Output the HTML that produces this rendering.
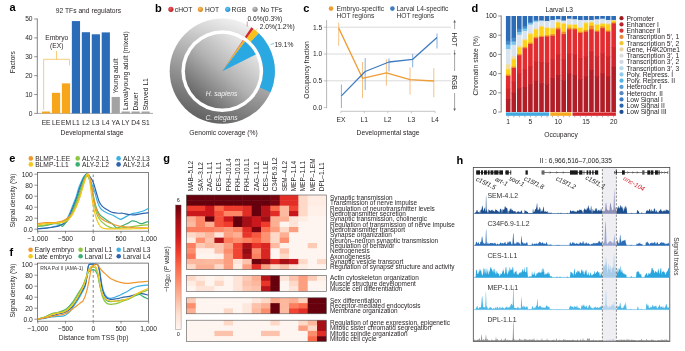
<!DOCTYPE html>
<html><head><meta charset="utf-8"><style>
html,body{margin:0;padding:0;background:#fff;width:685px;height:351px;overflow:hidden}
svg{display:block;font-family:"Liberation Sans", sans-serif;will-change:transform}
</style></head><body>
<svg width="685" height="351" viewBox="0 0 685 351">
<rect width="685" height="351" fill="#fff"/>
<text x="9.60" y="10.90" font-size="11" font-weight="bold" fill="#000">a</text>
<text x="88.50" y="13.30" font-size="6.7" text-anchor="middle" fill="#231f20">92 TFs and regulators</text>
<line x1="37.30" y1="18.60" x2="37.30" y2="113.70" stroke="#4d4d4d" stroke-width="0.7"/>
<line x1="34.20" y1="113.40" x2="37.30" y2="113.40" stroke="#4d4d4d" stroke-width="0.6"/>
<text x="32.60" y="115.70" font-size="6.7" text-anchor="end" fill="#231f20">0</text>
<line x1="34.20" y1="94.52" x2="37.30" y2="94.52" stroke="#4d4d4d" stroke-width="0.6"/>
<text x="32.60" y="96.82" font-size="6.7" text-anchor="end" fill="#231f20">10</text>
<line x1="34.20" y1="75.64" x2="37.30" y2="75.64" stroke="#4d4d4d" stroke-width="0.6"/>
<text x="32.60" y="77.94" font-size="6.7" text-anchor="end" fill="#231f20">20</text>
<line x1="34.20" y1="56.76" x2="37.30" y2="56.76" stroke="#4d4d4d" stroke-width="0.6"/>
<text x="32.60" y="59.06" font-size="6.7" text-anchor="end" fill="#231f20">30</text>
<line x1="34.20" y1="37.88" x2="37.30" y2="37.88" stroke="#4d4d4d" stroke-width="0.6"/>
<text x="32.60" y="40.18" font-size="6.7" text-anchor="end" fill="#231f20">40</text>
<line x1="34.20" y1="19.00" x2="37.30" y2="19.00" stroke="#4d4d4d" stroke-width="0.6"/>
<text x="32.60" y="21.30" font-size="6.7" text-anchor="end" fill="#231f20">50</text>
<line x1="37.30" y1="113.40" x2="153.00" y2="113.40" stroke="#888" stroke-width="0.7"/>
<rect x="42.00" y="111.51" width="8.20" height="1.89" fill="#f7a61c"/>
<text x="46.10" y="124.70" font-size="6.7" text-anchor="middle" fill="#231f20">EE</text>
<rect x="51.95" y="92.82" width="8.20" height="20.58" fill="#f7a61c"/>
<text x="56.05" y="124.70" font-size="6.7" text-anchor="middle" fill="#231f20">LE</text>
<rect x="61.90" y="83.38" width="8.20" height="30.02" fill="#f7a61c"/>
<text x="66.00" y="124.70" font-size="6.7" text-anchor="middle" fill="#231f20">EM</text>
<rect x="71.85" y="21.08" width="8.20" height="92.32" fill="#2b6cb8"/>
<text x="75.95" y="124.70" font-size="6.7" text-anchor="middle" fill="#231f20">L1</text>
<rect x="81.80" y="32.22" width="8.20" height="81.18" fill="#2b6cb8"/>
<text x="85.90" y="124.70" font-size="6.7" text-anchor="middle" fill="#231f20">L2</text>
<rect x="91.75" y="34.29" width="8.20" height="79.11" fill="#2b6cb8"/>
<text x="95.85" y="124.70" font-size="6.7" text-anchor="middle" fill="#231f20">L3</text>
<rect x="101.70" y="32.40" width="8.20" height="81.00" fill="#2b6cb8"/>
<text x="105.80" y="124.70" font-size="6.7" text-anchor="middle" fill="#231f20">L4</text>
<rect x="111.65" y="96.97" width="8.20" height="16.43" fill="#a3a3a3"/>
<text x="115.75" y="124.70" font-size="6.7" text-anchor="middle" fill="#231f20">YA</text>
<rect x="121.60" y="111.51" width="8.20" height="1.89" fill="#a3a3a3"/>
<text x="125.70" y="124.70" font-size="6.7" text-anchor="middle" fill="#231f20">LY</text>
<rect x="131.55" y="111.51" width="8.20" height="1.89" fill="#a3a3a3"/>
<text x="135.65" y="124.70" font-size="6.7" text-anchor="middle" fill="#231f20">D4</text>
<rect x="141.50" y="111.51" width="8.20" height="1.89" fill="#a3a3a3"/>
<text x="145.60" y="124.70" font-size="6.7" text-anchor="middle" fill="#231f20">S1</text>
<text x="92.00" y="135.40" font-size="6.7" text-anchor="middle" fill="#231f20">Developmental stage</text>
<text x="14.80" y="62.20" font-size="6.7" text-anchor="middle" fill="#231f20" transform="rotate(-90 14.80 62.20)">Factors</text>
<text x="56.80" y="39.90" font-size="6.7" text-anchor="middle" fill="#231f20">Embryo</text>
<text x="56.80" y="47.80" font-size="6.7" text-anchor="middle" fill="#231f20">(EX)</text>
<line x1="56.50" y1="51.00" x2="56.50" y2="59.30" stroke="#f5b843" stroke-width="0.7"/>
<line x1="43.60" y1="59.30" x2="69.50" y2="59.30" stroke="#f5b843" stroke-width="0.7"/>
<line x1="43.60" y1="59.30" x2="43.60" y2="109.80" stroke="#f5b843" stroke-width="0.7"/>
<line x1="69.50" y1="59.30" x2="69.50" y2="65.50" stroke="#f5b843" stroke-width="0.7"/>
<text x="117.60" y="93.50" font-size="6.7" fill="#231f20" transform="rotate(-90 117.60 93.50)">Young adult</text>
<text x="127.50" y="110.00" font-size="6.7" fill="#231f20" transform="rotate(-90 127.50 110.00)">Larval/young adult (mixed)</text>
<text x="137.50" y="110.50" font-size="6.7" fill="#231f20" transform="rotate(-90 137.50 110.50)">Dauer</text>
<text x="147.50" y="110.50" font-size="6.7" fill="#231f20" transform="rotate(-90 147.50 110.50)">Starved L1</text>
<text x="155.00" y="11.60" font-size="11" font-weight="bold" fill="#000">b</text>
<defs><radialGradient id="sR" cx="0.4" cy="0.35" r="0.7"><stop offset="0" stop-color="#ee5a5a"/><stop offset="1" stop-color="#b51a22"/></radialGradient><radialGradient id="sO" cx="0.4" cy="0.35" r="0.7"><stop offset="0" stop-color="#f7c060"/><stop offset="1" stop-color="#d9801a"/></radialGradient><radialGradient id="sB" cx="0.4" cy="0.35" r="0.7"><stop offset="0" stop-color="#6cc8f0"/><stop offset="1" stop-color="#1a8ad0"/></radialGradient><radialGradient id="sG" cx="0.4" cy="0.35" r="0.7"><stop offset="0" stop-color="#c8c8c8"/><stop offset="1" stop-color="#7a7a7a"/></radialGradient></defs>
<circle cx="170.90" cy="9.30" r="2.6" fill="url(#sR)"/>
<text x="174.80" y="11.60" font-size="6.7" fill="#231f20">cHOT</text>
<circle cx="200.40" cy="9.30" r="2.6" fill="url(#sO)"/>
<text x="204.90" y="11.60" font-size="6.7" fill="#231f20">HOT</text>
<circle cx="227.70" cy="9.30" r="2.6" fill="url(#sB)"/>
<text x="231.60" y="11.60" font-size="6.7" fill="#231f20">RGB</text>
<circle cx="255.00" cy="9.30" r="2.6" fill="url(#sG)"/>
<text x="260.40" y="11.60" font-size="6.7" fill="#231f20">No TFs</text>
<defs><linearGradient id="gOuter" x1="0.7" y1="0" x2="0.3" y2="1"><stop offset="0" stop-color="#f6f6f6"/><stop offset="0.45" stop-color="#b0b0b0"/><stop offset="1" stop-color="#5c5c5c"/></linearGradient><linearGradient id="gInner" x1="0.85" y1="0.1" x2="0.15" y2="0.9"><stop offset="0" stop-color="#ebebeb"/><stop offset="0.5" stop-color="#b2b2b2"/><stop offset="1" stop-color="#626262"/></linearGradient></defs>
<circle cx="222.3" cy="71.2" r="52.6" fill="url(#gOuter)"/>
<circle cx="222.3" cy="71.2" r="40.9" fill="#fff"/>
<circle cx="222.3" cy="71.2" r="37.4" fill="url(#gInner)"/>
<path d="M251.33,27.34 A52.6,52.6 0 0 1 253.59,28.92 L246.63,38.32 A40.9,40.9 0 0 0 244.87,37.09 Z" fill="#d7282f"/>
<path d="M253.59,28.92 A52.6,52.6 0 0 1 258.84,33.36 L250.71,41.78 A40.9,40.9 0 0 0 246.63,38.32 Z" fill="#f7c11c"/>
<path d="M258.84,33.36 A52.6,52.6 0 0 1 270.54,92.17 L259.81,87.51 A40.9,40.9 0 0 0 250.71,41.78 Z" fill="#2aa8e2"/>
<path d="M222.30,71.20 L242.83,39.94 A37.4,37.4 0 0 1 243.38,40.30 Z" fill="#d7282f"/>
<path d="M222.30,71.20 L243.38,40.30 A37.4,37.4 0 0 1 245.12,41.57 Z" fill="#f7b21c"/>
<path d="M222.30,71.20 L245.12,41.57 A37.4,37.4 0 0 1 255.77,54.51 Z" fill="#2aa8e2"/>
<line x1="247.20" y1="21.50" x2="247.20" y2="26.50" stroke="#d7282f" stroke-width="0.5"/>
<line x1="257.50" y1="28.50" x2="255.50" y2="31.00" stroke="#e8a21c" stroke-width="0.5"/>
<line x1="270.50" y1="44.50" x2="274.00" y2="43.50" stroke="#2aa8e2" stroke-width="0.6"/>
<text x="247.40" y="20.70" font-size="6.7" fill="#231f20">0.6%(0.3%)</text>
<text x="259.70" y="28.70" font-size="6.7" fill="#231f20">2.0%(1.2%)</text>
<text x="274.40" y="47.00" font-size="6.7" fill="#231f20">19.1%</text>
<text x="221.50" y="95.60" font-size="6.7" text-anchor="middle" font-style="italic" fill="#f4f4f4">H. sapiens</text>
<text x="221.50" y="120.00" font-size="6.7" text-anchor="middle" font-style="italic" fill="#eeeeee">C. elegans</text>
<text x="223.50" y="134.90" font-size="6.7" text-anchor="middle" fill="#231f20">Genomic coverage (%)</text>
<text x="303.30" y="11.80" font-size="11" font-weight="bold" fill="#000">c</text>
<circle cx="331.00" cy="8.60" r="2.3" fill="#ee9d33"/>
<text x="336.50" y="10.90" font-size="6.7" fill="#333">Embryo-specific</text>
<text x="336.50" y="17.60" font-size="6.7" fill="#333">HOT regions</text>
<circle cx="392.40" cy="8.60" r="2.3" fill="#3f7cc0"/>
<text x="396.40" y="10.90" font-size="6.7" fill="#333">Larval L4-specific</text>
<text x="396.40" y="17.60" font-size="6.7" fill="#333">HOT regions</text>
<line x1="327.00" y1="80.80" x2="451.00" y2="80.80" stroke="#d6d6d6" stroke-width="0.9"/>
<line x1="327.00" y1="54.00" x2="451.00" y2="54.00" stroke="#d6d6d6" stroke-width="0.9"/>
<line x1="327.00" y1="27.20" x2="451.00" y2="27.20" stroke="#d6d6d6" stroke-width="0.9"/>
<line x1="326.60" y1="20.00" x2="326.60" y2="108.10" stroke="#9a9a9a" stroke-width="0.7"/>
<line x1="323.80" y1="107.60" x2="326.60" y2="107.60" stroke="#9a9a9a" stroke-width="0.6"/>
<text x="322.20" y="109.90" font-size="6.7" text-anchor="end" fill="#231f20">0.0</text>
<line x1="323.80" y1="80.80" x2="326.60" y2="80.80" stroke="#9a9a9a" stroke-width="0.6"/>
<text x="322.20" y="83.10" font-size="6.7" text-anchor="end" fill="#231f20">0.5</text>
<line x1="323.80" y1="54.00" x2="326.60" y2="54.00" stroke="#9a9a9a" stroke-width="0.6"/>
<text x="322.20" y="56.30" font-size="6.7" text-anchor="end" fill="#231f20">1.0</text>
<line x1="323.80" y1="27.20" x2="326.60" y2="27.20" stroke="#9a9a9a" stroke-width="0.6"/>
<text x="322.20" y="29.50" font-size="6.7" text-anchor="end" fill="#231f20">1.5</text>
<text x="309.00" y="70.00" font-size="6.7" text-anchor="middle" fill="#231f20" transform="rotate(-90 309.00 70.00)">Occupancy fraction</text>
<line x1="340.90" y1="111.30" x2="435.10" y2="111.30" stroke="#aaaaaa" stroke-width="0.7"/>
<line x1="340.90" y1="111.30" x2="340.90" y2="113.30" stroke="#aaaaaa" stroke-width="0.6"/>
<text x="340.90" y="121.70" font-size="6.7" text-anchor="middle" fill="#231f20">EX</text>
<line x1="364.30" y1="111.30" x2="364.30" y2="113.30" stroke="#aaaaaa" stroke-width="0.6"/>
<text x="364.30" y="121.70" font-size="6.7" text-anchor="middle" fill="#231f20">L1</text>
<line x1="387.80" y1="111.30" x2="387.80" y2="113.30" stroke="#aaaaaa" stroke-width="0.6"/>
<text x="387.80" y="121.70" font-size="6.7" text-anchor="middle" fill="#231f20">L2</text>
<line x1="411.40" y1="111.30" x2="411.40" y2="113.30" stroke="#aaaaaa" stroke-width="0.6"/>
<text x="411.40" y="121.70" font-size="6.7" text-anchor="middle" fill="#231f20">L3</text>
<line x1="435.10" y1="111.30" x2="435.10" y2="113.30" stroke="#aaaaaa" stroke-width="0.6"/>
<text x="435.10" y="121.70" font-size="6.7" text-anchor="middle" fill="#231f20">L4</text>
<text x="388.00" y="134.90" font-size="6.7" text-anchor="middle" fill="#231f20">Developmental stage</text>
<line x1="338.70" y1="22.70" x2="338.70" y2="45.70" stroke="#f2b366" stroke-width="0.8"/>
<line x1="362.50" y1="62.00" x2="362.50" y2="98.00" stroke="#f2b366" stroke-width="0.8"/>
<line x1="386.40" y1="59.30" x2="386.40" y2="85.60" stroke="#f2b366" stroke-width="0.8"/>
<line x1="410.00" y1="67.40" x2="410.00" y2="94.50" stroke="#f2b366" stroke-width="0.8"/>
<line x1="433.80" y1="68.20" x2="433.80" y2="97.20" stroke="#f2b366" stroke-width="0.8"/>
<line x1="341.40" y1="84.50" x2="341.40" y2="108.00" stroke="#6c9bd2" stroke-width="0.8"/>
<line x1="365.20" y1="58.00" x2="365.20" y2="90.00" stroke="#6c9bd2" stroke-width="0.8"/>
<line x1="389.00" y1="58.50" x2="389.00" y2="71.50" stroke="#6c9bd2" stroke-width="0.8"/>
<line x1="412.70" y1="53.90" x2="412.70" y2="67.40" stroke="#6c9bd2" stroke-width="0.8"/>
<line x1="437.00" y1="33.50" x2="437.00" y2="48.50" stroke="#6c9bd2" stroke-width="0.8"/>
<polyline points="338.7,28.1 362.5,78.3 386.4,72.8 410.0,79.6 433.8,81.0" fill="none" stroke="#ee9d33" stroke-width="1.3" stroke-linejoin="round"/>
<polyline points="341.4,95.9 365.2,71.5 389.0,62.0 412.7,59.3 437.0,37.6" fill="none" stroke="#3f7cc0" stroke-width="1.3" stroke-linejoin="round"/>
<line x1="454.60" y1="21.00" x2="454.60" y2="109.50" stroke="#666" stroke-width="0.6"/>
<path d="M453.3,22.5 L454.6,19.8 L455.90000000000003,22.5 Z" fill="#666"/>
<path d="M453.3,108.5 L454.6,111.2 L455.90000000000003,108.5 Z" fill="#666"/>
<circle cx="454.60" cy="53.70" r="0.9" fill="#666"/>
<rect x="451.60" y="29.00" width="6.00" height="21.00" fill="#fff"/>
<rect x="451.60" y="71.00" width="6.00" height="22.00" fill="#fff"/>
<text x="452.30" y="39.50" font-size="6.7" text-anchor="middle" fill="#231f20" transform="rotate(90 452.30 39.50)">HOT</text>
<text x="452.30" y="82.40" font-size="6.7" text-anchor="middle" fill="#231f20" transform="rotate(90 452.30 82.40)">RGB</text>
<text x="471.60" y="11.60" font-size="11" font-weight="bold" fill="#000">d</text>
<text x="559.20" y="11.60" font-size="6.7" text-anchor="middle" fill="#231f20">Larval L3</text>
<line x1="501.20" y1="15.50" x2="501.20" y2="112.30" stroke="#4d4d4d" stroke-width="0.7"/>
<line x1="498.20" y1="112.00" x2="501.20" y2="112.00" stroke="#4d4d4d" stroke-width="0.6"/>
<text x="496.80" y="114.30" font-size="6.7" text-anchor="end" fill="#231f20">0</text>
<line x1="498.20" y1="92.80" x2="501.20" y2="92.80" stroke="#4d4d4d" stroke-width="0.6"/>
<text x="496.80" y="95.10" font-size="6.7" text-anchor="end" fill="#231f20">20</text>
<line x1="498.20" y1="73.60" x2="501.20" y2="73.60" stroke="#4d4d4d" stroke-width="0.6"/>
<text x="496.80" y="75.90" font-size="6.7" text-anchor="end" fill="#231f20">40</text>
<line x1="498.20" y1="54.40" x2="501.20" y2="54.40" stroke="#4d4d4d" stroke-width="0.6"/>
<text x="496.80" y="56.70" font-size="6.7" text-anchor="end" fill="#231f20">60</text>
<line x1="498.20" y1="35.20" x2="501.20" y2="35.20" stroke="#4d4d4d" stroke-width="0.6"/>
<text x="496.80" y="37.50" font-size="6.7" text-anchor="end" fill="#231f20">80</text>
<line x1="498.20" y1="16.00" x2="501.20" y2="16.00" stroke="#4d4d4d" stroke-width="0.6"/>
<text x="496.80" y="18.30" font-size="6.7" text-anchor="end" fill="#231f20">100</text>
<text x="477.60" y="65.80" font-size="6.7" text-anchor="middle" fill="#231f20" transform="rotate(-90 477.60 65.80)">Chromatin state (%)</text>
<rect x="505.90" y="16.00" width="4.60" height="25.37" fill="#2c6bb5"/>
<rect x="505.90" y="40.77" width="4.60" height="4.44" fill="#4289cc"/>
<rect x="505.90" y="44.61" width="4.60" height="5.02" fill="#78c4ec"/>
<rect x="505.90" y="49.02" width="4.60" height="15.77" fill="#dae4ee"/>
<rect x="505.90" y="64.19" width="4.60" height="5.69" fill="#f3dc9a"/>
<rect x="505.90" y="69.28" width="4.60" height="5.88" fill="#fcd118"/>
<rect x="505.90" y="74.56" width="4.60" height="2.04" fill="#f08a24"/>
<rect x="505.90" y="76.00" width="4.60" height="13.27" fill="#e32c2f"/>
<rect x="505.90" y="88.67" width="4.60" height="10.97" fill="#d0242b"/>
<rect x="505.90" y="99.04" width="4.60" height="12.96" fill="#b21e27"/>
<rect x="511.45" y="16.00" width="4.60" height="22.20" fill="#2c6bb5"/>
<rect x="511.45" y="37.60" width="4.60" height="4.44" fill="#4289cc"/>
<rect x="511.45" y="41.44" width="4.60" height="3.96" fill="#78c4ec"/>
<rect x="511.45" y="44.80" width="4.60" height="12.12" fill="#dae4ee"/>
<rect x="511.45" y="56.32" width="4.60" height="3.48" fill="#f3dc9a"/>
<rect x="511.45" y="59.20" width="4.60" height="7.99" fill="#fcd118"/>
<rect x="511.45" y="66.59" width="4.60" height="2.04" fill="#f08a24"/>
<rect x="511.45" y="68.03" width="4.60" height="14.22" fill="#e32c2f"/>
<rect x="511.45" y="81.65" width="4.60" height="11.75" fill="#d0242b"/>
<rect x="511.45" y="92.80" width="4.60" height="19.20" fill="#b21e27"/>
<rect x="517.00" y="16.00" width="4.60" height="13.27" fill="#2c6bb5"/>
<rect x="517.00" y="28.67" width="4.60" height="3.77" fill="#4289cc"/>
<rect x="517.00" y="31.84" width="4.60" height="3.48" fill="#78c4ec"/>
<rect x="517.00" y="34.72" width="4.60" height="11.64" fill="#dae4ee"/>
<rect x="517.00" y="45.76" width="4.60" height="2.33" fill="#f3dc9a"/>
<rect x="517.00" y="47.49" width="4.60" height="7.03" fill="#fcd118"/>
<rect x="517.00" y="53.92" width="4.60" height="2.04" fill="#f08a24"/>
<rect x="517.00" y="55.36" width="4.60" height="18.82" fill="#e32c2f"/>
<rect x="517.00" y="73.58" width="4.60" height="15.50" fill="#d0242b"/>
<rect x="517.00" y="88.48" width="4.60" height="23.52" fill="#b21e27"/>
<rect x="522.55" y="16.00" width="4.60" height="10.58" fill="#2c6bb5"/>
<rect x="522.55" y="25.98" width="4.60" height="3.10" fill="#4289cc"/>
<rect x="522.55" y="28.48" width="4.60" height="3.10" fill="#78c4ec"/>
<rect x="522.55" y="30.98" width="4.60" height="8.57" fill="#dae4ee"/>
<rect x="522.55" y="38.94" width="4.60" height="2.04" fill="#f3dc9a"/>
<rect x="522.55" y="40.38" width="4.60" height="7.03" fill="#fcd118"/>
<rect x="522.55" y="46.82" width="4.60" height="2.04" fill="#f08a24"/>
<rect x="522.55" y="48.26" width="4.60" height="21.93" fill="#e32c2f"/>
<rect x="522.55" y="69.59" width="4.60" height="18.05" fill="#d0242b"/>
<rect x="522.55" y="87.04" width="4.60" height="24.96" fill="#b21e27"/>
<rect x="528.10" y="16.00" width="4.60" height="6.36" fill="#2c6bb5"/>
<rect x="528.10" y="21.76" width="4.60" height="2.04" fill="#4289cc"/>
<rect x="528.10" y="23.20" width="4.60" height="2.04" fill="#78c4ec"/>
<rect x="528.10" y="24.64" width="4.60" height="8.76" fill="#dae4ee"/>
<rect x="528.10" y="32.80" width="4.60" height="2.04" fill="#f3dc9a"/>
<rect x="528.10" y="34.24" width="4.60" height="8.95" fill="#fcd118"/>
<rect x="528.10" y="42.59" width="4.60" height="2.04" fill="#f08a24"/>
<rect x="528.10" y="44.03" width="4.60" height="22.67" fill="#e32c2f"/>
<rect x="528.10" y="66.10" width="4.60" height="18.66" fill="#d0242b"/>
<rect x="528.10" y="84.16" width="4.60" height="27.84" fill="#b21e27"/>
<rect x="533.65" y="16.00" width="4.60" height="4.44" fill="#2c6bb5"/>
<rect x="533.65" y="19.84" width="4.60" height="1.56" fill="#4289cc"/>
<rect x="533.65" y="20.80" width="4.60" height="1.66" fill="#78c4ec"/>
<rect x="533.65" y="21.86" width="4.60" height="7.03" fill="#dae4ee"/>
<rect x="533.65" y="28.29" width="4.60" height="2.04" fill="#f3dc9a"/>
<rect x="533.65" y="29.73" width="4.60" height="7.70" fill="#fcd118"/>
<rect x="533.65" y="36.83" width="4.60" height="2.04" fill="#f08a24"/>
<rect x="533.65" y="38.27" width="4.60" height="23.99" fill="#e32c2f"/>
<rect x="533.65" y="61.66" width="4.60" height="19.74" fill="#d0242b"/>
<rect x="533.65" y="80.80" width="4.60" height="31.20" fill="#b21e27"/>
<rect x="539.20" y="16.00" width="4.60" height="5.11" fill="#2c6bb5"/>
<rect x="539.20" y="20.51" width="4.60" height="5.88" fill="#dae4ee"/>
<rect x="539.20" y="25.79" width="4.60" height="1.56" fill="#f3dc9a"/>
<rect x="539.20" y="26.75" width="4.60" height="9.72" fill="#fcd118"/>
<rect x="539.20" y="35.87" width="4.60" height="1.75" fill="#f08a24"/>
<rect x="539.20" y="37.02" width="4.60" height="26.00" fill="#e32c2f"/>
<rect x="539.20" y="62.42" width="4.60" height="21.38" fill="#d0242b"/>
<rect x="539.20" y="83.20" width="4.60" height="28.80" fill="#b21e27"/>
<rect x="544.75" y="16.00" width="4.60" height="5.59" fill="#2c6bb5"/>
<rect x="544.75" y="20.99" width="4.60" height="6.65" fill="#dae4ee"/>
<rect x="544.75" y="27.04" width="4.60" height="1.56" fill="#f3dc9a"/>
<rect x="544.75" y="28.00" width="4.60" height="7.90" fill="#fcd118"/>
<rect x="544.75" y="35.30" width="4.60" height="1.85" fill="#f08a24"/>
<rect x="544.75" y="36.54" width="4.60" height="26.79" fill="#e32c2f"/>
<rect x="544.75" y="62.73" width="4.60" height="22.03" fill="#d0242b"/>
<rect x="544.75" y="84.16" width="4.60" height="27.84" fill="#b21e27"/>
<rect x="550.30" y="16.00" width="4.60" height="4.54" fill="#2c6bb5"/>
<rect x="550.30" y="19.94" width="4.60" height="8.28" fill="#dae4ee"/>
<rect x="550.30" y="27.62" width="4.60" height="1.56" fill="#f3dc9a"/>
<rect x="550.30" y="28.58" width="4.60" height="6.17" fill="#fcd118"/>
<rect x="550.30" y="34.14" width="4.60" height="2.33" fill="#f08a24"/>
<rect x="550.30" y="35.87" width="4.60" height="23.99" fill="#e32c2f"/>
<rect x="550.30" y="59.26" width="4.60" height="19.74" fill="#d0242b"/>
<rect x="550.30" y="78.40" width="4.60" height="33.60" fill="#b21e27"/>
<rect x="555.85" y="16.00" width="4.60" height="3.86" fill="#2c6bb5"/>
<rect x="555.85" y="19.26" width="4.60" height="3.00" fill="#dae4ee"/>
<rect x="555.85" y="21.66" width="4.60" height="1.56" fill="#f3dc9a"/>
<rect x="555.85" y="22.62" width="4.60" height="5.59" fill="#fcd118"/>
<rect x="555.85" y="27.62" width="4.60" height="2.42" fill="#f08a24"/>
<rect x="555.85" y="29.44" width="4.60" height="25.68" fill="#e32c2f"/>
<rect x="555.85" y="54.52" width="4.60" height="21.12" fill="#d0242b"/>
<rect x="555.85" y="75.04" width="4.60" height="36.96" fill="#b21e27"/>
<rect x="561.40" y="16.00" width="4.60" height="5.11" fill="#2c6bb5"/>
<rect x="561.40" y="20.51" width="4.60" height="3.00" fill="#dae4ee"/>
<rect x="561.40" y="22.91" width="4.60" height="1.56" fill="#f3dc9a"/>
<rect x="561.40" y="23.87" width="4.60" height="8.47" fill="#fcd118"/>
<rect x="561.40" y="31.74" width="4.60" height="3.00" fill="#f08a24"/>
<rect x="561.40" y="34.14" width="4.60" height="26.00" fill="#e32c2f"/>
<rect x="561.40" y="59.54" width="4.60" height="21.38" fill="#d0242b"/>
<rect x="561.40" y="80.32" width="4.60" height="31.68" fill="#b21e27"/>
<rect x="566.95" y="16.00" width="4.60" height="3.29" fill="#2c6bb5"/>
<rect x="566.95" y="18.69" width="4.60" height="5.88" fill="#dae4ee"/>
<rect x="566.95" y="23.97" width="4.60" height="1.56" fill="#f3dc9a"/>
<rect x="566.95" y="24.93" width="4.60" height="3.29" fill="#fcd118"/>
<rect x="566.95" y="27.62" width="4.60" height="2.42" fill="#f08a24"/>
<rect x="566.95" y="29.44" width="4.60" height="24.89" fill="#e32c2f"/>
<rect x="566.95" y="53.73" width="4.60" height="20.47" fill="#d0242b"/>
<rect x="566.95" y="73.60" width="4.60" height="38.40" fill="#b21e27"/>
<rect x="572.50" y="16.00" width="4.60" height="3.86" fill="#2c6bb5"/>
<rect x="572.50" y="19.26" width="4.60" height="5.30" fill="#dae4ee"/>
<rect x="572.50" y="23.97" width="4.60" height="1.56" fill="#f3dc9a"/>
<rect x="572.50" y="24.93" width="4.60" height="3.86" fill="#fcd118"/>
<rect x="572.50" y="28.19" width="4.60" height="1.85" fill="#f08a24"/>
<rect x="572.50" y="29.44" width="4.60" height="25.68" fill="#e32c2f"/>
<rect x="572.50" y="54.52" width="4.60" height="21.12" fill="#d0242b"/>
<rect x="572.50" y="75.04" width="4.60" height="36.96" fill="#b21e27"/>
<rect x="578.05" y="16.00" width="4.60" height="4.54" fill="#2c6bb5"/>
<rect x="578.05" y="19.94" width="4.60" height="7.70" fill="#dae4ee"/>
<rect x="578.05" y="27.04" width="4.60" height="1.56" fill="#f3dc9a"/>
<rect x="578.05" y="28.00" width="4.60" height="4.34" fill="#fcd118"/>
<rect x="578.05" y="31.74" width="4.60" height="1.75" fill="#f08a24"/>
<rect x="578.05" y="32.90" width="4.60" height="26.16" fill="#e32c2f"/>
<rect x="578.05" y="58.45" width="4.60" height="21.51" fill="#d0242b"/>
<rect x="578.05" y="79.36" width="4.60" height="32.64" fill="#b21e27"/>
<rect x="583.60" y="16.00" width="4.60" height="4.54" fill="#2c6bb5"/>
<rect x="583.60" y="19.94" width="4.60" height="3.00" fill="#dae4ee"/>
<rect x="583.60" y="22.34" width="4.60" height="1.56" fill="#f3dc9a"/>
<rect x="583.60" y="23.30" width="4.60" height="7.32" fill="#fcd118"/>
<rect x="583.60" y="30.02" width="4.60" height="2.33" fill="#f08a24"/>
<rect x="583.60" y="31.74" width="4.60" height="25.20" fill="#e32c2f"/>
<rect x="583.60" y="56.35" width="4.60" height="20.73" fill="#d0242b"/>
<rect x="583.60" y="76.48" width="4.60" height="35.52" fill="#b21e27"/>
<rect x="589.15" y="16.00" width="4.60" height="4.54" fill="#2c6bb5"/>
<rect x="589.15" y="19.94" width="4.60" height="2.33" fill="#dae4ee"/>
<rect x="589.15" y="21.66" width="4.60" height="1.56" fill="#f3dc9a"/>
<rect x="589.15" y="22.62" width="4.60" height="3.77" fill="#fcd118"/>
<rect x="589.15" y="25.79" width="4.60" height="4.25" fill="#f08a24"/>
<rect x="589.15" y="29.44" width="4.60" height="22.93" fill="#e32c2f"/>
<rect x="589.15" y="51.77" width="4.60" height="18.87" fill="#d0242b"/>
<rect x="589.15" y="70.05" width="4.60" height="41.95" fill="#b21e27"/>
<rect x="594.70" y="16.00" width="4.60" height="3.86" fill="#2c6bb5"/>
<rect x="594.70" y="19.26" width="4.60" height="5.30" fill="#dae4ee"/>
<rect x="594.70" y="23.97" width="4.60" height="1.56" fill="#f3dc9a"/>
<rect x="594.70" y="24.93" width="4.60" height="6.17" fill="#fcd118"/>
<rect x="594.70" y="30.50" width="4.60" height="1.85" fill="#f08a24"/>
<rect x="594.70" y="31.74" width="4.60" height="25.20" fill="#e32c2f"/>
<rect x="594.70" y="56.35" width="4.60" height="20.73" fill="#d0242b"/>
<rect x="594.70" y="76.48" width="4.60" height="35.52" fill="#b21e27"/>
<rect x="600.25" y="16.00" width="4.60" height="3.29" fill="#2c6bb5"/>
<rect x="600.25" y="18.69" width="4.60" height="4.82" fill="#dae4ee"/>
<rect x="600.25" y="22.91" width="4.60" height="1.56" fill="#f3dc9a"/>
<rect x="600.25" y="23.87" width="4.60" height="3.10" fill="#fcd118"/>
<rect x="600.25" y="26.37" width="4.60" height="2.42" fill="#f08a24"/>
<rect x="600.25" y="28.19" width="4.60" height="25.57" fill="#e32c2f"/>
<rect x="600.25" y="53.17" width="4.60" height="21.03" fill="#d0242b"/>
<rect x="600.25" y="73.60" width="4.60" height="38.40" fill="#b21e27"/>
<rect x="605.80" y="16.00" width="4.60" height="4.54" fill="#2c6bb5"/>
<rect x="605.80" y="19.94" width="4.60" height="4.15" fill="#dae4ee"/>
<rect x="605.80" y="23.49" width="4.60" height="1.56" fill="#f3dc9a"/>
<rect x="605.80" y="24.45" width="4.60" height="6.65" fill="#fcd118"/>
<rect x="605.80" y="30.50" width="4.60" height="1.85" fill="#f08a24"/>
<rect x="605.80" y="31.74" width="4.60" height="25.20" fill="#e32c2f"/>
<rect x="605.80" y="56.35" width="4.60" height="20.73" fill="#d0242b"/>
<rect x="605.80" y="76.48" width="4.60" height="35.52" fill="#b21e27"/>
<rect x="611.35" y="16.00" width="4.60" height="4.54" fill="#2c6bb5"/>
<rect x="611.35" y="19.94" width="4.60" height="1.56" fill="#f3dc9a"/>
<rect x="611.35" y="20.90" width="4.60" height="2.04" fill="#fcd118"/>
<rect x="611.35" y="22.34" width="4.60" height="1.75" fill="#f08a24"/>
<rect x="611.35" y="23.49" width="4.60" height="24.47" fill="#e32c2f"/>
<rect x="611.35" y="47.35" width="4.60" height="20.13" fill="#d0242b"/>
<rect x="611.35" y="66.88" width="4.60" height="45.12" fill="#b21e27"/>
<rect x="505.90" y="112.40" width="43.30" height="3.40" fill="#41a8e0"/>
<rect x="550.30" y="112.40" width="21.00" height="3.40" fill="#f7a81c"/>
<rect x="572.50" y="112.40" width="43.40" height="3.40" fill="#d8262c"/>
<line x1="508.20" y1="115.80" x2="508.20" y2="117.30" stroke="#666" stroke-width="0.5"/>
<line x1="513.75" y1="115.80" x2="513.75" y2="117.30" stroke="#666" stroke-width="0.5"/>
<line x1="519.30" y1="115.80" x2="519.30" y2="117.30" stroke="#666" stroke-width="0.5"/>
<line x1="524.85" y1="115.80" x2="524.85" y2="117.30" stroke="#666" stroke-width="0.5"/>
<line x1="530.40" y1="115.80" x2="530.40" y2="117.30" stroke="#666" stroke-width="0.5"/>
<line x1="535.95" y1="115.80" x2="535.95" y2="117.30" stroke="#666" stroke-width="0.5"/>
<line x1="541.50" y1="115.80" x2="541.50" y2="117.30" stroke="#666" stroke-width="0.5"/>
<line x1="547.05" y1="115.80" x2="547.05" y2="117.30" stroke="#666" stroke-width="0.5"/>
<line x1="552.60" y1="115.80" x2="552.60" y2="117.30" stroke="#666" stroke-width="0.5"/>
<line x1="558.15" y1="115.80" x2="558.15" y2="117.30" stroke="#666" stroke-width="0.5"/>
<line x1="563.70" y1="115.80" x2="563.70" y2="117.30" stroke="#666" stroke-width="0.5"/>
<line x1="569.25" y1="115.80" x2="569.25" y2="117.30" stroke="#666" stroke-width="0.5"/>
<line x1="574.80" y1="115.80" x2="574.80" y2="117.30" stroke="#666" stroke-width="0.5"/>
<line x1="580.35" y1="115.80" x2="580.35" y2="117.30" stroke="#666" stroke-width="0.5"/>
<line x1="585.90" y1="115.80" x2="585.90" y2="117.30" stroke="#666" stroke-width="0.5"/>
<line x1="591.45" y1="115.80" x2="591.45" y2="117.30" stroke="#666" stroke-width="0.5"/>
<line x1="597.00" y1="115.80" x2="597.00" y2="117.30" stroke="#666" stroke-width="0.5"/>
<line x1="602.55" y1="115.80" x2="602.55" y2="117.30" stroke="#666" stroke-width="0.5"/>
<line x1="608.10" y1="115.80" x2="608.10" y2="117.30" stroke="#666" stroke-width="0.5"/>
<line x1="613.65" y1="115.80" x2="613.65" y2="117.30" stroke="#666" stroke-width="0.5"/>
<text x="508.20" y="123.80" font-size="6.7" text-anchor="middle" fill="#231f20">1</text>
<text x="530.40" y="123.80" font-size="6.7" text-anchor="middle" fill="#231f20">5</text>
<text x="558.15" y="123.80" font-size="6.7" text-anchor="middle" fill="#231f20">10</text>
<text x="585.90" y="123.80" font-size="6.7" text-anchor="middle" fill="#231f20">15</text>
<text x="613.65" y="123.80" font-size="6.7" text-anchor="middle" fill="#231f20">20</text>
<text x="561.00" y="136.50" font-size="6.7" text-anchor="middle" fill="#231f20">Occupancy</text>
<circle cx="621.50" cy="18.20" r="2.1" fill="#9e1b22"/>
<text x="626.50" y="20.50" font-size="6.7" fill="#231f20">Promoter</text>
<circle cx="621.50" cy="24.45" r="2.1" fill="#b9232a"/>
<text x="626.50" y="26.75" font-size="6.7" fill="#231f20">Enhancer I</text>
<circle cx="621.50" cy="30.70" r="2.1" fill="#d3343a"/>
<text x="626.50" y="33.00" font-size="6.7" fill="#231f20">Enhancer II</text>
<circle cx="621.50" cy="36.95" r="2.1" fill="#e8883a"/>
<text x="626.50" y="39.25" font-size="6.7" fill="#231f20">Transcription 5′, 1</text>
<circle cx="621.50" cy="43.20" r="2.1" fill="#f4c430"/>
<text x="626.50" y="45.50" font-size="6.7" fill="#231f20">Transcription 5′, 2</text>
<circle cx="621.50" cy="49.45" r="2.1" fill="#eed59c"/>
<text x="626.50" y="51.75" font-size="6.7" fill="#231f20">Gene, H4K20me1</text>
<circle cx="621.50" cy="55.70" r="2.1" fill="#dcdcdc"/>
<text x="626.50" y="58.00" font-size="6.7" fill="#231f20">Transcription 3′, 1</text>
<circle cx="621.50" cy="61.95" r="2.1" fill="#cfd8e4"/>
<text x="626.50" y="64.25" font-size="6.7" fill="#231f20">Transcription 3′, 2</text>
<circle cx="621.50" cy="68.20" r="2.1" fill="#b7dbeb"/>
<text x="626.50" y="70.50" font-size="6.7" fill="#231f20">Transcription 3′, 3</text>
<circle cx="621.50" cy="74.45" r="2.1" fill="#8ccbe9"/>
<text x="626.50" y="76.75" font-size="6.7" fill="#231f20">Poly. Repress. I</text>
<circle cx="621.50" cy="80.70" r="2.1" fill="#52b5e5"/>
<text x="626.50" y="83.00" font-size="6.7" fill="#231f20">Poly. Repress. II</text>
<circle cx="621.50" cy="86.95" r="2.1" fill="#5a9bd5"/>
<text x="626.50" y="89.25" font-size="6.7" fill="#231f20">Heterochr. I</text>
<circle cx="621.50" cy="93.20" r="2.1" fill="#5b86c2"/>
<text x="626.50" y="95.50" font-size="6.7" fill="#231f20">Heterochr. II</text>
<circle cx="621.50" cy="99.45" r="2.1" fill="#3a78c0"/>
<text x="626.50" y="101.75" font-size="6.7" fill="#231f20">Low Signal I</text>
<circle cx="621.50" cy="105.70" r="2.1" fill="#2866b0"/>
<text x="626.50" y="108.00" font-size="6.7" fill="#231f20">Low Signal II</text>
<circle cx="621.50" cy="111.95" r="2.1" fill="#1f4f92"/>
<text x="626.50" y="114.25" font-size="6.7" fill="#231f20">Low Signal III</text>
<text x="9.30" y="162.00" font-size="11" font-weight="bold" fill="#000">e</text>
<circle cx="30.80" cy="158.40" r="2.3" fill="#f0982e"/>
<text x="35.20" y="160.80" font-size="6.7" fill="#231f20">BLMP-1.EE</text>
<circle cx="30.80" cy="164.40" r="2.3" fill="#f5c61c"/>
<text x="35.20" y="166.80" font-size="6.7" fill="#231f20">BLMP-1.L1</text>
<circle cx="77.70" cy="158.40" r="2.3" fill="#8dc63f"/>
<text x="82.10" y="160.80" font-size="6.7" fill="#231f20">ALY-2.L1</text>
<circle cx="77.70" cy="164.40" r="2.3" fill="#3fae74"/>
<text x="82.10" y="166.80" font-size="6.7" fill="#231f20">ALY-2.L2</text>
<circle cx="118.60" cy="158.40" r="2.3" fill="#3bb0e4"/>
<text x="123.00" y="160.80" font-size="6.7" fill="#231f20">ALY-2.L3</text>
<circle cx="118.60" cy="164.40" r="2.3" fill="#2f62ad"/>
<text x="123.00" y="166.80" font-size="6.7" fill="#231f20">ALY-2.L4</text>
<rect x="37.6" y="172.50" width="111.0" height="58.70" fill="none" stroke="#4d4d4d" stroke-width="0.7"/>
<line x1="34.40" y1="229.20" x2="37.60" y2="229.20" stroke="#4d4d4d" stroke-width="0.6"/>
<text x="32.80" y="231.50" font-size="6.7" text-anchor="end" fill="#231f20">0.0</text>
<line x1="34.40" y1="218.20" x2="37.60" y2="218.20" stroke="#4d4d4d" stroke-width="0.6"/>
<text x="32.80" y="220.50" font-size="6.7" text-anchor="end" fill="#231f20">20</text>
<line x1="34.40" y1="207.20" x2="37.60" y2="207.20" stroke="#4d4d4d" stroke-width="0.6"/>
<text x="32.80" y="209.50" font-size="6.7" text-anchor="end" fill="#231f20">40</text>
<line x1="34.40" y1="196.20" x2="37.60" y2="196.20" stroke="#4d4d4d" stroke-width="0.6"/>
<text x="32.80" y="198.50" font-size="6.7" text-anchor="end" fill="#231f20">60</text>
<line x1="34.40" y1="185.20" x2="37.60" y2="185.20" stroke="#4d4d4d" stroke-width="0.6"/>
<text x="32.80" y="187.50" font-size="6.7" text-anchor="end" fill="#231f20">80</text>
<line x1="34.40" y1="174.20" x2="37.60" y2="174.20" stroke="#4d4d4d" stroke-width="0.6"/>
<text x="32.80" y="176.50" font-size="6.7" text-anchor="end" fill="#231f20">100</text>
<line x1="37.80" y1="231.20" x2="37.80" y2="233.50" stroke="#4d4d4d" stroke-width="0.6"/>
<text x="37.80" y="241.40" font-size="6.7" text-anchor="middle" fill="#231f20">−1,000</text>
<line x1="65.53" y1="231.20" x2="65.53" y2="233.50" stroke="#4d4d4d" stroke-width="0.6"/>
<text x="65.53" y="241.40" font-size="6.7" text-anchor="middle" fill="#231f20">−500</text>
<line x1="93.25" y1="231.20" x2="93.25" y2="233.50" stroke="#4d4d4d" stroke-width="0.6"/>
<text x="93.25" y="241.40" font-size="6.7" text-anchor="middle" fill="#231f20">0</text>
<line x1="120.97" y1="231.20" x2="120.97" y2="233.50" stroke="#4d4d4d" stroke-width="0.6"/>
<text x="120.97" y="241.40" font-size="6.7" text-anchor="middle" fill="#231f20">500</text>
<line x1="148.70" y1="231.20" x2="148.70" y2="233.50" stroke="#4d4d4d" stroke-width="0.6"/>
<text x="148.70" y="241.40" font-size="6.7" text-anchor="middle" fill="#231f20">1,000</text>
<line x1="93.25" y1="174.50" x2="93.25" y2="231.20" stroke="#999" stroke-width="1.2" stroke-dasharray="2.6,2.4"/>
<path d="M37.80,228.65 C39.19,228.56 43.34,228.47 46.12,228.10 C48.89,227.73 52.12,226.91 54.44,226.45 C56.75,225.99 58.21,226.08 59.98,225.35 C61.75,224.62 63.58,223.70 65.03,222.05 C66.48,220.40 67.47,218.02 68.69,215.45 C69.90,212.88 71.07,209.67 72.29,206.65 C73.51,203.62 74.93,200.42 76.01,197.30 C77.08,194.18 77.66,190.97 78.72,187.95 C79.78,184.92 81.35,181.26 82.38,179.15 C83.42,177.04 84.30,176.12 84.93,175.30 C85.56,174.47 85.69,174.11 86.15,174.20 C86.61,174.29 86.98,174.75 87.70,175.85 C88.43,176.95 89.37,178.32 90.48,180.80 C91.59,183.27 93.20,187.22 94.36,190.70 C95.51,194.18 96.39,198.77 97.41,201.70 C98.43,204.63 99.30,206.65 100.46,208.30 C101.61,209.95 102.95,210.68 104.34,211.60 C105.73,212.52 107.27,213.16 108.78,213.80 C110.28,214.44 111.81,214.72 113.38,215.45 C114.95,216.18 116.98,217.56 118.20,218.20 C119.42,218.84 119.68,219.39 120.70,219.30 C121.71,219.21 122.50,218.57 124.30,217.65 C126.10,216.73 129.29,214.62 131.51,213.80 C133.73,212.97 135.67,213.16 137.61,212.70 C139.55,212.24 141.31,211.78 143.16,211.05 C145.00,210.32 147.78,208.76 148.70,208.30" fill="none" stroke="#3bb0e4" stroke-width="1.2" stroke-linejoin="round"/>
<path d="M37.80,228.65 C39.19,228.56 43.34,228.38 46.12,228.10 C48.89,227.82 52.12,227.46 54.44,227.00 C56.75,226.54 58.13,226.08 59.98,225.35 C61.83,224.62 63.95,224.16 65.53,222.60 C67.10,221.04 68.16,218.57 69.41,216.00 C70.65,213.43 71.81,210.22 73.01,207.20 C74.21,204.17 75.55,200.88 76.62,197.85 C77.68,194.82 78.37,191.98 79.39,189.05 C80.40,186.12 81.70,182.54 82.71,180.25 C83.73,177.96 84.75,176.31 85.49,175.30 C86.23,174.29 86.50,174.11 87.15,174.20 C87.80,174.29 88.35,174.47 89.37,175.85 C90.39,177.22 92.05,179.52 93.25,182.45 C94.45,185.38 95.59,190.24 96.58,193.45 C97.57,196.66 98.26,199.59 99.18,201.70 C100.11,203.81 101.08,204.91 102.12,206.10 C103.17,207.29 104.25,208.03 105.45,208.85 C106.65,209.67 108.01,210.41 109.33,211.05 C110.65,211.69 111.90,212.33 113.38,212.70 C114.86,213.07 116.68,213.16 118.20,213.25 C119.73,213.34 120.91,213.07 122.53,213.25 C124.14,213.43 126.09,214.07 127.91,214.35 C129.73,214.62 131.37,214.99 133.45,214.90 C135.53,214.81 137.84,214.17 140.38,213.80 C142.92,213.43 147.31,212.88 148.70,212.70" fill="none" stroke="#2f62ad" stroke-width="1.2" stroke-linejoin="round"/>
<path d="M37.80,226.45 C39.19,226.27 43.34,225.81 46.12,225.35 C48.89,224.89 52.12,223.88 54.44,223.70 C56.75,223.52 58.69,223.79 59.98,224.25 C61.27,224.71 61.46,226.45 62.20,226.45 C62.94,226.45 63.12,225.81 64.42,224.25 C65.71,222.69 68.39,219.94 69.96,217.10 C71.53,214.26 72.59,210.41 73.84,207.20 C75.09,203.99 76.34,200.97 77.45,197.85 C78.56,194.73 79.48,191.53 80.50,188.50 C81.51,185.47 82.58,182.08 83.55,179.70 C84.52,177.32 85.49,174.66 86.32,174.20 C87.15,173.74 87.61,174.66 88.54,176.95 C89.46,179.24 90.89,184.01 91.86,187.95 C92.83,191.89 93.48,196.93 94.36,200.60 C95.24,204.27 96.11,207.47 97.13,209.95 C98.15,212.42 99.28,214.07 100.46,215.45 C101.63,216.82 102.79,217.19 104.17,218.20 C105.56,219.21 107.24,220.40 108.78,221.50 C110.31,222.60 112.08,223.70 113.38,224.80 C114.67,225.90 115.46,227.73 116.54,228.10 C117.62,228.47 118.57,227.55 119.87,227.00 C121.16,226.45 122.92,225.44 124.30,224.80 C125.69,224.16 126.89,223.79 128.18,223.15 C129.48,222.51 130.77,221.22 132.06,220.95 C133.36,220.67 134.47,221.04 135.95,221.50 C137.43,221.96 139.46,223.52 140.94,223.70 C142.42,223.88 143.52,222.97 144.82,222.60 C146.11,222.23 148.05,221.68 148.70,221.50" fill="none" stroke="#3fae74" stroke-width="1.2" stroke-linejoin="round"/>
<path d="M37.80,225.90 C39.19,225.72 43.34,225.26 46.12,224.80 C48.89,224.34 51.94,223.52 54.44,223.15 C56.93,222.78 59.06,223.24 61.09,222.60 C63.12,221.96 64.97,220.67 66.63,219.30 C68.30,217.92 69.68,216.46 71.07,214.35 C72.46,212.24 73.70,209.49 74.95,206.65 C76.20,203.81 77.45,200.42 78.56,197.30 C79.66,194.18 80.64,190.97 81.61,187.95 C82.58,184.92 83.50,181.44 84.38,179.15 C85.26,176.86 86.13,174.66 86.87,174.20 C87.61,173.74 88.03,174.11 88.81,176.40 C89.60,178.69 90.75,183.73 91.59,187.95 C92.42,192.17 93.07,197.76 93.80,201.70 C94.54,205.64 95.19,208.85 96.02,211.60 C96.85,214.35 97.69,216.37 98.80,218.20 C99.90,220.03 101.29,221.32 102.68,222.60 C104.06,223.88 105.45,224.98 107.11,225.90 C108.78,226.82 110.81,227.73 112.66,228.10 C114.51,228.47 116.35,228.19 118.20,228.10 C120.05,228.01 121.90,227.73 123.75,227.55 C125.60,227.37 126.98,227.28 129.29,227.00 C131.60,226.72 134.38,226.27 137.61,225.90 C140.84,225.53 146.85,224.98 148.70,224.80" fill="none" stroke="#8dc63f" stroke-width="1.2" stroke-linejoin="round"/>
<path d="M37.80,223.70 C39.19,223.52 43.34,222.78 46.12,222.60 C48.89,222.42 52.12,222.78 54.44,222.60 C56.75,222.42 58.67,221.78 59.98,221.50 C61.29,221.22 61.20,221.41 62.31,220.95 C63.42,220.49 65.12,219.76 66.63,218.75 C68.15,217.74 69.84,216.92 71.40,214.90 C72.96,212.88 74.64,209.58 76.01,206.65 C77.37,203.72 78.55,200.42 79.61,197.30 C80.67,194.18 81.47,190.97 82.38,187.95 C83.30,184.92 84.21,181.44 85.10,179.15 C85.99,176.86 86.99,174.66 87.70,174.20 C88.42,173.74 88.72,174.38 89.37,176.40 C90.02,178.42 90.85,182.54 91.59,186.30 C92.33,190.06 92.97,195.01 93.80,198.95 C94.64,202.89 95.56,206.92 96.58,209.95 C97.59,212.97 98.64,215.36 99.90,217.10 C101.17,218.84 102.69,219.48 104.17,220.40 C105.65,221.32 107.24,221.96 108.78,222.60 C110.31,223.24 111.81,223.70 113.38,224.25 C114.95,224.80 116.68,225.53 118.20,225.90 C119.73,226.27 120.22,226.17 122.53,226.45 C124.84,226.72 129.09,227.32 132.06,227.55 C135.04,227.78 137.61,227.73 140.38,227.82 C143.16,227.92 147.31,228.05 148.70,228.10" fill="none" stroke="#f0982e" stroke-width="1.2" stroke-linejoin="round"/>
<path d="M37.80,224.80 C39.19,224.62 43.34,223.97 46.12,223.70 C48.89,223.42 52.12,223.33 54.44,223.15 C56.75,222.97 58.13,222.88 59.98,222.60 C61.83,222.32 63.68,222.51 65.53,221.50 C67.37,220.49 69.32,218.93 71.07,216.55 C72.82,214.17 74.58,210.32 76.01,207.20 C77.43,204.08 78.55,200.97 79.61,197.85 C80.67,194.73 81.47,191.53 82.38,188.50 C83.30,185.47 84.35,181.90 85.10,179.70 C85.85,177.50 86.39,176.22 86.87,175.30 C87.35,174.38 87.52,173.28 87.98,174.20 C88.44,175.12 89.00,176.95 89.65,180.80 C90.29,184.65 91.24,192.99 91.86,197.30 C92.49,201.61 92.82,203.62 93.42,206.65 C94.02,209.67 94.57,212.52 95.47,215.45 C96.36,218.38 97.70,222.19 98.80,224.25 C99.89,226.31 100.90,227.09 102.01,227.82 C103.12,228.56 104.14,228.48 105.45,228.65 C106.76,228.82 107.30,228.82 109.88,228.87 C112.47,228.92 117.28,228.94 120.97,228.92 C124.67,228.91 127.44,228.85 132.06,228.76 C136.69,228.67 145.93,228.44 148.70,228.38" fill="none" stroke="#f5c61c" stroke-width="1.2" stroke-linejoin="round"/>
<text x="9.60" y="255.80" font-size="11" font-weight="bold" fill="#000">f</text>
<circle cx="30.60" cy="249.80" r="2.3" fill="#f0982e"/>
<text x="34.80" y="252.20" font-size="6.7" fill="#231f20">Early embryo</text>
<circle cx="30.60" cy="256.30" r="2.3" fill="#f5c61c"/>
<text x="34.80" y="258.70" font-size="6.7" fill="#231f20">Late embryo</text>
<circle cx="80.60" cy="249.80" r="2.3" fill="#8dc63f"/>
<text x="84.80" y="252.20" font-size="6.7" fill="#231f20">Larval L1</text>
<circle cx="80.60" cy="256.30" r="2.3" fill="#3fae74"/>
<text x="84.80" y="258.70" font-size="6.7" fill="#231f20">Larval L2</text>
<circle cx="118.70" cy="249.80" r="2.3" fill="#3bb0e4"/>
<text x="122.90" y="252.20" font-size="6.7" fill="#231f20">Larval L3</text>
<circle cx="118.70" cy="256.30" r="2.3" fill="#2f62ad"/>
<text x="122.90" y="258.70" font-size="6.7" fill="#231f20">Larval L4</text>
<rect x="37.6" y="263.10" width="111.0" height="58.10" fill="none" stroke="#4d4d4d" stroke-width="0.7"/>
<line x1="34.40" y1="319.20" x2="37.60" y2="319.20" stroke="#4d4d4d" stroke-width="0.6"/>
<text x="32.80" y="321.50" font-size="6.7" text-anchor="end" fill="#231f20">0.0</text>
<line x1="34.40" y1="308.20" x2="37.60" y2="308.20" stroke="#4d4d4d" stroke-width="0.6"/>
<text x="32.80" y="310.50" font-size="6.7" text-anchor="end" fill="#231f20">20</text>
<line x1="34.40" y1="297.20" x2="37.60" y2="297.20" stroke="#4d4d4d" stroke-width="0.6"/>
<text x="32.80" y="299.50" font-size="6.7" text-anchor="end" fill="#231f20">40</text>
<line x1="34.40" y1="286.20" x2="37.60" y2="286.20" stroke="#4d4d4d" stroke-width="0.6"/>
<text x="32.80" y="288.50" font-size="6.7" text-anchor="end" fill="#231f20">60</text>
<line x1="34.40" y1="275.20" x2="37.60" y2="275.20" stroke="#4d4d4d" stroke-width="0.6"/>
<text x="32.80" y="277.50" font-size="6.7" text-anchor="end" fill="#231f20">80</text>
<line x1="34.40" y1="264.20" x2="37.60" y2="264.20" stroke="#4d4d4d" stroke-width="0.6"/>
<text x="32.80" y="266.50" font-size="6.7" text-anchor="end" fill="#231f20">100</text>
<line x1="37.80" y1="321.20" x2="37.80" y2="323.50" stroke="#4d4d4d" stroke-width="0.6"/>
<text x="37.80" y="331.40" font-size="6.7" text-anchor="middle" fill="#231f20">−1,000</text>
<line x1="65.53" y1="321.20" x2="65.53" y2="323.50" stroke="#4d4d4d" stroke-width="0.6"/>
<text x="65.53" y="331.40" font-size="6.7" text-anchor="middle" fill="#231f20">−500</text>
<line x1="93.25" y1="321.20" x2="93.25" y2="323.50" stroke="#4d4d4d" stroke-width="0.6"/>
<text x="93.25" y="331.40" font-size="6.7" text-anchor="middle" fill="#231f20">0</text>
<line x1="120.97" y1="321.20" x2="120.97" y2="323.50" stroke="#4d4d4d" stroke-width="0.6"/>
<text x="120.97" y="331.40" font-size="6.7" text-anchor="middle" fill="#231f20">500</text>
<line x1="148.70" y1="321.20" x2="148.70" y2="323.50" stroke="#4d4d4d" stroke-width="0.6"/>
<text x="148.70" y="331.40" font-size="6.7" text-anchor="middle" fill="#231f20">1,000</text>
<line x1="93.25" y1="265.10" x2="93.25" y2="321.20" stroke="#999" stroke-width="1.2" stroke-dasharray="2.6,2.4"/>
<text x="40.20" y="270.00" font-size="5.0" fill="#333">RNA Pol II (AMA-1)</text>
<text x="93.50" y="340.30" font-size="6.7" text-anchor="middle" fill="#231f20">Distance from TSS (bp)</text>
<text x="15.00" y="200.50" font-size="6.7" text-anchor="middle" fill="#231f20" transform="rotate(-90 15.00 200.50)">Signal density (%)</text>
<text x="15.00" y="290.50" font-size="6.7" text-anchor="middle" fill="#231f20" transform="rotate(-90 15.00 290.50)">Signal density (%)</text>
<path d="M37.80,319.20 C39.19,319.02 43.81,318.47 46.12,318.10 C48.43,317.73 49.72,317.27 51.66,317.00 C53.60,316.73 55.73,316.63 57.76,316.45 C59.80,316.27 62.11,316.45 63.86,315.90 C65.62,315.35 66.82,314.52 68.30,313.15 C69.78,311.77 71.25,309.67 72.73,307.65 C74.21,305.63 75.69,303.43 77.17,301.05 C78.65,298.67 80.29,295.82 81.61,293.35 C82.92,290.87 84.17,288.86 85.04,286.20 C85.91,283.54 86.36,280.33 86.82,277.40 C87.28,274.47 87.46,270.71 87.82,268.60 C88.17,266.49 88.39,265.48 88.92,264.75 C89.46,264.02 89.94,264.29 91.03,264.20 C92.12,264.11 94.31,264.11 95.47,264.20 C96.62,264.29 97.27,263.65 97.96,264.75 C98.66,265.85 98.97,267.41 99.63,270.80 C100.28,274.19 101.11,281.34 101.90,285.10 C102.69,288.86 103.47,291.33 104.34,293.35 C105.21,295.37 106.07,296.38 107.11,297.20 C108.16,298.02 109.31,298.30 110.61,298.30 C111.90,298.30 113.44,297.66 114.88,297.20 C116.31,296.74 117.77,296.19 119.20,295.55 C120.63,294.91 122.06,294.08 123.47,293.35 C124.88,292.62 126.25,291.97 127.68,291.15 C129.12,290.32 130.63,289.13 132.06,288.40 C133.50,287.67 134.62,287.21 136.28,286.75 C137.94,286.29 140.07,285.92 142.05,285.65 C144.02,285.38 147.13,285.19 148.15,285.10" fill="none" stroke="#3bb0e4" stroke-width="1.2" stroke-linejoin="round"/>
<path d="M37.80,319.20 C39.19,318.93 43.81,318.10 46.12,317.55 C48.43,317.00 49.72,316.45 51.66,315.90 C53.60,315.35 55.73,314.80 57.76,314.25 C59.80,313.70 62.11,313.24 63.86,312.60 C65.62,311.96 66.82,311.50 68.30,310.40 C69.78,309.30 71.25,307.83 72.73,306.00 C74.21,304.17 75.69,301.78 77.17,299.40 C78.65,297.02 80.29,293.99 81.61,291.70 C82.92,289.41 84.17,288.03 85.04,285.65 C85.91,283.27 86.36,280.24 86.82,277.40 C87.28,274.56 87.46,270.71 87.82,268.60 C88.17,266.49 88.39,265.48 88.92,264.75 C89.46,264.02 89.94,264.29 91.03,264.20 C92.12,264.11 94.31,264.02 95.47,264.20 C96.62,264.38 97.27,264.02 97.96,265.30 C98.66,266.58 98.97,268.23 99.63,271.90 C100.28,275.57 101.11,283.45 101.90,287.30 C102.69,291.15 103.47,293.17 104.34,295.00 C105.21,296.83 106.07,297.57 107.11,298.30 C108.16,299.03 109.22,299.31 110.61,299.40 C111.99,299.49 114.00,299.03 115.43,298.85 C116.86,298.67 117.86,298.57 119.20,298.30 C120.54,298.03 122.07,297.48 123.47,297.20 C124.87,296.92 126.20,296.92 127.63,296.65 C129.06,296.38 130.12,296.10 132.06,295.55 C134.01,295.00 137.43,293.62 139.27,293.35 C141.12,293.07 141.68,293.62 143.16,293.90 C144.63,294.17 147.31,294.82 148.15,295.00" fill="none" stroke="#2f62ad" stroke-width="1.2" stroke-linejoin="round"/>
<path d="M37.80,319.20 C39.19,318.74 43.81,317.37 46.12,316.45 C48.43,315.53 49.72,314.34 51.66,313.70 C53.60,313.06 55.73,313.15 57.76,312.60 C59.80,312.05 62.11,311.32 63.86,310.40 C65.62,309.48 66.82,308.47 68.30,307.10 C69.78,305.72 71.25,304.17 72.73,302.15 C74.21,300.13 75.56,297.57 77.17,295.00 C78.78,292.43 81.00,289.32 82.38,286.75 C83.77,284.18 84.51,281.98 85.49,279.60 C86.47,277.22 87.34,274.01 88.26,272.45 C89.18,270.89 90.20,270.71 91.03,270.25 C91.86,269.79 92.51,269.61 93.25,269.70 C93.99,269.79 94.73,269.88 95.47,270.80 C96.21,271.72 96.93,272.63 97.69,275.20 C98.44,277.77 99.18,282.81 100.01,286.20 C100.85,289.59 101.68,293.26 102.68,295.55 C103.67,297.84 104.68,298.94 106.00,299.95 C107.33,300.96 109.03,301.42 110.61,301.60 C112.18,301.78 114.00,301.23 115.43,301.05 C116.86,300.87 117.86,300.68 119.20,300.50 C120.54,300.32 122.07,300.13 123.47,299.95 C124.87,299.77 126.01,299.95 127.63,299.40 C129.25,298.85 131.23,297.47 133.17,296.65 C135.11,295.82 137.61,294.45 139.27,294.45 C140.94,294.45 141.68,295.92 143.16,296.65 C144.63,297.38 147.31,298.48 148.15,298.85" fill="none" stroke="#3fae74" stroke-width="1.2" stroke-linejoin="round"/>
<path d="M37.80,319.20 C39.19,318.74 43.81,317.37 46.12,316.45 C48.43,315.53 49.72,314.34 51.66,313.70 C53.60,313.06 55.73,313.06 57.76,312.60 C59.80,312.14 62.11,311.68 63.86,310.95 C65.62,310.22 66.82,309.48 68.30,308.20 C69.78,306.92 71.25,305.27 72.73,303.25 C74.21,301.23 75.56,298.85 77.17,296.10 C78.78,293.35 81.00,289.59 82.38,286.75 C83.77,283.91 84.51,281.71 85.49,279.05 C86.47,276.39 87.34,272.72 88.26,270.80 C89.18,268.87 90.20,268.14 91.03,267.50 C91.86,266.86 92.51,266.86 93.25,266.95 C93.99,267.04 94.73,266.86 95.47,268.05 C96.21,269.24 96.93,271.07 97.69,274.10 C98.44,277.12 99.18,282.35 100.01,286.20 C100.85,290.05 101.68,294.45 102.68,297.20 C103.67,299.95 104.68,301.51 106.00,302.70 C107.33,303.89 109.03,304.17 110.61,304.35 C112.18,304.53 114.00,304.07 115.43,303.80 C116.86,303.53 117.86,303.16 119.20,302.70 C120.54,302.24 122.07,301.60 123.47,301.05 C124.87,300.50 126.20,300.04 127.63,299.40 C129.06,298.76 130.62,298.02 132.06,297.20 C133.51,296.38 134.62,295.27 136.28,294.45 C137.94,293.62 140.07,292.98 142.05,292.25 C144.02,291.52 147.13,290.42 148.15,290.05" fill="none" stroke="#8dc63f" stroke-width="1.2" stroke-linejoin="round"/>
<path d="M37.80,319.20 C39.19,318.83 43.81,317.73 46.12,317.00 C48.43,316.27 49.72,315.44 51.66,314.80 C53.60,314.16 55.73,313.61 57.76,313.15 C59.80,312.69 62.11,312.69 63.86,312.05 C65.62,311.41 66.82,310.49 68.30,309.30 C69.78,308.11 71.25,306.73 72.73,304.90 C74.21,303.07 75.56,301.05 77.17,298.30 C78.78,295.55 81.00,291.33 82.38,288.40 C83.77,285.47 84.51,283.54 85.49,280.70 C86.47,277.86 87.34,273.73 88.26,271.35 C89.18,268.97 90.20,267.32 91.03,266.40 C91.86,265.48 92.51,265.85 93.25,265.85 C93.99,265.85 94.73,265.39 95.47,266.40 C96.21,267.41 96.93,268.97 97.69,271.90 C98.44,274.83 99.18,280.24 100.01,284.00 C100.85,287.76 101.68,291.88 102.68,294.45 C103.67,297.02 104.68,298.30 106.00,299.40 C107.33,300.50 109.03,300.77 110.61,301.05 C112.18,301.33 114.00,301.05 115.43,301.05 C116.86,301.05 117.86,301.23 119.20,301.05 C120.54,300.87 122.07,300.32 123.47,299.95 C124.87,299.58 126.20,299.40 127.63,298.85 C129.06,298.30 130.62,297.47 132.06,296.65 C133.51,295.82 134.62,294.82 136.28,293.90 C137.94,292.98 140.07,292.07 142.05,291.15 C144.02,290.23 147.13,288.86 148.15,288.40" fill="none" stroke="#f5c61c" stroke-width="1.2" stroke-linejoin="round"/>
<path d="M37.80,319.20 C39.19,318.93 43.81,318.01 46.12,317.55 C48.43,317.09 49.72,316.82 51.66,316.45 C53.60,316.08 55.73,315.72 57.76,315.35 C59.80,314.98 62.11,314.80 63.86,314.25 C65.62,313.70 66.82,312.97 68.30,312.05 C69.78,311.13 71.25,309.85 72.73,308.75 C74.21,307.65 75.86,306.46 77.17,305.45 C78.48,304.44 79.59,303.52 80.61,302.70 C81.62,301.88 82.27,302.33 83.27,300.50 C84.27,298.67 85.56,295.46 86.60,291.70 C87.63,287.94 88.71,281.80 89.48,277.95 C90.25,274.10 90.57,270.62 91.20,268.60 C91.83,266.58 92.63,266.58 93.25,265.85 C93.87,265.12 94.36,264.47 94.91,264.20 C95.47,263.93 95.93,263.83 96.58,264.20 C97.22,264.57 97.96,265.39 98.80,266.40 C99.63,267.41 100.45,268.97 101.57,270.25 C102.69,271.53 104.12,272.82 105.50,274.10 C106.89,275.38 108.47,276.94 109.88,277.95 C111.30,278.96 112.60,279.51 113.99,280.15 C115.37,280.79 116.76,281.34 118.20,281.80 C119.64,282.26 121.06,282.62 122.64,282.90 C124.22,283.17 126.11,283.45 127.68,283.45 C129.26,283.45 130.63,283.08 132.06,282.90 C133.50,282.72 134.62,282.53 136.28,282.35 C137.94,282.17 140.07,281.98 142.05,281.80 C144.02,281.62 147.13,281.34 148.15,281.25" fill="none" stroke="#f0982e" stroke-width="1.2" stroke-linejoin="round"/>
<text x="163.20" y="162.00" font-size="11" font-weight="bold" fill="#000">g</text>
<rect x="186.40" y="195.00" width="9.83" height="5.83" fill="#67000d"/>
<rect x="195.73" y="195.00" width="9.83" height="5.83" fill="#67000d"/>
<rect x="205.06" y="195.00" width="9.83" height="5.83" fill="#67000d"/>
<rect x="214.39" y="195.00" width="9.83" height="5.83" fill="#67000d"/>
<rect x="223.72" y="195.00" width="9.83" height="5.83" fill="#67000d"/>
<rect x="233.05" y="195.00" width="9.83" height="5.83" fill="#67000d"/>
<rect x="242.38" y="195.00" width="9.83" height="5.83" fill="#67000d"/>
<rect x="251.71" y="195.00" width="9.83" height="5.83" fill="#67000d"/>
<rect x="261.04" y="195.00" width="9.83" height="5.83" fill="#67000d"/>
<rect x="270.37" y="195.00" width="9.83" height="5.83" fill="#7a040f"/>
<rect x="279.70" y="195.00" width="9.83" height="5.83" fill="#e12d26"/>
<rect x="289.03" y="195.00" width="9.83" height="5.83" fill="#e12d26"/>
<rect x="298.36" y="195.00" width="9.83" height="5.83" fill="#fed9c8"/>
<rect x="307.69" y="195.00" width="9.83" height="5.83" fill="#ffede4"/>
<rect x="317.02" y="195.00" width="9.33" height="5.83" fill="#ffede4"/>
<text x="330.00" y="199.91" font-size="6.45" fill="#231f20">Synaptic transmission</text>
<rect x="186.40" y="200.33" width="9.83" height="5.83" fill="#67000d"/>
<rect x="195.73" y="200.33" width="9.83" height="5.83" fill="#67000d"/>
<rect x="205.06" y="200.33" width="9.83" height="5.83" fill="#67000d"/>
<rect x="214.39" y="200.33" width="9.83" height="5.83" fill="#67000d"/>
<rect x="223.72" y="200.33" width="9.83" height="5.83" fill="#67000d"/>
<rect x="233.05" y="200.33" width="9.83" height="5.83" fill="#67000d"/>
<rect x="242.38" y="200.33" width="9.83" height="5.83" fill="#67000d"/>
<rect x="251.71" y="200.33" width="9.83" height="5.83" fill="#67000d"/>
<rect x="261.04" y="200.33" width="9.83" height="5.83" fill="#67000d"/>
<rect x="270.37" y="200.33" width="9.83" height="5.83" fill="#7a040f"/>
<rect x="279.70" y="200.33" width="9.83" height="5.83" fill="#e12d26"/>
<rect x="289.03" y="200.33" width="9.83" height="5.83" fill="#e12d26"/>
<rect x="298.36" y="200.33" width="9.83" height="5.83" fill="#fed9c8"/>
<rect x="307.69" y="200.33" width="9.83" height="5.83" fill="#ffede4"/>
<rect x="317.02" y="200.33" width="9.33" height="5.83" fill="#ffede4"/>
<text x="330.00" y="205.25" font-size="6.45" fill="#231f20">Transmission of nerve impulse</text>
<rect x="186.40" y="205.66" width="9.83" height="5.83" fill="#ef3b2c"/>
<rect x="195.73" y="205.66" width="9.83" height="5.83" fill="#ef3b2c"/>
<rect x="205.06" y="205.66" width="9.83" height="5.83" fill="#cb181d"/>
<rect x="214.39" y="205.66" width="9.83" height="5.83" fill="#fb6a4a"/>
<rect x="223.72" y="205.66" width="9.83" height="5.83" fill="#ef3b2c"/>
<rect x="233.05" y="205.66" width="9.83" height="5.83" fill="#ef3b2c"/>
<rect x="242.38" y="205.66" width="9.83" height="5.83" fill="#e12d26"/>
<rect x="251.71" y="205.66" width="9.83" height="5.83" fill="#67000d"/>
<rect x="261.04" y="205.66" width="9.83" height="5.83" fill="#b81419"/>
<rect x="270.37" y="205.66" width="9.83" height="5.83" fill="#fb6a4a"/>
<rect x="279.70" y="205.66" width="9.83" height="5.83" fill="#fcbba1"/>
<rect x="289.03" y="205.66" width="9.83" height="5.83" fill="#f14432"/>
<rect x="298.36" y="205.66" width="9.83" height="5.83" fill="#fed9c8"/>
<rect x="307.69" y="205.66" width="9.83" height="5.83" fill="#fff1ea"/>
<rect x="317.02" y="205.66" width="9.33" height="5.83" fill="#fff1ea"/>
<text x="330.00" y="210.57" font-size="6.45" fill="#231f20">Regulation of neurotransmitter levels</text>
<rect x="186.40" y="210.99" width="9.83" height="5.83" fill="#cb181d"/>
<rect x="195.73" y="210.99" width="9.83" height="5.83" fill="#cb181d"/>
<rect x="205.06" y="210.99" width="9.83" height="5.83" fill="#cb181d"/>
<rect x="214.39" y="210.99" width="9.83" height="5.83" fill="#f44e38"/>
<rect x="223.72" y="210.99" width="9.83" height="5.83" fill="#fc8666"/>
<rect x="233.05" y="210.99" width="9.83" height="5.83" fill="#fc8666"/>
<rect x="242.38" y="210.99" width="9.83" height="5.83" fill="#e12d26"/>
<rect x="251.71" y="210.99" width="9.83" height="5.83" fill="#67000d"/>
<rect x="261.04" y="210.99" width="9.83" height="5.83" fill="#b81419"/>
<rect x="270.37" y="210.99" width="9.83" height="5.83" fill="#e12d26"/>
<rect x="279.70" y="210.99" width="9.83" height="5.83" fill="#fcbba1"/>
<rect x="289.03" y="210.99" width="9.83" height="5.83" fill="#c7171c"/>
<rect x="298.36" y="210.99" width="9.83" height="5.83" fill="#fed9c8"/>
<rect x="307.69" y="210.99" width="9.83" height="5.83" fill="#fff1ea"/>
<rect x="317.02" y="210.99" width="9.33" height="5.83" fill="#fff1ea"/>
<text x="330.00" y="215.91" font-size="6.45" fill="#231f20">Neurotransmitter secretion</text>
<rect x="186.40" y="216.32" width="9.83" height="5.83" fill="#fcaf93"/>
<rect x="195.73" y="216.32" width="9.83" height="5.83" fill="#fc8666"/>
<rect x="205.06" y="216.32" width="9.83" height="5.83" fill="#67000d"/>
<rect x="214.39" y="216.32" width="9.83" height="5.83" fill="#f44e38"/>
<rect x="223.72" y="216.32" width="9.83" height="5.83" fill="#cb181d"/>
<rect x="233.05" y="216.32" width="9.83" height="5.83" fill="#67000d"/>
<rect x="242.38" y="216.32" width="9.83" height="5.83" fill="#a50f15"/>
<rect x="251.71" y="216.32" width="9.83" height="5.83" fill="#cb181d"/>
<rect x="261.04" y="216.32" width="9.83" height="5.83" fill="#9f0e14"/>
<rect x="270.37" y="216.32" width="9.83" height="5.83" fill="#fcaf93"/>
<rect x="279.70" y="216.32" width="9.83" height="5.83" fill="#fcaf93"/>
<rect x="289.03" y="216.32" width="9.83" height="5.83" fill="#fee4d8"/>
<rect x="298.36" y="216.32" width="9.83" height="5.83" fill="#ffede4"/>
<rect x="307.69" y="216.32" width="9.83" height="5.83" fill="#fff5f0"/>
<rect x="317.02" y="216.32" width="9.33" height="5.83" fill="#fff5f0"/>
<text x="330.00" y="221.23" font-size="6.45" fill="#231f20">Synaptic transmission, cholinergic</text>
<rect x="186.40" y="221.65" width="9.83" height="5.83" fill="#fcbba1"/>
<rect x="195.73" y="221.65" width="9.83" height="5.83" fill="#fc8666"/>
<rect x="205.06" y="221.65" width="9.83" height="5.83" fill="#fcaf93"/>
<rect x="214.39" y="221.65" width="9.83" height="5.83" fill="#f44e38"/>
<rect x="223.72" y="221.65" width="9.83" height="5.83" fill="#ef3b2c"/>
<rect x="233.05" y="221.65" width="9.83" height="5.83" fill="#67000d"/>
<rect x="242.38" y="221.65" width="9.83" height="5.83" fill="#a50f15"/>
<rect x="251.71" y="221.65" width="9.83" height="5.83" fill="#cb181d"/>
<rect x="261.04" y="221.65" width="9.83" height="5.83" fill="#ef3b2c"/>
<rect x="270.37" y="221.65" width="9.83" height="5.83" fill="#fcaf93"/>
<rect x="279.70" y="221.65" width="9.83" height="5.83" fill="#fff5f0"/>
<rect x="289.03" y="221.65" width="9.83" height="5.83" fill="#fee4d8"/>
<rect x="298.36" y="221.65" width="9.83" height="5.83" fill="#fff5f0"/>
<rect x="307.69" y="221.65" width="9.83" height="5.83" fill="#fff5f0"/>
<rect x="317.02" y="221.65" width="9.33" height="5.83" fill="#fff5f0"/>
<text x="330.00" y="226.56" font-size="6.45" fill="#231f20">Regulation of transmission of nerve impulse</text>
<rect x="186.40" y="226.98" width="9.83" height="5.83" fill="#fc7e5e"/>
<rect x="195.73" y="226.98" width="9.83" height="5.83" fill="#fc7e5e"/>
<rect x="205.06" y="226.98" width="9.83" height="5.83" fill="#fc7e5e"/>
<rect x="214.39" y="226.98" width="9.83" height="5.83" fill="#fc8a6a"/>
<rect x="223.72" y="226.98" width="9.83" height="5.83" fill="#fc9a7b"/>
<rect x="233.05" y="226.98" width="9.83" height="5.83" fill="#fc8666"/>
<rect x="242.38" y="226.98" width="9.83" height="5.83" fill="#e12d26"/>
<rect x="251.71" y="226.98" width="9.83" height="5.83" fill="#7a040f"/>
<rect x="261.04" y="226.98" width="9.83" height="5.83" fill="#fb7252"/>
<rect x="270.37" y="226.98" width="9.83" height="5.83" fill="#fc9e80"/>
<rect x="279.70" y="226.98" width="9.83" height="5.83" fill="#fed9c8"/>
<rect x="289.03" y="226.98" width="9.83" height="5.83" fill="#fc9e80"/>
<rect x="298.36" y="226.98" width="9.83" height="5.83" fill="#fff5f0"/>
<rect x="307.69" y="226.98" width="9.83" height="5.83" fill="#fff5f0"/>
<rect x="317.02" y="226.98" width="9.33" height="5.83" fill="#fff5f0"/>
<text x="330.00" y="231.89" font-size="6.45" fill="#231f20">Neurotransmitter transport</text>
<rect x="186.40" y="232.31" width="9.83" height="5.83" fill="#fed9c8"/>
<rect x="195.73" y="232.31" width="9.83" height="5.83" fill="#fdcab5"/>
<rect x="205.06" y="232.31" width="9.83" height="5.83" fill="#fcb79c"/>
<rect x="214.39" y="232.31" width="9.83" height="5.83" fill="#fee4d8"/>
<rect x="223.72" y="232.31" width="9.83" height="5.83" fill="#fc9e80"/>
<rect x="233.05" y="232.31" width="9.83" height="5.83" fill="#fcaf93"/>
<rect x="242.38" y="232.31" width="9.83" height="5.83" fill="#e83429"/>
<rect x="251.71" y="232.31" width="9.83" height="5.83" fill="#f6573e"/>
<rect x="261.04" y="232.31" width="9.83" height="5.83" fill="#fc9272"/>
<rect x="270.37" y="232.31" width="9.83" height="5.83" fill="#fed9c8"/>
<rect x="279.70" y="232.31" width="9.83" height="5.83" fill="#fcaf93"/>
<rect x="289.03" y="232.31" width="9.83" height="5.83" fill="#fff5f0"/>
<rect x="298.36" y="232.31" width="9.83" height="5.83" fill="#fff5f0"/>
<rect x="307.69" y="232.31" width="9.83" height="5.83" fill="#fff5f0"/>
<rect x="317.02" y="232.31" width="9.33" height="5.83" fill="#fff5f0"/>
<text x="330.00" y="237.22" font-size="6.45" fill="#231f20">Synapse organization</text>
<rect x="186.40" y="237.64" width="9.83" height="5.83" fill="#ffede4"/>
<rect x="195.73" y="237.64" width="9.83" height="5.83" fill="#fc9272"/>
<rect x="205.06" y="237.64" width="9.83" height="5.83" fill="#fcc2ab"/>
<rect x="214.39" y="237.64" width="9.83" height="5.83" fill="#b01217"/>
<rect x="223.72" y="237.64" width="9.83" height="5.83" fill="#fc7e5e"/>
<rect x="233.05" y="237.64" width="9.83" height="5.83" fill="#fc9272"/>
<rect x="242.38" y="237.64" width="9.83" height="5.83" fill="#fc8262"/>
<rect x="251.71" y="237.64" width="9.83" height="5.83" fill="#fb6a4a"/>
<rect x="261.04" y="237.64" width="9.83" height="5.83" fill="#fc9272"/>
<rect x="270.37" y="237.64" width="9.83" height="5.83" fill="#fed9c8"/>
<rect x="279.70" y="237.64" width="9.83" height="5.83" fill="#fc8e6e"/>
<rect x="289.03" y="237.64" width="9.83" height="5.83" fill="#fff5f0"/>
<rect x="298.36" y="237.64" width="9.83" height="5.83" fill="#fff5f0"/>
<rect x="307.69" y="237.64" width="9.83" height="5.83" fill="#fff5f0"/>
<rect x="317.02" y="237.64" width="9.33" height="5.83" fill="#fff5f0"/>
<text x="330.00" y="242.55" font-size="6.45" fill="#231f20">Neuron–neuron synaptic transmission</text>
<rect x="186.40" y="242.97" width="9.83" height="5.83" fill="#fc7e5e"/>
<rect x="195.73" y="242.97" width="9.83" height="5.83" fill="#fdcab5"/>
<rect x="205.06" y="242.97" width="9.83" height="5.83" fill="#fcbba1"/>
<rect x="214.39" y="242.97" width="9.83" height="5.83" fill="#fcc2ab"/>
<rect x="223.72" y="242.97" width="9.83" height="5.83" fill="#fc9e80"/>
<rect x="233.05" y="242.97" width="9.83" height="5.83" fill="#f14432"/>
<rect x="242.38" y="242.97" width="9.83" height="5.83" fill="#a50f15"/>
<rect x="251.71" y="242.97" width="9.83" height="5.83" fill="#e83429"/>
<rect x="261.04" y="242.97" width="9.83" height="5.83" fill="#d92623"/>
<rect x="270.37" y="242.97" width="9.83" height="5.83" fill="#fcbba1"/>
<rect x="279.70" y="242.97" width="9.83" height="5.83" fill="#fff1ea"/>
<rect x="289.03" y="242.97" width="9.83" height="5.83" fill="#fff5f0"/>
<rect x="298.36" y="242.97" width="9.83" height="5.83" fill="#fff5f0"/>
<rect x="307.69" y="242.97" width="9.83" height="5.83" fill="#fdcab5"/>
<rect x="317.02" y="242.97" width="9.33" height="5.83" fill="#fff5f0"/>
<text x="330.00" y="247.88" font-size="6.45" fill="#231f20">Regulation of behavior</text>
<rect x="186.40" y="248.30" width="9.83" height="5.83" fill="#fc8e6e"/>
<rect x="195.73" y="248.30" width="9.83" height="5.83" fill="#fff1ea"/>
<rect x="205.06" y="248.30" width="9.83" height="5.83" fill="#fff1ea"/>
<rect x="214.39" y="248.30" width="9.83" height="5.83" fill="#fcc2ab"/>
<rect x="223.72" y="248.30" width="9.83" height="5.83" fill="#fc8e6e"/>
<rect x="233.05" y="248.30" width="9.83" height="5.83" fill="#f14432"/>
<rect x="242.38" y="248.30" width="9.83" height="5.83" fill="#920b13"/>
<rect x="251.71" y="248.30" width="9.83" height="5.83" fill="#fc8e6e"/>
<rect x="261.04" y="248.30" width="9.83" height="5.83" fill="#d92623"/>
<rect x="270.37" y="248.30" width="9.83" height="5.83" fill="#fff5f0"/>
<rect x="279.70" y="248.30" width="9.83" height="5.83" fill="#fcc2ab"/>
<rect x="289.03" y="248.30" width="9.83" height="5.83" fill="#fff5f0"/>
<rect x="298.36" y="248.30" width="9.83" height="5.83" fill="#fff5f0"/>
<rect x="307.69" y="248.30" width="9.83" height="5.83" fill="#fff5f0"/>
<rect x="317.02" y="248.30" width="9.33" height="5.83" fill="#fff5f0"/>
<text x="330.00" y="253.22" font-size="6.45" fill="#231f20">Neurogenesis</text>
<rect x="186.40" y="253.63" width="9.83" height="5.83" fill="#fb7656"/>
<rect x="195.73" y="253.63" width="9.83" height="5.83" fill="#fff5f0"/>
<rect x="205.06" y="253.63" width="9.83" height="5.83" fill="#fff5f0"/>
<rect x="214.39" y="253.63" width="9.83" height="5.83" fill="#fff1ea"/>
<rect x="223.72" y="253.63" width="9.83" height="5.83" fill="#fc9e80"/>
<rect x="233.05" y="253.63" width="9.83" height="5.83" fill="#f14432"/>
<rect x="242.38" y="253.63" width="9.83" height="5.83" fill="#a50f15"/>
<rect x="251.71" y="253.63" width="9.83" height="5.83" fill="#fc8262"/>
<rect x="261.04" y="253.63" width="9.83" height="5.83" fill="#d92623"/>
<rect x="270.37" y="253.63" width="9.83" height="5.83" fill="#fff5f0"/>
<rect x="279.70" y="253.63" width="9.83" height="5.83" fill="#fed9c8"/>
<rect x="289.03" y="253.63" width="9.83" height="5.83" fill="#fff5f0"/>
<rect x="298.36" y="253.63" width="9.83" height="5.83" fill="#fff5f0"/>
<rect x="307.69" y="253.63" width="9.83" height="5.83" fill="#fff5f0"/>
<rect x="317.02" y="253.63" width="9.33" height="5.83" fill="#fff5f0"/>
<text x="330.00" y="258.55" font-size="6.45" fill="#231f20">Axonogenesis</text>
<rect x="186.40" y="258.96" width="9.83" height="5.83" fill="#fcb79c"/>
<rect x="195.73" y="258.96" width="9.83" height="5.83" fill="#fcb79c"/>
<rect x="205.06" y="258.96" width="9.83" height="5.83" fill="#fcbba1"/>
<rect x="214.39" y="258.96" width="9.83" height="5.83" fill="#fcb79c"/>
<rect x="223.72" y="258.96" width="9.83" height="5.83" fill="#fc9e80"/>
<rect x="233.05" y="258.96" width="9.83" height="5.83" fill="#fee4d8"/>
<rect x="242.38" y="258.96" width="9.83" height="5.83" fill="#fcc2ab"/>
<rect x="251.71" y="258.96" width="9.83" height="5.83" fill="#6d010e"/>
<rect x="261.04" y="258.96" width="9.83" height="5.83" fill="#8c0912"/>
<rect x="270.37" y="258.96" width="9.83" height="5.83" fill="#d92623"/>
<rect x="279.70" y="258.96" width="9.83" height="5.83" fill="#a50f15"/>
<rect x="289.03" y="258.96" width="9.83" height="5.83" fill="#c7171c"/>
<rect x="298.36" y="258.96" width="9.83" height="5.83" fill="#fed9c8"/>
<rect x="307.69" y="258.96" width="9.83" height="5.83" fill="#fff5f0"/>
<rect x="317.02" y="258.96" width="9.33" height="5.83" fill="#fed9c8"/>
<text x="330.00" y="263.88" font-size="6.45" fill="#231f20">Synaptic vesicle transport</text>
<rect x="186.40" y="264.29" width="9.83" height="5.33" fill="#fed9c8"/>
<rect x="195.73" y="264.29" width="9.83" height="5.33" fill="#fcaf93"/>
<rect x="205.06" y="264.29" width="9.83" height="5.33" fill="#fcaf93"/>
<rect x="214.39" y="264.29" width="9.83" height="5.33" fill="#fed9c8"/>
<rect x="223.72" y="264.29" width="9.83" height="5.33" fill="#fc9e80"/>
<rect x="233.05" y="264.29" width="9.83" height="5.33" fill="#ffede4"/>
<rect x="242.38" y="264.29" width="9.83" height="5.33" fill="#fc9e80"/>
<rect x="251.71" y="264.29" width="9.83" height="5.33" fill="#e12d26"/>
<rect x="261.04" y="264.29" width="9.83" height="5.33" fill="#fc9e80"/>
<rect x="270.37" y="264.29" width="9.83" height="5.33" fill="#fed9c8"/>
<rect x="279.70" y="264.29" width="9.83" height="5.33" fill="#fcc2ab"/>
<rect x="289.03" y="264.29" width="9.83" height="5.33" fill="#fee4d8"/>
<rect x="298.36" y="264.29" width="9.83" height="5.33" fill="#ffede4"/>
<rect x="307.69" y="264.29" width="9.83" height="5.33" fill="#fff5f0"/>
<rect x="317.02" y="264.29" width="9.33" height="5.33" fill="#fff5f0"/>
<text x="330.00" y="269.21" font-size="6.45" fill="#231f20">Regulation of synapse structure and activity</text>
<rect x="186.40" y="195.00" width="139.95" height="74.62" fill="none" stroke="#555" stroke-width="0.6"/>
<rect x="186.40" y="275.40" width="9.83" height="5.83" fill="#fed9c8"/>
<rect x="195.73" y="275.40" width="9.83" height="5.83" fill="#ffede4"/>
<rect x="205.06" y="275.40" width="9.83" height="5.83" fill="#fff5f0"/>
<rect x="214.39" y="275.40" width="9.83" height="5.83" fill="#ffede4"/>
<rect x="223.72" y="275.40" width="9.83" height="5.83" fill="#fff5f0"/>
<rect x="233.05" y="275.40" width="9.83" height="5.83" fill="#fee4d8"/>
<rect x="242.38" y="275.40" width="9.83" height="5.83" fill="#fdcab5"/>
<rect x="251.71" y="275.40" width="9.83" height="5.83" fill="#fcaf93"/>
<rect x="261.04" y="275.40" width="9.83" height="5.83" fill="#b81419"/>
<rect x="270.37" y="275.40" width="9.83" height="5.83" fill="#67000d"/>
<rect x="279.70" y="275.40" width="9.83" height="5.83" fill="#fee4d8"/>
<rect x="289.03" y="275.40" width="9.83" height="5.83" fill="#fcc2ab"/>
<rect x="298.36" y="275.40" width="9.83" height="5.83" fill="#fc9e80"/>
<rect x="307.69" y="275.40" width="9.83" height="5.83" fill="#fdcab5"/>
<rect x="317.02" y="275.40" width="9.33" height="5.83" fill="#ffede4"/>
<text x="330.00" y="280.31" font-size="6.45" fill="#231f20">Actin cytoskeleton organization</text>
<rect x="186.40" y="280.73" width="9.83" height="5.83" fill="#ffede4"/>
<rect x="195.73" y="280.73" width="9.83" height="5.83" fill="#fed9c8"/>
<rect x="205.06" y="280.73" width="9.83" height="5.83" fill="#fff5f0"/>
<rect x="214.39" y="280.73" width="9.83" height="5.83" fill="#fed9c8"/>
<rect x="223.72" y="280.73" width="9.83" height="5.83" fill="#fff5f0"/>
<rect x="233.05" y="280.73" width="9.83" height="5.83" fill="#fee4d8"/>
<rect x="242.38" y="280.73" width="9.83" height="5.83" fill="#fcc2ab"/>
<rect x="251.71" y="280.73" width="9.83" height="5.83" fill="#fcb79c"/>
<rect x="261.04" y="280.73" width="9.83" height="5.83" fill="#e83429"/>
<rect x="270.37" y="280.73" width="9.83" height="5.83" fill="#67000d"/>
<rect x="279.70" y="280.73" width="9.83" height="5.83" fill="#fff5f0"/>
<rect x="289.03" y="280.73" width="9.83" height="5.83" fill="#fed9c8"/>
<rect x="298.36" y="280.73" width="9.83" height="5.83" fill="#fc9e80"/>
<rect x="307.69" y="280.73" width="9.83" height="5.83" fill="#fff5f0"/>
<rect x="317.02" y="280.73" width="9.33" height="5.83" fill="#fff5f0"/>
<text x="330.00" y="285.64" font-size="6.45" fill="#231f20">Muscle structure development</text>
<rect x="186.40" y="286.06" width="9.83" height="5.33" fill="#fff5f0"/>
<rect x="195.73" y="286.06" width="9.83" height="5.33" fill="#fee4d8"/>
<rect x="205.06" y="286.06" width="9.83" height="5.33" fill="#fee4d8"/>
<rect x="214.39" y="286.06" width="9.83" height="5.33" fill="#fff5f0"/>
<rect x="223.72" y="286.06" width="9.83" height="5.33" fill="#fff5f0"/>
<rect x="233.05" y="286.06" width="9.83" height="5.33" fill="#fee4d8"/>
<rect x="242.38" y="286.06" width="9.83" height="5.33" fill="#fdcab5"/>
<rect x="251.71" y="286.06" width="9.83" height="5.33" fill="#fcc2ab"/>
<rect x="261.04" y="286.06" width="9.83" height="5.33" fill="#b81419"/>
<rect x="270.37" y="286.06" width="9.83" height="5.33" fill="#67000d"/>
<rect x="279.70" y="286.06" width="9.83" height="5.33" fill="#fff5f0"/>
<rect x="289.03" y="286.06" width="9.83" height="5.33" fill="#fee4d8"/>
<rect x="298.36" y="286.06" width="9.83" height="5.33" fill="#fc9e80"/>
<rect x="307.69" y="286.06" width="9.83" height="5.33" fill="#fff5f0"/>
<rect x="317.02" y="286.06" width="9.33" height="5.33" fill="#fff5f0"/>
<text x="330.00" y="290.98" font-size="6.45" fill="#231f20">Muscle cell differentiation</text>
<rect x="186.40" y="275.40" width="139.95" height="15.99" fill="none" stroke="#555" stroke-width="0.6"/>
<rect x="186.40" y="297.80" width="9.83" height="5.83" fill="#fdcab5"/>
<rect x="195.73" y="297.80" width="9.83" height="5.83" fill="#fff5f0"/>
<rect x="205.06" y="297.80" width="9.83" height="5.83" fill="#fff5f0"/>
<rect x="214.39" y="297.80" width="9.83" height="5.83" fill="#fff5f0"/>
<rect x="223.72" y="297.80" width="9.83" height="5.83" fill="#fff5f0"/>
<rect x="233.05" y="297.80" width="9.83" height="5.83" fill="#fff5f0"/>
<rect x="242.38" y="297.80" width="9.83" height="5.83" fill="#fff5f0"/>
<rect x="251.71" y="297.80" width="9.83" height="5.83" fill="#fee8de"/>
<rect x="261.04" y="297.80" width="9.83" height="5.83" fill="#fed9c8"/>
<rect x="270.37" y="297.80" width="9.83" height="5.83" fill="#fcab8e"/>
<rect x="279.70" y="297.80" width="9.83" height="5.83" fill="#fcb79c"/>
<rect x="289.03" y="297.80" width="9.83" height="5.83" fill="#fcaf93"/>
<rect x="298.36" y="297.80" width="9.83" height="5.83" fill="#fdd1be"/>
<rect x="307.69" y="297.80" width="9.83" height="5.83" fill="#67000d"/>
<rect x="317.02" y="297.80" width="9.33" height="5.83" fill="#67000d"/>
<text x="330.00" y="302.72" font-size="6.45" fill="#231f20">Sex differentiation</text>
<rect x="186.40" y="303.13" width="9.83" height="5.83" fill="#fc8e6e"/>
<rect x="195.73" y="303.13" width="9.83" height="5.83" fill="#fff5f0"/>
<rect x="205.06" y="303.13" width="9.83" height="5.83" fill="#fff5f0"/>
<rect x="214.39" y="303.13" width="9.83" height="5.83" fill="#fff5f0"/>
<rect x="223.72" y="303.13" width="9.83" height="5.83" fill="#fff5f0"/>
<rect x="233.05" y="303.13" width="9.83" height="5.83" fill="#fff5f0"/>
<rect x="242.38" y="303.13" width="9.83" height="5.83" fill="#fee8de"/>
<rect x="251.71" y="303.13" width="9.83" height="5.83" fill="#fcc2ab"/>
<rect x="261.04" y="303.13" width="9.83" height="5.83" fill="#fcaf93"/>
<rect x="270.37" y="303.13" width="9.83" height="5.83" fill="#67000d"/>
<rect x="279.70" y="303.13" width="9.83" height="5.83" fill="#fcb79c"/>
<rect x="289.03" y="303.13" width="9.83" height="5.83" fill="#fc7e5e"/>
<rect x="298.36" y="303.13" width="9.83" height="5.83" fill="#fb6a4a"/>
<rect x="307.69" y="303.13" width="9.83" height="5.83" fill="#67000d"/>
<rect x="317.02" y="303.13" width="9.33" height="5.83" fill="#67000d"/>
<text x="330.00" y="308.05" font-size="6.45" fill="#231f20">Receptor-mediated endocytosis</text>
<rect x="186.40" y="308.46" width="9.83" height="5.33" fill="#fcaf93"/>
<rect x="195.73" y="308.46" width="9.83" height="5.33" fill="#fff5f0"/>
<rect x="205.06" y="308.46" width="9.83" height="5.33" fill="#fff5f0"/>
<rect x="214.39" y="308.46" width="9.83" height="5.33" fill="#fff5f0"/>
<rect x="223.72" y="308.46" width="9.83" height="5.33" fill="#fed9c8"/>
<rect x="233.05" y="308.46" width="9.83" height="5.33" fill="#fff5f0"/>
<rect x="242.38" y="308.46" width="9.83" height="5.33" fill="#fee8de"/>
<rect x="251.71" y="308.46" width="9.83" height="5.33" fill="#fcbba1"/>
<rect x="261.04" y="308.46" width="9.83" height="5.33" fill="#fc8e6e"/>
<rect x="270.37" y="308.46" width="9.83" height="5.33" fill="#67000d"/>
<rect x="279.70" y="308.46" width="9.83" height="5.33" fill="#fcbba1"/>
<rect x="289.03" y="308.46" width="9.83" height="5.33" fill="#f14432"/>
<rect x="298.36" y="308.46" width="9.83" height="5.33" fill="#e12d26"/>
<rect x="307.69" y="308.46" width="9.83" height="5.33" fill="#67000d"/>
<rect x="317.02" y="308.46" width="9.33" height="5.33" fill="#67000d"/>
<text x="330.00" y="313.38" font-size="6.45" fill="#231f20">Membrane organization</text>
<rect x="186.40" y="297.80" width="139.95" height="15.99" fill="none" stroke="#555" stroke-width="0.6"/>
<rect x="186.40" y="320.20" width="9.83" height="5.83" fill="#fff5f0"/>
<rect x="195.73" y="320.20" width="9.83" height="5.83" fill="#fff5f0"/>
<rect x="205.06" y="320.20" width="9.83" height="5.83" fill="#fff5f0"/>
<rect x="214.39" y="320.20" width="9.83" height="5.83" fill="#fff5f0"/>
<rect x="223.72" y="320.20" width="9.83" height="5.83" fill="#fed9c8"/>
<rect x="233.05" y="320.20" width="9.83" height="5.83" fill="#fff5f0"/>
<rect x="242.38" y="320.20" width="9.83" height="5.83" fill="#fff5f0"/>
<rect x="251.71" y="320.20" width="9.83" height="5.83" fill="#fff5f0"/>
<rect x="261.04" y="320.20" width="9.83" height="5.83" fill="#fff5f0"/>
<rect x="270.37" y="320.20" width="9.83" height="5.83" fill="#fed9c8"/>
<rect x="279.70" y="320.20" width="9.83" height="5.83" fill="#fff5f0"/>
<rect x="289.03" y="320.20" width="9.83" height="5.83" fill="#fff5f0"/>
<rect x="298.36" y="320.20" width="9.83" height="5.83" fill="#fed9c8"/>
<rect x="307.69" y="320.20" width="9.83" height="5.83" fill="#fcb79c"/>
<rect x="317.02" y="320.20" width="9.33" height="5.83" fill="#a50f15"/>
<text x="330.00" y="325.12" font-size="6.45" fill="#231f20">Regulation of gene expression, epigenetic</text>
<rect x="186.40" y="325.53" width="9.83" height="5.83" fill="#fff5f0"/>
<rect x="195.73" y="325.53" width="9.83" height="5.83" fill="#fff5f0"/>
<rect x="205.06" y="325.53" width="9.83" height="5.83" fill="#fff5f0"/>
<rect x="214.39" y="325.53" width="9.83" height="5.83" fill="#fff5f0"/>
<rect x="223.72" y="325.53" width="9.83" height="5.83" fill="#fff5f0"/>
<rect x="233.05" y="325.53" width="9.83" height="5.83" fill="#fff5f0"/>
<rect x="242.38" y="325.53" width="9.83" height="5.83" fill="#fff5f0"/>
<rect x="251.71" y="325.53" width="9.83" height="5.83" fill="#fff5f0"/>
<rect x="261.04" y="325.53" width="9.83" height="5.83" fill="#fff5f0"/>
<rect x="270.37" y="325.53" width="9.83" height="5.83" fill="#fff5f0"/>
<rect x="279.70" y="325.53" width="9.83" height="5.83" fill="#fff5f0"/>
<rect x="289.03" y="325.53" width="9.83" height="5.83" fill="#fff5f0"/>
<rect x="298.36" y="325.53" width="9.83" height="5.83" fill="#fc9e80"/>
<rect x="307.69" y="325.53" width="9.83" height="5.83" fill="#fed9c8"/>
<rect x="317.02" y="325.53" width="9.33" height="5.83" fill="#a50f15"/>
<text x="330.00" y="330.44" font-size="6.45" fill="#231f20">Mitotic sister chromatid segregation</text>
<rect x="186.40" y="330.86" width="9.83" height="5.83" fill="#fff5f0"/>
<rect x="195.73" y="330.86" width="9.83" height="5.83" fill="#fff5f0"/>
<rect x="205.06" y="330.86" width="9.83" height="5.83" fill="#fff5f0"/>
<rect x="214.39" y="330.86" width="9.83" height="5.83" fill="#fcc2ab"/>
<rect x="223.72" y="330.86" width="9.83" height="5.83" fill="#fcc2ab"/>
<rect x="233.05" y="330.86" width="9.83" height="5.83" fill="#fff5f0"/>
<rect x="242.38" y="330.86" width="9.83" height="5.83" fill="#fff5f0"/>
<rect x="251.71" y="330.86" width="9.83" height="5.83" fill="#fff5f0"/>
<rect x="261.04" y="330.86" width="9.83" height="5.83" fill="#fcc2ab"/>
<rect x="270.37" y="330.86" width="9.83" height="5.83" fill="#fcc2ab"/>
<rect x="279.70" y="330.86" width="9.83" height="5.83" fill="#fff5f0"/>
<rect x="289.03" y="330.86" width="9.83" height="5.83" fill="#fff5f0"/>
<rect x="298.36" y="330.86" width="9.83" height="5.83" fill="#fff5f0"/>
<rect x="307.69" y="330.86" width="9.83" height="5.83" fill="#fc8e6e"/>
<rect x="317.02" y="330.86" width="9.33" height="5.83" fill="#e12d26"/>
<text x="330.00" y="335.78" font-size="6.45" fill="#231f20">Mitotic spindle organization</text>
<rect x="186.40" y="336.19" width="9.83" height="5.33" fill="#fff5f0"/>
<rect x="195.73" y="336.19" width="9.83" height="5.33" fill="#fff5f0"/>
<rect x="205.06" y="336.19" width="9.83" height="5.33" fill="#fff5f0"/>
<rect x="214.39" y="336.19" width="9.83" height="5.33" fill="#fff5f0"/>
<rect x="223.72" y="336.19" width="9.83" height="5.33" fill="#fff5f0"/>
<rect x="233.05" y="336.19" width="9.83" height="5.33" fill="#fff5f0"/>
<rect x="242.38" y="336.19" width="9.83" height="5.33" fill="#fff5f0"/>
<rect x="251.71" y="336.19" width="9.83" height="5.33" fill="#fff5f0"/>
<rect x="261.04" y="336.19" width="9.83" height="5.33" fill="#fff5f0"/>
<rect x="270.37" y="336.19" width="9.83" height="5.33" fill="#fff5f0"/>
<rect x="279.70" y="336.19" width="9.83" height="5.33" fill="#fff5f0"/>
<rect x="289.03" y="336.19" width="9.83" height="5.33" fill="#fff5f0"/>
<rect x="298.36" y="336.19" width="9.83" height="5.33" fill="#fff5f0"/>
<rect x="307.69" y="336.19" width="9.83" height="5.33" fill="#fb6a4a"/>
<rect x="317.02" y="336.19" width="9.33" height="5.33" fill="#6d010e"/>
<text x="330.00" y="341.11" font-size="6.45" fill="#231f20">Mitotic cell cycle</text>
<rect x="186.40" y="320.20" width="139.95" height="21.32" fill="none" stroke="#555" stroke-width="0.6"/>
<text x="193.26" y="191.30" font-size="6.5" fill="#231f20" transform="rotate(-90 193.26 191.30)">MAB–5.L2</text>
<text x="202.59" y="191.30" font-size="6.5" fill="#231f20" transform="rotate(-90 202.59 191.30)">SAX–3.L2</text>
<text x="211.92" y="191.30" font-size="6.5" fill="#231f20" transform="rotate(-90 211.92 191.30)">ZAG–1.L1</text>
<text x="221.25" y="191.30" font-size="6.5" fill="#231f20" transform="rotate(-90 221.25 191.30)">CES–1.L1</text>
<text x="230.58" y="191.30" font-size="6.5" fill="#231f20" transform="rotate(-90 230.58 191.30)">FKH–10.L4</text>
<text x="239.91" y="191.30" font-size="6.5" fill="#231f20" transform="rotate(-90 239.91 191.30)">FKH–10.L3</text>
<text x="249.24" y="191.30" font-size="6.5" fill="#231f20" transform="rotate(-90 249.24 191.30)">FKH–10.L1</text>
<text x="258.57" y="191.30" font-size="6.5" fill="#231f20" transform="rotate(-90 258.57 191.30)">ZAG–1.L2</text>
<text x="267.91" y="191.30" font-size="6.5" fill="#231f20" transform="rotate(-90 267.91 191.30)">CES–1.LE</text>
<text x="277.24" y="191.30" font-size="6.5" fill="#231f20" transform="rotate(-90 277.24 191.30)">C34F6.9.L2</text>
<text x="286.56" y="191.30" font-size="6.5" fill="#231f20" transform="rotate(-90 286.56 191.30)">SEM–4.L2</text>
<text x="295.89" y="191.30" font-size="6.5" fill="#231f20" transform="rotate(-90 295.89 191.30)">MEP–1.L4</text>
<text x="305.23" y="191.30" font-size="6.5" fill="#231f20" transform="rotate(-90 305.23 191.30)">MEP–1.L1</text>
<text x="314.56" y="191.30" font-size="6.5" fill="#231f20" transform="rotate(-90 314.56 191.30)">MEP–1.EM</text>
<text x="323.88" y="191.30" font-size="6.5" fill="#231f20" transform="rotate(-90 323.88 191.30)">DPL–1.L1</text>
<defs><linearGradient id="cbar" x1="0" y1="0" x2="0" y2="1"><stop offset="0.000" stop-color="#67000d"/><stop offset="0.125" stop-color="#a50f15"/><stop offset="0.250" stop-color="#cb181d"/><stop offset="0.375" stop-color="#ef3b2c"/><stop offset="0.500" stop-color="#fb6a4a"/><stop offset="0.625" stop-color="#fc9272"/><stop offset="0.750" stop-color="#fcbba1"/><stop offset="0.875" stop-color="#fee0d2"/><stop offset="1.000" stop-color="#fff5f0"/></linearGradient></defs>
<rect x="175.5" y="205.0" width="5.6" height="124.7" fill="url(#cbar)"/>
<rect x="175.5" y="205.0" width="5.6" height="124.7" fill="none" stroke="#777" stroke-width="0.4"/>
<text x="178.30" y="202.30" font-size="5.5" text-anchor="middle" fill="#231f20">6</text>
<text x="178.30" y="336.00" font-size="5.5" text-anchor="middle" fill="#231f20">0</text>
<text x="169.0" y="269" font-size="6.5" text-anchor="middle" fill="#231f20" transform="rotate(-90 169.0 269)">−log<tspan font-size="4.5" dy="1.3">10</tspan><tspan dy="-1.3"> (</tspan><tspan font-style="italic">P</tspan> value)</text>
<text x="456.60" y="164.00" font-size="11" font-weight="bold" fill="#000">h</text>
<text x="575.80" y="163.00" font-size="6.7" text-anchor="middle" fill="#231f20">II : 6,966,516–7,006,335</text>
<rect x="473.3" y="167.5" width="196.5" height="173.9" fill="none" stroke="#444" stroke-width="0.8"/>
<rect x="602.50" y="168.00" width="13.90" height="173.00" fill="#eeeef3"/>
<line x1="476.20" y1="172.50" x2="503.00" y2="172.50" stroke="#222" stroke-width="0.6"/>
<rect x="476.20" y="170.35" width="3.80" height="4.30" fill="#1a1a1a"/>
<rect x="481.00" y="170.35" width="2.00" height="4.30" fill="#1a1a1a"/>
<rect x="484.00" y="170.35" width="2.90" height="4.30" fill="#1a1a1a"/>
<rect x="487.80" y="170.35" width="1.80" height="4.30" fill="#1a1a1a"/>
<rect x="490.50" y="170.35" width="2.90" height="4.30" fill="#1a1a1a"/>
<rect x="494.20" y="170.35" width="4.30" height="4.30" fill="#1a1a1a"/>
<rect x="499.30" y="170.35" width="3.70" height="4.30" fill="#1a1a1a"/>
<line x1="505.40" y1="172.50" x2="511.20" y2="172.50" stroke="#222" stroke-width="0.6"/>
<rect x="505.40" y="170.35" width="3.40" height="4.30" fill="#1a1a1a"/>
<rect x="510.30" y="170.35" width="0.90" height="4.30" fill="#1a1a1a"/>
<rect x="525.50" y="170.35" width="2.30" height="4.30" fill="#1a1a1a"/>
<line x1="541.60" y1="172.50" x2="571.00" y2="172.50" stroke="#222" stroke-width="0.6"/>
<rect x="541.60" y="170.35" width="2.90" height="4.30" fill="#666666"/>
<path d="M549.6,171.5 L551.0,172.5 L549.6,173.5" fill="none" stroke="#222" stroke-width="0.4"/>
<path d="M556.2,171.5 L557.6,172.5 L556.2,173.5" fill="none" stroke="#222" stroke-width="0.4"/>
<path d="M562.7,171.5 L564.1,172.5 L562.7,173.5" fill="none" stroke="#222" stroke-width="0.4"/>
<line x1="570.00" y1="172.50" x2="597.70" y2="172.50" stroke="#222" stroke-width="0.6"/>
<rect x="570.00" y="170.35" width="7.80" height="4.30" fill="#1a1a1a"/>
<rect x="579.10" y="170.35" width="3.30" height="4.30" fill="#1a1a1a"/>
<rect x="583.70" y="170.35" width="0.60" height="4.30" fill="#1a1a1a"/>
<rect x="586.60" y="170.35" width="1.70" height="4.30" fill="#1a1a1a"/>
<rect x="589.30" y="170.35" width="1.60" height="4.30" fill="#1a1a1a"/>
<rect x="592.20" y="170.35" width="1.40" height="4.30" fill="#1a1a1a"/>
<rect x="594.90" y="170.35" width="3.30" height="4.30" fill="#1a1a1a"/>
<line x1="614.50" y1="172.50" x2="668.00" y2="172.50" stroke="#222" stroke-width="0.6"/>
<line x1="614.50" y1="171.00" x2="614.50" y2="174.00" stroke="#222" stroke-width="0.5"/>
<line x1="667.80" y1="171.00" x2="667.80" y2="174.00" stroke="#222" stroke-width="0.5"/>
<rect x="615.80" y="170.35" width="1.20" height="4.30" fill="#1a1a1a"/>
<rect x="622.00" y="170.35" width="2.80" height="4.30" fill="#1a1a1a"/>
<rect x="647.30" y="170.35" width="2.70" height="4.30" fill="#1a1a1a"/>
<rect x="650.60" y="170.35" width="2.80" height="4.30" fill="#1a1a1a"/>
<rect x="655.00" y="170.35" width="2.90" height="4.30" fill="#1a1a1a"/>
<rect x="658.50" y="170.35" width="1.10" height="4.30" fill="#1a1a1a"/>
<rect x="642.20" y="170.35" width="2.30" height="4.30" fill="#555555"/>
<path d="M627.2,171.5 L628.6,172.5 L627.2,173.5" fill="none" stroke="#222" stroke-width="0.4"/>
<path d="M632.2,171.5 L633.6,172.5 L632.2,173.5" fill="none" stroke="#222" stroke-width="0.4"/>
<path d="M636.7,171.5 L638.1,172.5 L636.7,173.5" fill="none" stroke="#222" stroke-width="0.4"/>
<path d="M661.2,171.5 L662.6,172.5 L661.2,173.5" fill="none" stroke="#222" stroke-width="0.4"/>
<path d="M664.2,171.5 L665.6,172.5 L664.2,173.5" fill="none" stroke="#222" stroke-width="0.4"/>
<text x="475.40" y="180.40" font-size="6.5" font-style="italic" fill="#222" transform="rotate(26 475.40 180.40)">c15f1.5</text>
<text x="494.40" y="180.40" font-size="6.5" font-style="italic" fill="#222" transform="rotate(26 494.40 180.40)">art-1</text>
<text x="508.40" y="179.70" font-size="6.5" font-style="italic" fill="#222" transform="rotate(26 508.40 179.70)">sod-1</text>
<text x="523.60" y="180.00" font-size="6.5" font-style="italic" fill="#222" transform="rotate(26 523.60 180.00)">c15f1.8</text>
<text x="555.40" y="180.00" font-size="6.5" font-style="italic" fill="#222" transform="rotate(26 555.40 180.00)">c15f1.2</text>
<text x="585.00" y="179.00" font-size="6.5" font-style="italic" fill="#222" transform="rotate(28 585.00 179.00)">c15f1.1</text>
<text x="622.80" y="179.60" font-size="6.5" font-style="italic" fill="#d4232b" transform="rotate(30 622.80 179.60)">unc-104</text>
<defs><clipPath id="inBand"><rect x="602.5" y="160" width="13.9" height="190"/></clipPath><clipPath id="outBand"><path d="M0,0 H602.5 V351 H0 Z M616.4,0 H685 V351 H616.4 Z"/></clipPath></defs>
<polygon points="474.00,213.50 474.00,213.50 474.25,213.50 474.50,213.50 474.75,213.50 475.00,213.50 475.25,212.99 475.50,212.03 475.75,212.28 476.00,211.84 476.25,211.97 476.50,210.23 476.75,210.35 477.00,210.35 477.25,210.35 477.50,209.97 477.75,212.03 478.00,211.75 478.25,212.20 478.50,211.99 478.75,212.13 479.00,212.07 479.25,210.89 479.50,212.09 479.75,212.73 480.00,213.47 480.25,212.19 480.50,210.41 480.75,209.55 481.00,210.37 481.25,209.72 481.50,209.59 481.75,208.08 482.00,206.29 482.25,205.73 482.50,206.12 482.75,207.19 483.00,208.76 483.25,210.51 483.50,210.87 483.75,210.46 484.00,209.21 484.25,208.02 484.50,207.16 484.75,208.37 485.00,209.73 485.25,211.41 485.50,211.54 485.75,206.45 486.00,195.08 486.25,197.61 486.50,208.28 486.75,209.86 487.00,210.63 487.25,211.18 487.50,211.72 487.75,212.45 488.00,213.50 488.25,212.33 488.50,209.83 488.75,209.03 489.00,209.76 489.25,210.38 489.50,209.78 489.75,210.81 490.00,210.05 490.25,211.12 490.50,211.34 490.75,210.47 491.00,210.34 491.25,210.34 491.50,210.14 491.75,210.47 492.00,209.48 492.25,209.70 492.50,209.75 492.75,210.79 493.00,211.44 493.25,210.70 493.50,210.50 493.75,210.71 494.00,211.09 494.25,212.00 494.50,211.59 494.75,211.37 495.00,210.88 495.25,210.18 495.50,209.52 495.75,209.09 496.00,209.40 496.25,210.30 496.50,210.25 496.75,209.76 497.00,210.00 497.25,210.40 497.50,211.01 497.75,211.28 498.00,211.23 498.25,211.31 498.50,211.48 498.75,211.86 499.00,212.46 499.25,212.47 499.50,211.73 499.75,210.73 500.00,209.37 500.25,208.65 500.50,209.04 500.75,209.35 501.00,208.06 501.25,209.69 501.50,210.08 501.75,211.77 502.00,213.50 502.25,211.60 502.50,209.73 502.75,209.11 503.00,209.45 503.25,209.34 503.50,209.57 503.75,209.96 504.00,210.05 504.25,209.20 504.50,208.66 504.75,206.10 505.00,206.91 505.25,207.14 505.50,205.52 505.75,207.67 506.00,207.32 506.25,208.00 506.50,208.37 506.75,207.48 507.00,207.92 507.25,208.29 507.50,209.44 507.75,211.82 508.00,213.50 508.25,212.89 508.50,211.24 508.75,210.68 509.00,210.79 509.25,211.39 509.50,210.76 509.75,209.43 510.00,209.08 510.25,209.29 510.50,209.62 510.75,208.50 511.00,208.07 511.25,208.78 511.50,209.78 511.75,210.75 512.00,209.51 512.25,210.40 512.50,209.79 512.75,209.79 513.00,211.05 513.25,210.90 513.50,211.23 513.75,211.40 514.00,211.02 514.25,211.17 514.50,211.22 514.75,211.19 515.00,211.57 515.25,211.21 515.50,211.37 515.75,211.71 516.00,213.50 516.25,213.05 516.50,212.24 516.75,211.97 517.00,211.83 517.25,211.65 517.50,211.64 517.75,211.59 518.00,211.69 518.25,211.57 518.50,211.32 518.75,211.47 519.00,211.54 519.25,211.84 519.50,212.18 519.75,212.17 520.00,212.24 520.25,212.22 520.50,211.85 520.75,211.42 521.00,210.64 521.25,210.50 521.50,210.32 521.75,211.19 522.00,211.02 522.25,212.42 522.50,213.49 522.75,213.50 523.00,213.50 523.25,213.50 523.50,213.50 523.75,213.50 524.00,213.50 524.25,212.77 524.50,211.14 524.75,209.75 525.00,209.81 525.25,210.83 525.50,211.03 525.75,211.28 526.00,210.41 526.25,211.24 526.50,211.38 526.75,211.35 527.00,211.62 527.25,211.69 527.50,211.91 527.75,212.03 528.00,212.30 528.25,212.96 528.50,213.50 528.75,213.36 529.00,213.05 529.25,212.93 529.50,212.73 529.75,213.09 530.00,213.06 530.25,213.14 530.50,213.08 530.75,213.09 531.00,213.20 531.25,213.02 531.50,213.09 531.75,213.07 532.00,213.18 532.25,213.39 532.50,213.50 532.75,210.88 533.00,208.25 533.25,209.47 533.50,211.47 533.75,212.27 534.00,212.32 534.25,212.02 534.50,211.33 534.75,210.54 535.00,209.61 535.25,208.89 535.50,209.52 535.75,209.30 536.00,208.49 536.25,207.63 536.50,206.65 536.75,204.73 537.00,202.97 537.25,203.81 537.50,207.43 537.75,210.05 538.00,210.73 538.25,210.06 538.50,209.73 538.75,208.67 539.00,209.79 539.25,208.90 539.50,207.20 539.75,207.20 540.00,207.20 540.25,208.65 540.50,209.31 540.75,212.00 541.00,211.89 541.25,211.36 541.50,210.95 541.75,210.83 542.00,208.27 542.25,211.25 542.50,211.35 542.75,210.86 543.00,209.20 543.25,207.26 543.50,206.34 543.75,207.43 544.00,209.14 544.25,211.13 544.50,211.67 544.75,211.85 545.00,211.94 545.25,211.49 545.50,211.18 545.75,211.19 546.00,211.29 546.25,211.57 546.50,211.88 546.75,211.89 547.00,211.73 547.25,211.16 547.50,211.11 547.75,212.37 548.00,213.50 548.25,212.89 548.50,212.38 548.75,212.53 549.00,212.99 549.25,212.85 549.50,212.71 549.75,212.79 550.00,212.81 550.25,212.83 550.50,212.86 550.75,212.88 551.00,212.58 551.25,212.71 551.50,212.56 551.75,213.19 552.00,213.44 552.25,213.49 552.50,213.50 552.75,213.50 553.00,213.50 553.25,213.50 553.50,213.50 553.75,213.50 554.00,213.50 554.25,213.50 554.50,213.50 554.75,213.50 555.00,213.50 555.25,213.50 555.50,213.50 555.75,213.50 556.00,213.50 556.25,213.50 556.50,213.50 556.75,213.50 557.00,213.50 557.25,213.48 557.50,213.39 557.75,213.15 558.00,212.82 558.25,212.71 558.50,212.95 558.75,213.27 559.00,213.44 559.25,213.49 559.50,213.50 559.75,213.50 560.00,213.48 560.25,213.40 560.50,213.14 560.75,212.73 561.00,212.50 561.25,212.73 561.50,213.14 561.75,213.40 562.00,213.48 562.25,213.50 562.50,213.50 562.75,213.50 563.00,213.50 563.25,213.50 563.50,213.50 563.75,213.50 564.00,213.50 564.25,213.50 564.50,213.50 564.75,213.50 565.00,213.50 565.25,213.50 565.50,213.50 565.75,213.50 566.00,213.50 566.25,213.50 566.50,213.49 566.75,213.42 567.00,213.21 567.25,212.88 567.50,212.70 567.75,212.88 568.00,213.21 568.25,213.42 568.50,213.49 568.75,213.50 569.00,213.50 569.25,213.50 569.50,213.50 569.75,212.81 570.00,211.41 570.25,210.52 570.50,210.02 570.75,210.23 571.00,211.02 571.25,211.19 571.50,211.51 571.75,211.14 572.00,211.08 572.25,210.87 572.50,211.30 572.75,211.16 573.00,210.30 573.25,210.77 573.50,210.83 573.75,211.25 574.00,211.67 574.25,210.58 574.50,211.63 574.75,211.59 575.00,211.65 575.25,211.82 575.50,211.54 575.75,211.40 576.00,211.77 576.25,212.11 576.50,211.95 576.75,211.28 577.00,211.09 577.25,210.67 577.50,210.61 577.75,210.01 578.00,209.97 578.25,210.71 578.50,211.21 578.75,210.82 579.00,210.28 579.25,208.80 579.50,210.33 579.75,210.44 580.00,209.52 580.25,210.08 580.50,209.74 580.75,210.05 581.00,209.83 581.25,209.68 581.50,209.88 581.75,210.46 582.00,210.95 582.25,211.10 582.50,211.31 582.75,212.39 583.00,213.44 583.25,212.81 583.50,211.72 583.75,209.61 584.00,210.03 584.25,208.76 584.50,208.01 584.75,208.74 585.00,209.68 585.25,209.04 585.50,209.35 585.75,210.02 586.00,209.88 586.25,210.46 586.50,209.79 586.75,208.74 587.00,207.33 587.25,207.25 587.50,208.55 587.75,209.09 588.00,208.53 588.25,205.93 588.50,205.21 588.75,205.87 589.00,208.14 589.25,208.32 589.50,209.32 589.75,210.62 590.00,210.28 590.25,210.90 590.50,209.73 590.75,208.30 591.00,205.74 591.25,205.91 591.50,208.29 591.75,211.41 592.00,213.50 592.25,212.48 592.50,210.39 592.75,209.03 593.00,208.91 593.25,209.90 593.50,210.75 593.75,211.00 594.00,210.83 594.25,210.91 594.50,210.90 594.75,210.84 595.00,208.91 595.25,208.25 595.50,208.25 595.75,209.38 596.00,210.64 596.25,209.33 596.50,208.25 596.75,208.25 597.00,208.59 597.25,210.69 597.50,211.83 597.75,210.63 598.00,211.08 598.25,210.39 598.50,210.10 598.75,210.07 599.00,209.32 599.25,210.03 599.50,210.50 599.75,211.25 600.00,210.94 600.25,210.70 600.50,210.64 600.75,209.34 601.00,208.53 601.25,208.65 601.50,209.75 601.75,210.72 602.00,211.01 602.25,212.09 602.50,213.50 602.75,212.83 603.00,211.57 603.25,211.21 603.50,211.07 603.75,210.97 604.00,210.48 604.25,210.36 604.50,211.02 604.75,211.25 605.00,210.87 605.25,208.34 605.50,205.58 605.75,203.41 606.00,202.74 606.25,203.01 606.50,205.53 606.75,208.34 607.00,209.04 607.25,209.94 607.50,209.67 607.75,209.98 608.00,210.37 608.25,210.78 608.50,210.67 608.75,210.01 609.00,210.15 609.25,210.78 609.50,210.08 609.75,207.12 610.00,204.42 610.25,202.98 610.50,202.56 610.75,204.08 611.00,204.43 611.25,207.20 611.50,207.33 611.75,209.00 612.00,210.68 612.25,210.42 612.50,209.64 612.75,210.25 613.00,209.69 613.25,209.58 613.50,210.00 613.75,203.12 614.00,193.24 614.25,188.28 614.50,196.32 614.75,205.96 615.00,210.00 615.25,208.91 615.50,207.20 615.75,207.28 616.00,208.99 616.25,211.73 616.50,213.50 616.75,211.42 617.00,209.41 617.25,209.22 617.50,206.79 617.75,208.09 618.00,207.77 618.25,207.92 618.50,206.45 618.75,205.80 619.00,206.46 619.25,207.67 619.50,208.25 619.75,208.74 620.00,206.60 620.25,205.25 620.50,204.63 620.75,206.14 621.00,207.97 621.25,207.79 621.50,206.43 621.75,206.31 622.00,206.54 622.25,206.46 622.50,207.90 622.75,208.48 623.00,210.22 623.25,211.64 623.50,210.60 623.75,208.98 624.00,207.61 624.25,206.91 624.50,207.85 624.75,209.28 625.00,209.85 625.25,207.06 625.50,206.87 625.75,205.62 626.00,206.02 626.25,207.55 626.50,207.72 626.75,208.93 627.00,211.92 627.25,213.39 627.50,213.48 627.75,213.50 628.00,213.50 628.25,213.50 628.50,213.50 628.75,213.50 629.00,213.50 629.25,213.50 629.50,213.50 629.75,213.50 630.00,213.50 630.25,213.50 630.50,213.50 630.75,213.48 631.00,213.39 631.25,213.15 631.50,212.82 631.75,212.71 632.00,212.95 632.25,213.27 632.50,213.44 632.75,213.49 633.00,213.50 633.25,213.50 633.50,213.50 633.75,213.50 634.00,213.50 634.25,213.50 634.50,213.50 634.75,213.50 635.00,213.50 635.25,213.50 635.50,213.50 635.75,213.50 636.00,213.50 636.25,213.50 636.50,213.50 636.75,212.65 637.00,211.15 637.25,210.34 637.50,209.83 637.75,210.13 638.00,210.69 638.25,211.11 638.50,210.99 638.75,211.84 639.00,212.04 639.25,213.01 639.50,213.50 639.75,213.50 640.00,213.50 640.25,213.50 640.50,213.50 640.75,213.50 641.00,213.50 641.25,212.91 641.50,212.33 641.75,212.48 642.00,212.61 642.25,212.84 642.50,213.50 642.75,213.50 643.00,213.50 643.25,213.50 643.50,213.50 643.75,213.50 644.00,213.50 644.25,213.50 644.50,213.50 644.75,213.50 645.00,213.50 645.25,213.50 645.50,213.50 645.75,212.68 646.00,211.70 646.25,211.12 646.50,210.86 646.75,210.75 647.00,210.35 647.25,210.73 647.50,209.56 647.75,211.58 648.00,209.69 648.25,211.08 648.50,211.05 648.75,211.11 649.00,210.23 649.25,209.32 649.50,208.87 649.75,208.92 650.00,210.23 650.25,211.23 650.50,212.15 650.75,210.01 651.00,209.49 651.25,209.30 651.50,209.69 651.75,211.39 652.00,211.56 652.25,211.08 652.50,210.49 652.75,210.90 653.00,210.94 653.25,211.64 653.50,211.21 653.75,209.84 654.00,208.61 654.25,208.15 654.50,208.43 654.75,209.50 655.00,208.23 655.25,210.42 655.50,211.39 655.75,211.95 656.00,211.99 656.25,211.39 656.50,210.36 656.75,210.26 657.00,210.99 657.25,211.82 657.50,212.37 657.75,212.43 658.00,212.54 658.25,212.71 658.50,212.13 658.75,211.56 659.00,211.08 659.25,210.86 659.50,211.12 659.75,210.80 660.00,210.23 660.25,209.47 660.50,209.55 660.75,209.54 661.00,209.10 661.25,209.91 661.50,210.82 661.75,211.06 662.00,210.73 662.25,210.71 662.50,211.44 662.75,212.03 663.00,211.51 663.25,211.01 663.50,210.54 663.75,210.45 664.00,211.23 664.25,209.55 664.50,211.09 664.75,211.19 665.00,210.62 665.25,211.80 665.50,210.99 665.75,209.70 666.00,209.34 666.25,209.56 666.50,210.54 666.75,209.39 667.00,210.54 667.25,209.94 667.50,209.73 667.75,210.55 668.00,210.12 668.25,210.33 668.50,210.76 668.75,211.06 669.00,210.56 669.25,211.84 669.25,213.50" fill="#1d4f8e" clip-path="url(#outBand)"/>
<polygon points="474.00,213.50 474.00,213.50 474.25,213.50 474.50,213.50 474.75,213.50 475.00,213.50 475.25,212.99 475.50,212.03 475.75,212.28 476.00,211.84 476.25,211.97 476.50,210.23 476.75,210.35 477.00,210.35 477.25,210.35 477.50,209.97 477.75,212.03 478.00,211.75 478.25,212.20 478.50,211.99 478.75,212.13 479.00,212.07 479.25,210.89 479.50,212.09 479.75,212.73 480.00,213.47 480.25,212.19 480.50,210.41 480.75,209.55 481.00,210.37 481.25,209.72 481.50,209.59 481.75,208.08 482.00,206.29 482.25,205.73 482.50,206.12 482.75,207.19 483.00,208.76 483.25,210.51 483.50,210.87 483.75,210.46 484.00,209.21 484.25,208.02 484.50,207.16 484.75,208.37 485.00,209.73 485.25,211.41 485.50,211.54 485.75,206.45 486.00,195.08 486.25,197.61 486.50,208.28 486.75,209.86 487.00,210.63 487.25,211.18 487.50,211.72 487.75,212.45 488.00,213.50 488.25,212.33 488.50,209.83 488.75,209.03 489.00,209.76 489.25,210.38 489.50,209.78 489.75,210.81 490.00,210.05 490.25,211.12 490.50,211.34 490.75,210.47 491.00,210.34 491.25,210.34 491.50,210.14 491.75,210.47 492.00,209.48 492.25,209.70 492.50,209.75 492.75,210.79 493.00,211.44 493.25,210.70 493.50,210.50 493.75,210.71 494.00,211.09 494.25,212.00 494.50,211.59 494.75,211.37 495.00,210.88 495.25,210.18 495.50,209.52 495.75,209.09 496.00,209.40 496.25,210.30 496.50,210.25 496.75,209.76 497.00,210.00 497.25,210.40 497.50,211.01 497.75,211.28 498.00,211.23 498.25,211.31 498.50,211.48 498.75,211.86 499.00,212.46 499.25,212.47 499.50,211.73 499.75,210.73 500.00,209.37 500.25,208.65 500.50,209.04 500.75,209.35 501.00,208.06 501.25,209.69 501.50,210.08 501.75,211.77 502.00,213.50 502.25,211.60 502.50,209.73 502.75,209.11 503.00,209.45 503.25,209.34 503.50,209.57 503.75,209.96 504.00,210.05 504.25,209.20 504.50,208.66 504.75,206.10 505.00,206.91 505.25,207.14 505.50,205.52 505.75,207.67 506.00,207.32 506.25,208.00 506.50,208.37 506.75,207.48 507.00,207.92 507.25,208.29 507.50,209.44 507.75,211.82 508.00,213.50 508.25,212.89 508.50,211.24 508.75,210.68 509.00,210.79 509.25,211.39 509.50,210.76 509.75,209.43 510.00,209.08 510.25,209.29 510.50,209.62 510.75,208.50 511.00,208.07 511.25,208.78 511.50,209.78 511.75,210.75 512.00,209.51 512.25,210.40 512.50,209.79 512.75,209.79 513.00,211.05 513.25,210.90 513.50,211.23 513.75,211.40 514.00,211.02 514.25,211.17 514.50,211.22 514.75,211.19 515.00,211.57 515.25,211.21 515.50,211.37 515.75,211.71 516.00,213.50 516.25,213.05 516.50,212.24 516.75,211.97 517.00,211.83 517.25,211.65 517.50,211.64 517.75,211.59 518.00,211.69 518.25,211.57 518.50,211.32 518.75,211.47 519.00,211.54 519.25,211.84 519.50,212.18 519.75,212.17 520.00,212.24 520.25,212.22 520.50,211.85 520.75,211.42 521.00,210.64 521.25,210.50 521.50,210.32 521.75,211.19 522.00,211.02 522.25,212.42 522.50,213.49 522.75,213.50 523.00,213.50 523.25,213.50 523.50,213.50 523.75,213.50 524.00,213.50 524.25,212.77 524.50,211.14 524.75,209.75 525.00,209.81 525.25,210.83 525.50,211.03 525.75,211.28 526.00,210.41 526.25,211.24 526.50,211.38 526.75,211.35 527.00,211.62 527.25,211.69 527.50,211.91 527.75,212.03 528.00,212.30 528.25,212.96 528.50,213.50 528.75,213.36 529.00,213.05 529.25,212.93 529.50,212.73 529.75,213.09 530.00,213.06 530.25,213.14 530.50,213.08 530.75,213.09 531.00,213.20 531.25,213.02 531.50,213.09 531.75,213.07 532.00,213.18 532.25,213.39 532.50,213.50 532.75,210.88 533.00,208.25 533.25,209.47 533.50,211.47 533.75,212.27 534.00,212.32 534.25,212.02 534.50,211.33 534.75,210.54 535.00,209.61 535.25,208.89 535.50,209.52 535.75,209.30 536.00,208.49 536.25,207.63 536.50,206.65 536.75,204.73 537.00,202.97 537.25,203.81 537.50,207.43 537.75,210.05 538.00,210.73 538.25,210.06 538.50,209.73 538.75,208.67 539.00,209.79 539.25,208.90 539.50,207.20 539.75,207.20 540.00,207.20 540.25,208.65 540.50,209.31 540.75,212.00 541.00,211.89 541.25,211.36 541.50,210.95 541.75,210.83 542.00,208.27 542.25,211.25 542.50,211.35 542.75,210.86 543.00,209.20 543.25,207.26 543.50,206.34 543.75,207.43 544.00,209.14 544.25,211.13 544.50,211.67 544.75,211.85 545.00,211.94 545.25,211.49 545.50,211.18 545.75,211.19 546.00,211.29 546.25,211.57 546.50,211.88 546.75,211.89 547.00,211.73 547.25,211.16 547.50,211.11 547.75,212.37 548.00,213.50 548.25,212.89 548.50,212.38 548.75,212.53 549.00,212.99 549.25,212.85 549.50,212.71 549.75,212.79 550.00,212.81 550.25,212.83 550.50,212.86 550.75,212.88 551.00,212.58 551.25,212.71 551.50,212.56 551.75,213.19 552.00,213.44 552.25,213.49 552.50,213.50 552.75,213.50 553.00,213.50 553.25,213.50 553.50,213.50 553.75,213.50 554.00,213.50 554.25,213.50 554.50,213.50 554.75,213.50 555.00,213.50 555.25,213.50 555.50,213.50 555.75,213.50 556.00,213.50 556.25,213.50 556.50,213.50 556.75,213.50 557.00,213.50 557.25,213.48 557.50,213.39 557.75,213.15 558.00,212.82 558.25,212.71 558.50,212.95 558.75,213.27 559.00,213.44 559.25,213.49 559.50,213.50 559.75,213.50 560.00,213.48 560.25,213.40 560.50,213.14 560.75,212.73 561.00,212.50 561.25,212.73 561.50,213.14 561.75,213.40 562.00,213.48 562.25,213.50 562.50,213.50 562.75,213.50 563.00,213.50 563.25,213.50 563.50,213.50 563.75,213.50 564.00,213.50 564.25,213.50 564.50,213.50 564.75,213.50 565.00,213.50 565.25,213.50 565.50,213.50 565.75,213.50 566.00,213.50 566.25,213.50 566.50,213.49 566.75,213.42 567.00,213.21 567.25,212.88 567.50,212.70 567.75,212.88 568.00,213.21 568.25,213.42 568.50,213.49 568.75,213.50 569.00,213.50 569.25,213.50 569.50,213.50 569.75,212.81 570.00,211.41 570.25,210.52 570.50,210.02 570.75,210.23 571.00,211.02 571.25,211.19 571.50,211.51 571.75,211.14 572.00,211.08 572.25,210.87 572.50,211.30 572.75,211.16 573.00,210.30 573.25,210.77 573.50,210.83 573.75,211.25 574.00,211.67 574.25,210.58 574.50,211.63 574.75,211.59 575.00,211.65 575.25,211.82 575.50,211.54 575.75,211.40 576.00,211.77 576.25,212.11 576.50,211.95 576.75,211.28 577.00,211.09 577.25,210.67 577.50,210.61 577.75,210.01 578.00,209.97 578.25,210.71 578.50,211.21 578.75,210.82 579.00,210.28 579.25,208.80 579.50,210.33 579.75,210.44 580.00,209.52 580.25,210.08 580.50,209.74 580.75,210.05 581.00,209.83 581.25,209.68 581.50,209.88 581.75,210.46 582.00,210.95 582.25,211.10 582.50,211.31 582.75,212.39 583.00,213.44 583.25,212.81 583.50,211.72 583.75,209.61 584.00,210.03 584.25,208.76 584.50,208.01 584.75,208.74 585.00,209.68 585.25,209.04 585.50,209.35 585.75,210.02 586.00,209.88 586.25,210.46 586.50,209.79 586.75,208.74 587.00,207.33 587.25,207.25 587.50,208.55 587.75,209.09 588.00,208.53 588.25,205.93 588.50,205.21 588.75,205.87 589.00,208.14 589.25,208.32 589.50,209.32 589.75,210.62 590.00,210.28 590.25,210.90 590.50,209.73 590.75,208.30 591.00,205.74 591.25,205.91 591.50,208.29 591.75,211.41 592.00,213.50 592.25,212.48 592.50,210.39 592.75,209.03 593.00,208.91 593.25,209.90 593.50,210.75 593.75,211.00 594.00,210.83 594.25,210.91 594.50,210.90 594.75,210.84 595.00,208.91 595.25,208.25 595.50,208.25 595.75,209.38 596.00,210.64 596.25,209.33 596.50,208.25 596.75,208.25 597.00,208.59 597.25,210.69 597.50,211.83 597.75,210.63 598.00,211.08 598.25,210.39 598.50,210.10 598.75,210.07 599.00,209.32 599.25,210.03 599.50,210.50 599.75,211.25 600.00,210.94 600.25,210.70 600.50,210.64 600.75,209.34 601.00,208.53 601.25,208.65 601.50,209.75 601.75,210.72 602.00,211.01 602.25,212.09 602.50,213.50 602.75,212.83 603.00,211.57 603.25,211.21 603.50,211.07 603.75,210.97 604.00,210.48 604.25,210.36 604.50,211.02 604.75,211.25 605.00,210.87 605.25,208.34 605.50,205.58 605.75,203.41 606.00,202.74 606.25,203.01 606.50,205.53 606.75,208.34 607.00,209.04 607.25,209.94 607.50,209.67 607.75,209.98 608.00,210.37 608.25,210.78 608.50,210.67 608.75,210.01 609.00,210.15 609.25,210.78 609.50,210.08 609.75,207.12 610.00,204.42 610.25,202.98 610.50,202.56 610.75,204.08 611.00,204.43 611.25,207.20 611.50,207.33 611.75,209.00 612.00,210.68 612.25,210.42 612.50,209.64 612.75,210.25 613.00,209.69 613.25,209.58 613.50,210.00 613.75,203.12 614.00,193.24 614.25,188.28 614.50,196.32 614.75,205.96 615.00,210.00 615.25,208.91 615.50,207.20 615.75,207.28 616.00,208.99 616.25,211.73 616.50,213.50 616.75,211.42 617.00,209.41 617.25,209.22 617.50,206.79 617.75,208.09 618.00,207.77 618.25,207.92 618.50,206.45 618.75,205.80 619.00,206.46 619.25,207.67 619.50,208.25 619.75,208.74 620.00,206.60 620.25,205.25 620.50,204.63 620.75,206.14 621.00,207.97 621.25,207.79 621.50,206.43 621.75,206.31 622.00,206.54 622.25,206.46 622.50,207.90 622.75,208.48 623.00,210.22 623.25,211.64 623.50,210.60 623.75,208.98 624.00,207.61 624.25,206.91 624.50,207.85 624.75,209.28 625.00,209.85 625.25,207.06 625.50,206.87 625.75,205.62 626.00,206.02 626.25,207.55 626.50,207.72 626.75,208.93 627.00,211.92 627.25,213.39 627.50,213.48 627.75,213.50 628.00,213.50 628.25,213.50 628.50,213.50 628.75,213.50 629.00,213.50 629.25,213.50 629.50,213.50 629.75,213.50 630.00,213.50 630.25,213.50 630.50,213.50 630.75,213.48 631.00,213.39 631.25,213.15 631.50,212.82 631.75,212.71 632.00,212.95 632.25,213.27 632.50,213.44 632.75,213.49 633.00,213.50 633.25,213.50 633.50,213.50 633.75,213.50 634.00,213.50 634.25,213.50 634.50,213.50 634.75,213.50 635.00,213.50 635.25,213.50 635.50,213.50 635.75,213.50 636.00,213.50 636.25,213.50 636.50,213.50 636.75,212.65 637.00,211.15 637.25,210.34 637.50,209.83 637.75,210.13 638.00,210.69 638.25,211.11 638.50,210.99 638.75,211.84 639.00,212.04 639.25,213.01 639.50,213.50 639.75,213.50 640.00,213.50 640.25,213.50 640.50,213.50 640.75,213.50 641.00,213.50 641.25,212.91 641.50,212.33 641.75,212.48 642.00,212.61 642.25,212.84 642.50,213.50 642.75,213.50 643.00,213.50 643.25,213.50 643.50,213.50 643.75,213.50 644.00,213.50 644.25,213.50 644.50,213.50 644.75,213.50 645.00,213.50 645.25,213.50 645.50,213.50 645.75,212.68 646.00,211.70 646.25,211.12 646.50,210.86 646.75,210.75 647.00,210.35 647.25,210.73 647.50,209.56 647.75,211.58 648.00,209.69 648.25,211.08 648.50,211.05 648.75,211.11 649.00,210.23 649.25,209.32 649.50,208.87 649.75,208.92 650.00,210.23 650.25,211.23 650.50,212.15 650.75,210.01 651.00,209.49 651.25,209.30 651.50,209.69 651.75,211.39 652.00,211.56 652.25,211.08 652.50,210.49 652.75,210.90 653.00,210.94 653.25,211.64 653.50,211.21 653.75,209.84 654.00,208.61 654.25,208.15 654.50,208.43 654.75,209.50 655.00,208.23 655.25,210.42 655.50,211.39 655.75,211.95 656.00,211.99 656.25,211.39 656.50,210.36 656.75,210.26 657.00,210.99 657.25,211.82 657.50,212.37 657.75,212.43 658.00,212.54 658.25,212.71 658.50,212.13 658.75,211.56 659.00,211.08 659.25,210.86 659.50,211.12 659.75,210.80 660.00,210.23 660.25,209.47 660.50,209.55 660.75,209.54 661.00,209.10 661.25,209.91 661.50,210.82 661.75,211.06 662.00,210.73 662.25,210.71 662.50,211.44 662.75,212.03 663.00,211.51 663.25,211.01 663.50,210.54 663.75,210.45 664.00,211.23 664.25,209.55 664.50,211.09 664.75,211.19 665.00,210.62 665.25,211.80 665.50,210.99 665.75,209.70 666.00,209.34 666.25,209.56 666.50,210.54 666.75,209.39 667.00,210.54 667.25,209.94 667.50,209.73 667.75,210.55 668.00,210.12 668.25,210.33 668.50,210.76 668.75,211.06 669.00,210.56 669.25,211.84 669.25,213.50" fill="#8e90b8" clip-path="url(#inBand)"/>
<line x1="474.00" y1="213.50" x2="602.50" y2="213.50" stroke="#1d4f8e" stroke-width="0.6"/>
<line x1="602.50" y1="213.50" x2="616.40" y2="213.50" stroke="#8e90b8" stroke-width="0.6"/>
<line x1="616.40" y1="213.50" x2="669.50" y2="213.50" stroke="#1d4f8e" stroke-width="0.6"/>
<polygon points="474.00,245.40 474.00,245.40 474.25,245.40 474.50,245.40 474.75,245.40 475.00,245.40 475.25,244.56 475.50,244.25 475.75,243.54 476.00,241.84 476.25,242.04 476.50,242.04 476.75,241.15 477.00,243.48 477.25,243.76 477.50,243.52 477.75,242.65 478.00,242.69 478.25,242.36 478.50,242.04 478.75,242.86 479.00,243.27 479.25,244.13 479.50,244.27 479.75,244.01 480.00,243.64 480.25,242.55 480.50,242.04 480.75,242.04 481.00,241.24 481.25,242.05 481.50,239.76 481.75,237.46 482.00,236.68 482.25,236.26 482.50,238.35 482.75,240.24 483.00,242.26 483.25,243.09 483.50,242.34 483.75,243.47 484.00,243.75 484.25,244.03 484.50,244.02 484.75,242.46 485.00,243.60 485.25,243.61 485.50,243.09 485.75,236.11 486.00,229.55 486.25,229.74 486.50,237.82 486.75,243.66 487.00,243.94 487.25,243.89 487.50,243.27 487.75,241.95 488.00,242.59 488.25,243.05 488.50,243.74 488.75,244.23 489.00,243.59 489.25,243.97 489.50,243.81 489.75,243.37 490.00,243.22 490.25,242.99 490.50,243.06 490.75,242.96 491.00,243.17 491.25,243.43 491.50,243.00 491.75,242.72 492.00,243.01 492.25,242.97 492.50,243.09 492.75,243.15 493.00,243.46 493.25,243.78 493.50,243.43 493.75,243.28 494.00,243.36 494.25,243.00 494.50,243.53 494.75,242.99 495.00,242.73 495.25,242.74 495.50,243.38 495.75,243.81 496.00,243.95 496.25,244.16 496.50,244.44 496.75,244.76 497.00,244.31 497.25,243.81 497.50,243.65 497.75,243.18 498.00,243.85 498.25,244.66 498.50,244.41 498.75,244.27 499.00,244.00 499.25,244.17 499.50,244.15 499.75,243.65 500.00,243.03 500.25,242.68 500.50,242.54 500.75,242.57 501.00,243.13 501.25,243.56 501.50,243.51 501.75,243.35 502.00,243.02 502.25,243.02 502.50,242.90 502.75,243.21 503.00,243.69 503.25,243.87 503.50,243.63 503.75,243.03 504.00,243.04 504.25,243.32 504.50,242.70 504.75,242.22 505.00,242.00 505.25,242.20 505.50,242.59 505.75,243.35 506.00,243.94 506.25,243.72 506.50,243.76 506.75,244.14 507.00,244.01 507.25,243.59 507.50,242.62 507.75,241.75 508.00,241.14 508.25,242.06 508.50,242.35 508.75,243.07 509.00,242.75 509.25,242.16 509.50,241.48 509.75,241.33 510.00,241.02 510.25,241.39 510.50,241.62 510.75,242.30 511.00,242.87 511.25,243.47 511.50,243.63 511.75,244.46 512.00,244.59 512.25,244.25 512.50,242.81 512.75,239.28 513.00,235.35 513.25,233.06 513.50,233.60 513.75,238.19 514.00,241.51 514.25,243.16 514.50,243.47 514.75,243.96 515.00,244.00 515.25,243.73 515.50,243.41 515.75,243.49 516.00,243.81 516.25,243.46 516.50,242.66 516.75,242.04 517.00,241.35 517.25,242.04 517.50,242.04 517.75,242.76 518.00,243.21 518.25,243.33 518.50,242.20 518.75,242.04 519.00,242.47 519.25,242.77 519.50,243.58 519.75,243.41 520.00,244.19 520.25,244.83 520.50,244.91 520.75,243.70 521.00,241.08 521.25,237.71 521.50,235.43 521.75,237.10 522.00,240.74 522.25,242.97 522.50,242.22 522.75,242.36 523.00,242.31 523.25,242.81 523.50,244.01 523.75,243.47 524.00,243.60 524.25,243.58 524.50,243.20 524.75,243.33 525.00,243.25 525.25,243.41 525.50,243.87 525.75,243.84 526.00,243.21 526.25,242.55 526.50,242.62 526.75,242.42 527.00,242.60 527.25,242.61 527.50,243.31 527.75,244.68 528.00,245.40 528.25,245.37 528.50,245.32 528.75,245.27 529.00,245.23 529.25,245.24 529.50,245.05 529.75,245.12 530.00,245.04 530.25,245.02 530.50,245.03 530.75,245.01 531.00,245.16 531.25,245.32 531.50,245.24 531.75,244.21 532.00,242.70 532.25,242.94 532.50,243.71 532.75,244.21 533.00,244.33 533.25,244.32 533.50,244.46 533.75,244.59 534.00,244.24 534.25,243.90 534.50,243.46 534.75,243.38 535.00,243.37 535.25,243.74 535.50,244.11 535.75,244.18 536.00,244.01 536.25,243.86 536.50,243.69 536.75,242.61 537.00,244.09 537.25,244.14 537.50,244.18 537.75,244.10 538.00,242.67 538.25,243.75 538.50,243.26 538.75,242.91 539.00,242.51 539.25,241.62 539.50,241.70 539.75,242.44 540.00,241.76 540.25,241.91 540.50,242.47 540.75,242.63 541.00,242.48 541.25,243.19 541.50,243.21 541.75,243.31 542.00,243.16 542.25,242.36 542.50,242.35 542.75,242.36 543.00,243.12 543.25,243.55 543.50,244.10 543.75,243.16 544.00,243.13 544.25,243.93 544.50,243.55 544.75,243.18 545.00,243.37 545.25,243.94 545.50,243.88 545.75,243.95 546.00,243.60 546.25,242.61 546.50,241.95 546.75,242.02 547.00,242.92 547.25,243.93 547.50,244.35 547.75,244.76 548.00,245.33 548.25,245.19 548.50,244.62 548.75,244.78 549.00,244.83 549.25,244.72 549.50,244.64 549.75,244.67 550.00,244.68 550.25,244.79 550.50,244.60 550.75,244.58 551.00,244.48 551.25,244.55 551.50,244.70 551.75,245.15 552.00,245.39 552.25,245.40 552.50,245.40 552.75,245.40 553.00,245.40 553.25,245.40 553.50,245.40 553.75,245.40 554.00,245.40 554.25,245.40 554.50,245.40 554.75,245.40 555.00,245.40 555.25,245.40 555.50,245.40 555.75,245.40 556.00,245.39 556.25,245.34 556.50,245.18 556.75,244.94 557.00,244.80 557.25,244.94 557.50,245.18 557.75,245.34 558.00,245.39 558.25,245.34 558.50,245.18 558.75,244.94 559.00,244.80 559.25,244.94 559.50,245.18 559.75,245.34 560.00,245.39 560.25,245.40 560.50,245.40 560.75,245.40 561.00,245.40 561.25,245.40 561.50,245.40 561.75,245.40 562.00,245.40 562.25,245.40 562.50,245.40 562.75,245.40 563.00,245.40 563.25,245.40 563.50,245.40 563.75,245.40 564.00,245.40 564.25,245.40 564.50,245.40 564.75,245.40 565.00,245.40 565.25,245.40 565.50,245.40 565.75,245.40 566.00,245.40 566.25,245.40 566.50,245.40 566.75,245.40 567.00,245.40 567.25,245.40 567.50,245.40 567.75,245.40 568.00,245.40 568.25,245.40 568.50,245.40 568.75,245.40 569.00,245.40 569.25,245.40 569.50,244.98 569.75,243.26 570.00,242.33 570.25,242.24 570.50,242.41 570.75,243.14 571.00,243.51 571.25,243.81 571.50,243.73 571.75,244.37 572.00,243.61 572.25,242.65 572.50,241.99 572.75,241.88 573.00,243.08 573.25,243.45 573.50,242.41 573.75,242.62 574.00,242.31 574.25,242.80 574.50,243.62 574.75,243.61 575.00,244.05 575.25,243.36 575.50,244.05 575.75,244.04 576.00,244.22 576.25,242.72 576.50,243.21 576.75,243.24 577.00,243.31 577.25,243.70 577.50,243.75 577.75,243.85 578.00,244.04 578.25,243.23 578.50,244.05 578.75,243.92 579.00,244.11 579.25,243.98 579.50,243.28 579.75,242.85 580.00,242.28 580.25,242.13 580.50,242.32 580.75,242.47 581.00,243.29 581.25,243.38 581.50,242.73 581.75,243.51 582.00,243.29 582.25,243.55 582.50,242.67 582.75,241.79 583.00,240.68 583.25,241.62 583.50,241.68 583.75,242.91 584.00,243.93 584.25,244.22 584.50,242.76 584.75,243.80 585.00,243.66 585.25,243.85 585.50,243.36 585.75,242.78 586.00,242.65 586.25,241.57 586.50,243.07 586.75,243.25 587.00,243.34 587.25,243.76 587.50,244.25 587.75,243.83 588.00,243.33 588.25,242.87 588.50,242.96 588.75,243.76 589.00,244.20 589.25,244.19 589.50,244.20 589.75,244.09 590.00,244.17 590.25,244.36 590.50,244.58 590.75,244.73 591.00,244.69 591.25,244.08 591.50,243.82 591.75,243.71 592.00,243.76 592.25,244.35 592.50,243.92 592.75,243.46 593.00,243.32 593.25,243.59 593.50,243.05 593.75,242.68 594.00,242.87 594.25,243.48 594.50,243.64 594.75,243.12 595.00,242.77 595.25,242.91 595.50,243.42 595.75,243.48 596.00,243.38 596.25,243.19 596.50,243.12 596.75,243.08 597.00,242.86 597.25,242.85 597.50,242.84 597.75,243.19 598.00,243.21 598.25,242.54 598.50,241.62 598.75,241.62 599.00,241.30 599.25,241.62 599.50,241.62 599.75,240.58 600.00,242.02 600.25,242.50 600.50,242.98 600.75,242.48 601.00,242.55 601.25,242.58 601.50,242.73 601.75,241.27 602.00,243.08 602.25,244.35 602.50,245.40 602.75,244.33 603.00,243.12 603.25,243.55 603.50,243.16 603.75,242.54 604.00,242.15 604.25,241.74 604.50,240.95 604.75,235.26 605.00,228.61 605.25,222.37 605.50,221.14 605.75,223.22 606.00,228.50 606.25,235.42 606.50,240.62 606.75,243.12 607.00,243.47 607.25,243.30 607.50,244.14 607.75,243.65 608.00,243.47 608.25,242.32 608.50,242.25 608.75,242.13 609.00,242.69 609.25,241.83 609.50,240.91 609.75,241.29 610.00,241.56 610.25,240.97 610.50,240.96 610.75,241.19 611.00,241.91 611.25,242.15 611.50,242.20 611.75,241.38 612.00,241.52 612.25,242.32 612.50,243.05 612.75,243.82 613.00,243.71 613.25,243.05 613.50,242.17 613.75,240.55 614.00,237.35 614.25,234.59 614.50,235.77 614.75,239.17 615.00,242.20 615.25,243.07 615.50,243.63 615.75,243.75 616.00,243.58 616.25,244.36 616.50,245.40 616.75,244.15 617.00,242.17 617.25,241.39 617.50,239.85 617.75,239.54 618.00,241.96 618.25,242.62 618.50,243.47 618.75,243.54 619.00,242.83 619.25,243.49 619.50,241.11 619.75,238.31 620.00,235.41 620.25,234.15 620.50,236.22 620.75,239.25 621.00,241.23 621.25,240.31 621.50,241.96 621.75,242.59 622.00,242.26 622.25,240.24 622.50,241.17 622.75,240.44 623.00,241.02 623.25,240.63 623.50,240.17 623.75,240.86 624.00,240.59 624.25,239.64 624.50,240.62 624.75,240.63 625.00,239.67 625.25,239.56 625.50,240.86 625.75,242.29 626.00,243.41 626.25,244.00 626.50,244.91 626.75,245.30 627.00,245.38 627.25,245.40 627.50,245.40 627.75,245.40 628.00,245.40 628.25,245.40 628.50,245.40 628.75,245.40 629.00,245.40 629.25,245.40 629.50,245.40 629.75,245.40 630.00,245.39 630.25,245.33 630.50,245.15 630.75,244.86 631.00,244.70 631.25,244.86 631.50,245.15 631.75,245.33 632.00,245.39 632.25,245.40 632.50,245.40 632.75,245.40 633.00,245.40 633.25,245.40 633.50,245.40 633.75,245.40 634.00,245.40 634.25,245.40 634.50,245.40 634.75,245.40 635.00,245.40 635.25,245.40 635.50,245.40 635.75,245.40 636.00,245.40 636.25,245.32 636.50,244.44 636.75,243.34 637.00,243.57 637.25,244.04 637.50,244.14 637.75,244.10 638.00,243.42 638.25,243.30 638.50,243.25 638.75,243.54 639.00,243.73 639.25,243.68 639.50,242.88 639.75,242.88 640.00,242.12 640.25,243.67 640.50,243.93 640.75,243.74 641.00,243.98 641.25,244.26 641.50,244.29 641.75,243.96 642.00,243.46 642.25,243.93 642.50,244.93 642.75,245.40 643.00,245.40 643.25,245.40 643.50,245.40 643.75,245.40 644.00,245.40 644.25,245.40 644.50,245.40 644.75,245.40 645.00,245.40 645.25,245.40 645.50,244.80 645.75,243.03 646.00,241.76 646.25,241.65 646.50,242.55 646.75,242.71 647.00,242.92 647.25,242.15 647.50,241.52 647.75,241.72 648.00,242.22 648.25,242.93 648.50,243.36 648.75,242.97 649.00,244.53 649.25,244.62 649.50,244.40 649.75,244.25 650.00,243.86 650.25,242.84 650.50,243.39 650.75,242.90 651.00,243.11 651.25,243.00 651.50,242.09 651.75,243.36 652.00,243.26 652.25,243.56 652.50,243.07 652.75,242.47 653.00,242.47 653.25,242.79 653.50,243.25 653.75,243.18 654.00,243.12 654.25,242.79 654.50,241.94 654.75,241.77 655.00,241.69 655.25,242.41 655.50,242.94 655.75,244.23 656.00,244.03 656.25,243.83 656.50,243.44 656.75,242.70 657.00,242.14 657.25,242.09 657.50,242.14 657.75,242.40 658.00,243.18 658.25,243.91 658.50,244.28 658.75,244.18 659.00,244.07 659.25,244.08 659.50,244.33 659.75,243.44 660.00,243.29 660.25,242.35 660.50,242.77 660.75,243.03 661.00,242.93 661.25,242.80 661.50,241.91 661.75,242.05 662.00,242.40 662.25,242.14 662.50,243.25 662.75,243.20 663.00,241.87 663.25,243.04 663.50,242.76 663.75,242.80 664.00,242.43 664.25,243.38 664.50,243.60 664.75,243.50 665.00,242.70 665.25,243.59 665.50,244.40 665.75,243.93 666.00,243.65 666.25,243.74 666.50,243.82 666.75,244.38 667.00,242.67 667.25,244.12 667.50,243.55 667.75,243.44 668.00,243.08 668.25,242.37 668.50,243.42 668.75,243.33 669.00,243.97 669.25,244.87 669.25,245.40" fill="#2a6cb6" clip-path="url(#outBand)"/>
<polygon points="474.00,245.40 474.00,245.40 474.25,245.40 474.50,245.40 474.75,245.40 475.00,245.40 475.25,244.56 475.50,244.25 475.75,243.54 476.00,241.84 476.25,242.04 476.50,242.04 476.75,241.15 477.00,243.48 477.25,243.76 477.50,243.52 477.75,242.65 478.00,242.69 478.25,242.36 478.50,242.04 478.75,242.86 479.00,243.27 479.25,244.13 479.50,244.27 479.75,244.01 480.00,243.64 480.25,242.55 480.50,242.04 480.75,242.04 481.00,241.24 481.25,242.05 481.50,239.76 481.75,237.46 482.00,236.68 482.25,236.26 482.50,238.35 482.75,240.24 483.00,242.26 483.25,243.09 483.50,242.34 483.75,243.47 484.00,243.75 484.25,244.03 484.50,244.02 484.75,242.46 485.00,243.60 485.25,243.61 485.50,243.09 485.75,236.11 486.00,229.55 486.25,229.74 486.50,237.82 486.75,243.66 487.00,243.94 487.25,243.89 487.50,243.27 487.75,241.95 488.00,242.59 488.25,243.05 488.50,243.74 488.75,244.23 489.00,243.59 489.25,243.97 489.50,243.81 489.75,243.37 490.00,243.22 490.25,242.99 490.50,243.06 490.75,242.96 491.00,243.17 491.25,243.43 491.50,243.00 491.75,242.72 492.00,243.01 492.25,242.97 492.50,243.09 492.75,243.15 493.00,243.46 493.25,243.78 493.50,243.43 493.75,243.28 494.00,243.36 494.25,243.00 494.50,243.53 494.75,242.99 495.00,242.73 495.25,242.74 495.50,243.38 495.75,243.81 496.00,243.95 496.25,244.16 496.50,244.44 496.75,244.76 497.00,244.31 497.25,243.81 497.50,243.65 497.75,243.18 498.00,243.85 498.25,244.66 498.50,244.41 498.75,244.27 499.00,244.00 499.25,244.17 499.50,244.15 499.75,243.65 500.00,243.03 500.25,242.68 500.50,242.54 500.75,242.57 501.00,243.13 501.25,243.56 501.50,243.51 501.75,243.35 502.00,243.02 502.25,243.02 502.50,242.90 502.75,243.21 503.00,243.69 503.25,243.87 503.50,243.63 503.75,243.03 504.00,243.04 504.25,243.32 504.50,242.70 504.75,242.22 505.00,242.00 505.25,242.20 505.50,242.59 505.75,243.35 506.00,243.94 506.25,243.72 506.50,243.76 506.75,244.14 507.00,244.01 507.25,243.59 507.50,242.62 507.75,241.75 508.00,241.14 508.25,242.06 508.50,242.35 508.75,243.07 509.00,242.75 509.25,242.16 509.50,241.48 509.75,241.33 510.00,241.02 510.25,241.39 510.50,241.62 510.75,242.30 511.00,242.87 511.25,243.47 511.50,243.63 511.75,244.46 512.00,244.59 512.25,244.25 512.50,242.81 512.75,239.28 513.00,235.35 513.25,233.06 513.50,233.60 513.75,238.19 514.00,241.51 514.25,243.16 514.50,243.47 514.75,243.96 515.00,244.00 515.25,243.73 515.50,243.41 515.75,243.49 516.00,243.81 516.25,243.46 516.50,242.66 516.75,242.04 517.00,241.35 517.25,242.04 517.50,242.04 517.75,242.76 518.00,243.21 518.25,243.33 518.50,242.20 518.75,242.04 519.00,242.47 519.25,242.77 519.50,243.58 519.75,243.41 520.00,244.19 520.25,244.83 520.50,244.91 520.75,243.70 521.00,241.08 521.25,237.71 521.50,235.43 521.75,237.10 522.00,240.74 522.25,242.97 522.50,242.22 522.75,242.36 523.00,242.31 523.25,242.81 523.50,244.01 523.75,243.47 524.00,243.60 524.25,243.58 524.50,243.20 524.75,243.33 525.00,243.25 525.25,243.41 525.50,243.87 525.75,243.84 526.00,243.21 526.25,242.55 526.50,242.62 526.75,242.42 527.00,242.60 527.25,242.61 527.50,243.31 527.75,244.68 528.00,245.40 528.25,245.37 528.50,245.32 528.75,245.27 529.00,245.23 529.25,245.24 529.50,245.05 529.75,245.12 530.00,245.04 530.25,245.02 530.50,245.03 530.75,245.01 531.00,245.16 531.25,245.32 531.50,245.24 531.75,244.21 532.00,242.70 532.25,242.94 532.50,243.71 532.75,244.21 533.00,244.33 533.25,244.32 533.50,244.46 533.75,244.59 534.00,244.24 534.25,243.90 534.50,243.46 534.75,243.38 535.00,243.37 535.25,243.74 535.50,244.11 535.75,244.18 536.00,244.01 536.25,243.86 536.50,243.69 536.75,242.61 537.00,244.09 537.25,244.14 537.50,244.18 537.75,244.10 538.00,242.67 538.25,243.75 538.50,243.26 538.75,242.91 539.00,242.51 539.25,241.62 539.50,241.70 539.75,242.44 540.00,241.76 540.25,241.91 540.50,242.47 540.75,242.63 541.00,242.48 541.25,243.19 541.50,243.21 541.75,243.31 542.00,243.16 542.25,242.36 542.50,242.35 542.75,242.36 543.00,243.12 543.25,243.55 543.50,244.10 543.75,243.16 544.00,243.13 544.25,243.93 544.50,243.55 544.75,243.18 545.00,243.37 545.25,243.94 545.50,243.88 545.75,243.95 546.00,243.60 546.25,242.61 546.50,241.95 546.75,242.02 547.00,242.92 547.25,243.93 547.50,244.35 547.75,244.76 548.00,245.33 548.25,245.19 548.50,244.62 548.75,244.78 549.00,244.83 549.25,244.72 549.50,244.64 549.75,244.67 550.00,244.68 550.25,244.79 550.50,244.60 550.75,244.58 551.00,244.48 551.25,244.55 551.50,244.70 551.75,245.15 552.00,245.39 552.25,245.40 552.50,245.40 552.75,245.40 553.00,245.40 553.25,245.40 553.50,245.40 553.75,245.40 554.00,245.40 554.25,245.40 554.50,245.40 554.75,245.40 555.00,245.40 555.25,245.40 555.50,245.40 555.75,245.40 556.00,245.39 556.25,245.34 556.50,245.18 556.75,244.94 557.00,244.80 557.25,244.94 557.50,245.18 557.75,245.34 558.00,245.39 558.25,245.34 558.50,245.18 558.75,244.94 559.00,244.80 559.25,244.94 559.50,245.18 559.75,245.34 560.00,245.39 560.25,245.40 560.50,245.40 560.75,245.40 561.00,245.40 561.25,245.40 561.50,245.40 561.75,245.40 562.00,245.40 562.25,245.40 562.50,245.40 562.75,245.40 563.00,245.40 563.25,245.40 563.50,245.40 563.75,245.40 564.00,245.40 564.25,245.40 564.50,245.40 564.75,245.40 565.00,245.40 565.25,245.40 565.50,245.40 565.75,245.40 566.00,245.40 566.25,245.40 566.50,245.40 566.75,245.40 567.00,245.40 567.25,245.40 567.50,245.40 567.75,245.40 568.00,245.40 568.25,245.40 568.50,245.40 568.75,245.40 569.00,245.40 569.25,245.40 569.50,244.98 569.75,243.26 570.00,242.33 570.25,242.24 570.50,242.41 570.75,243.14 571.00,243.51 571.25,243.81 571.50,243.73 571.75,244.37 572.00,243.61 572.25,242.65 572.50,241.99 572.75,241.88 573.00,243.08 573.25,243.45 573.50,242.41 573.75,242.62 574.00,242.31 574.25,242.80 574.50,243.62 574.75,243.61 575.00,244.05 575.25,243.36 575.50,244.05 575.75,244.04 576.00,244.22 576.25,242.72 576.50,243.21 576.75,243.24 577.00,243.31 577.25,243.70 577.50,243.75 577.75,243.85 578.00,244.04 578.25,243.23 578.50,244.05 578.75,243.92 579.00,244.11 579.25,243.98 579.50,243.28 579.75,242.85 580.00,242.28 580.25,242.13 580.50,242.32 580.75,242.47 581.00,243.29 581.25,243.38 581.50,242.73 581.75,243.51 582.00,243.29 582.25,243.55 582.50,242.67 582.75,241.79 583.00,240.68 583.25,241.62 583.50,241.68 583.75,242.91 584.00,243.93 584.25,244.22 584.50,242.76 584.75,243.80 585.00,243.66 585.25,243.85 585.50,243.36 585.75,242.78 586.00,242.65 586.25,241.57 586.50,243.07 586.75,243.25 587.00,243.34 587.25,243.76 587.50,244.25 587.75,243.83 588.00,243.33 588.25,242.87 588.50,242.96 588.75,243.76 589.00,244.20 589.25,244.19 589.50,244.20 589.75,244.09 590.00,244.17 590.25,244.36 590.50,244.58 590.75,244.73 591.00,244.69 591.25,244.08 591.50,243.82 591.75,243.71 592.00,243.76 592.25,244.35 592.50,243.92 592.75,243.46 593.00,243.32 593.25,243.59 593.50,243.05 593.75,242.68 594.00,242.87 594.25,243.48 594.50,243.64 594.75,243.12 595.00,242.77 595.25,242.91 595.50,243.42 595.75,243.48 596.00,243.38 596.25,243.19 596.50,243.12 596.75,243.08 597.00,242.86 597.25,242.85 597.50,242.84 597.75,243.19 598.00,243.21 598.25,242.54 598.50,241.62 598.75,241.62 599.00,241.30 599.25,241.62 599.50,241.62 599.75,240.58 600.00,242.02 600.25,242.50 600.50,242.98 600.75,242.48 601.00,242.55 601.25,242.58 601.50,242.73 601.75,241.27 602.00,243.08 602.25,244.35 602.50,245.40 602.75,244.33 603.00,243.12 603.25,243.55 603.50,243.16 603.75,242.54 604.00,242.15 604.25,241.74 604.50,240.95 604.75,235.26 605.00,228.61 605.25,222.37 605.50,221.14 605.75,223.22 606.00,228.50 606.25,235.42 606.50,240.62 606.75,243.12 607.00,243.47 607.25,243.30 607.50,244.14 607.75,243.65 608.00,243.47 608.25,242.32 608.50,242.25 608.75,242.13 609.00,242.69 609.25,241.83 609.50,240.91 609.75,241.29 610.00,241.56 610.25,240.97 610.50,240.96 610.75,241.19 611.00,241.91 611.25,242.15 611.50,242.20 611.75,241.38 612.00,241.52 612.25,242.32 612.50,243.05 612.75,243.82 613.00,243.71 613.25,243.05 613.50,242.17 613.75,240.55 614.00,237.35 614.25,234.59 614.50,235.77 614.75,239.17 615.00,242.20 615.25,243.07 615.50,243.63 615.75,243.75 616.00,243.58 616.25,244.36 616.50,245.40 616.75,244.15 617.00,242.17 617.25,241.39 617.50,239.85 617.75,239.54 618.00,241.96 618.25,242.62 618.50,243.47 618.75,243.54 619.00,242.83 619.25,243.49 619.50,241.11 619.75,238.31 620.00,235.41 620.25,234.15 620.50,236.22 620.75,239.25 621.00,241.23 621.25,240.31 621.50,241.96 621.75,242.59 622.00,242.26 622.25,240.24 622.50,241.17 622.75,240.44 623.00,241.02 623.25,240.63 623.50,240.17 623.75,240.86 624.00,240.59 624.25,239.64 624.50,240.62 624.75,240.63 625.00,239.67 625.25,239.56 625.50,240.86 625.75,242.29 626.00,243.41 626.25,244.00 626.50,244.91 626.75,245.30 627.00,245.38 627.25,245.40 627.50,245.40 627.75,245.40 628.00,245.40 628.25,245.40 628.50,245.40 628.75,245.40 629.00,245.40 629.25,245.40 629.50,245.40 629.75,245.40 630.00,245.39 630.25,245.33 630.50,245.15 630.75,244.86 631.00,244.70 631.25,244.86 631.50,245.15 631.75,245.33 632.00,245.39 632.25,245.40 632.50,245.40 632.75,245.40 633.00,245.40 633.25,245.40 633.50,245.40 633.75,245.40 634.00,245.40 634.25,245.40 634.50,245.40 634.75,245.40 635.00,245.40 635.25,245.40 635.50,245.40 635.75,245.40 636.00,245.40 636.25,245.32 636.50,244.44 636.75,243.34 637.00,243.57 637.25,244.04 637.50,244.14 637.75,244.10 638.00,243.42 638.25,243.30 638.50,243.25 638.75,243.54 639.00,243.73 639.25,243.68 639.50,242.88 639.75,242.88 640.00,242.12 640.25,243.67 640.50,243.93 640.75,243.74 641.00,243.98 641.25,244.26 641.50,244.29 641.75,243.96 642.00,243.46 642.25,243.93 642.50,244.93 642.75,245.40 643.00,245.40 643.25,245.40 643.50,245.40 643.75,245.40 644.00,245.40 644.25,245.40 644.50,245.40 644.75,245.40 645.00,245.40 645.25,245.40 645.50,244.80 645.75,243.03 646.00,241.76 646.25,241.65 646.50,242.55 646.75,242.71 647.00,242.92 647.25,242.15 647.50,241.52 647.75,241.72 648.00,242.22 648.25,242.93 648.50,243.36 648.75,242.97 649.00,244.53 649.25,244.62 649.50,244.40 649.75,244.25 650.00,243.86 650.25,242.84 650.50,243.39 650.75,242.90 651.00,243.11 651.25,243.00 651.50,242.09 651.75,243.36 652.00,243.26 652.25,243.56 652.50,243.07 652.75,242.47 653.00,242.47 653.25,242.79 653.50,243.25 653.75,243.18 654.00,243.12 654.25,242.79 654.50,241.94 654.75,241.77 655.00,241.69 655.25,242.41 655.50,242.94 655.75,244.23 656.00,244.03 656.25,243.83 656.50,243.44 656.75,242.70 657.00,242.14 657.25,242.09 657.50,242.14 657.75,242.40 658.00,243.18 658.25,243.91 658.50,244.28 658.75,244.18 659.00,244.07 659.25,244.08 659.50,244.33 659.75,243.44 660.00,243.29 660.25,242.35 660.50,242.77 660.75,243.03 661.00,242.93 661.25,242.80 661.50,241.91 661.75,242.05 662.00,242.40 662.25,242.14 662.50,243.25 662.75,243.20 663.00,241.87 663.25,243.04 663.50,242.76 663.75,242.80 664.00,242.43 664.25,243.38 664.50,243.60 664.75,243.50 665.00,242.70 665.25,243.59 665.50,244.40 665.75,243.93 666.00,243.65 666.25,243.74 666.50,243.82 666.75,244.38 667.00,242.67 667.25,244.12 667.50,243.55 667.75,243.44 668.00,243.08 668.25,242.37 668.50,243.42 668.75,243.33 669.00,243.97 669.25,244.87 669.25,245.40" fill="#9aa4d0" clip-path="url(#inBand)"/>
<line x1="474.00" y1="245.40" x2="602.50" y2="245.40" stroke="#2a6cb6" stroke-width="0.6"/>
<line x1="602.50" y1="245.40" x2="616.40" y2="245.40" stroke="#9aa4d0" stroke-width="0.6"/>
<line x1="616.40" y1="245.40" x2="669.50" y2="245.40" stroke="#2a6cb6" stroke-width="0.6"/>
<polygon points="474.00,277.40 474.00,277.40 474.25,277.40 474.50,277.40 474.75,277.40 475.00,277.40 475.25,277.40 475.50,277.40 475.75,275.41 476.00,269.94 476.25,270.01 476.50,269.41 476.75,270.16 477.00,271.78 477.25,273.26 477.50,273.80 477.75,273.69 478.00,273.56 478.25,273.92 478.50,272.53 478.75,271.41 479.00,271.22 479.25,271.76 479.50,270.71 479.75,268.94 480.00,268.77 480.25,269.33 480.50,271.45 480.75,270.15 481.00,270.33 481.25,271.09 481.50,272.26 481.75,274.00 482.00,274.66 482.25,275.81 482.50,275.30 482.75,274.24 483.00,273.37 483.25,271.96 483.50,268.74 483.75,268.03 484.00,268.60 484.25,269.35 484.50,268.79 484.75,272.84 485.00,273.94 485.25,273.00 485.50,271.56 485.75,269.35 486.00,267.74 486.25,269.04 486.50,271.49 486.75,273.76 487.00,274.46 487.25,270.72 487.50,272.32 487.75,269.63 488.00,268.26 488.25,271.73 488.50,273.88 488.75,274.45 489.00,273.97 489.25,270.75 489.50,272.32 489.75,270.14 490.00,269.64 490.25,268.37 490.50,267.12 490.75,267.78 491.00,266.90 491.25,267.62 491.50,268.98 491.75,269.07 492.00,270.45 492.25,270.95 492.50,271.97 492.75,270.37 493.00,268.52 493.25,269.08 493.50,270.37 493.75,272.54 494.00,272.77 494.25,271.85 494.50,269.99 494.75,268.80 495.00,268.65 495.25,271.82 495.50,274.60 495.75,272.75 496.00,274.67 496.25,273.39 496.50,271.41 496.75,271.32 497.00,271.01 497.25,272.28 497.50,273.87 497.75,272.25 498.00,274.11 498.25,273.67 498.50,273.22 498.75,273.78 499.00,274.05 499.25,275.10 499.50,275.79 499.75,276.14 500.00,276.01 500.25,274.87 500.50,274.31 500.75,272.65 501.00,273.72 501.25,273.89 501.50,273.81 501.75,274.13 502.00,273.11 502.25,272.31 502.50,271.14 502.75,271.11 503.00,269.72 503.25,270.96 503.50,268.36 503.75,271.37 504.00,272.60 504.25,273.87 504.50,274.86 504.75,272.74 505.00,273.40 505.25,270.75 505.50,268.55 505.75,266.90 506.00,266.90 506.25,266.90 506.50,269.27 506.75,271.94 507.00,273.17 507.25,273.80 507.50,275.00 507.75,272.70 508.00,273.95 508.25,272.09 508.50,270.27 508.75,270.79 509.00,271.91 509.25,271.32 509.50,268.64 509.75,266.90 510.00,267.59 510.25,268.77 510.50,270.49 510.75,269.67 511.00,270.20 511.25,270.11 511.50,268.70 511.75,269.53 512.00,270.53 512.25,269.51 512.50,267.30 512.75,266.90 513.00,266.90 513.25,268.37 513.50,270.90 513.75,273.50 514.00,274.08 514.25,273.85 514.50,272.40 514.75,272.22 515.00,271.97 515.25,271.67 515.50,271.52 515.75,271.75 516.00,270.46 516.25,270.41 516.50,271.92 516.75,273.23 517.00,275.20 517.25,274.70 517.50,274.07 517.75,273.83 518.00,273.99 518.25,274.37 518.50,274.77 518.75,274.91 519.00,271.68 519.25,273.40 519.50,272.59 519.75,272.72 520.00,273.47 520.25,272.98 520.50,272.57 520.75,271.60 521.00,272.48 521.25,272.53 521.50,272.12 521.75,272.42 522.00,270.34 522.25,270.56 522.50,268.75 522.75,269.28 523.00,270.74 523.25,271.28 523.50,272.17 523.75,270.87 524.00,268.14 524.25,267.21 524.50,269.26 524.75,270.31 525.00,272.29 525.25,272.23 525.50,271.38 525.75,272.11 526.00,272.01 526.25,271.65 526.50,266.90 526.75,266.90 527.00,266.90 527.25,266.90 527.50,272.85 527.75,274.47 528.00,277.40 528.25,277.16 528.50,276.78 528.75,276.73 529.00,276.76 529.25,276.64 529.50,276.45 529.75,276.17 530.00,276.30 530.25,276.64 530.50,276.39 530.75,276.28 531.00,276.51 531.25,277.12 531.50,276.61 531.75,274.17 532.00,270.98 532.25,272.36 532.50,273.90 532.75,274.71 533.00,274.91 533.25,274.94 533.50,274.48 533.75,273.45 534.00,272.26 534.25,270.58 534.50,273.74 534.75,274.04 535.00,274.80 535.25,275.09 535.50,276.01 535.75,276.33 536.00,275.65 536.25,275.02 536.50,273.90 536.75,273.32 537.00,273.10 537.25,273.40 537.50,273.66 537.75,273.00 538.00,272.18 538.25,271.93 538.50,272.43 538.75,273.42 539.00,271.36 539.25,272.68 539.50,273.05 539.75,271.06 540.00,273.67 540.25,272.81 540.50,272.42 540.75,272.60 541.00,271.83 541.25,272.68 541.50,272.71 541.75,270.34 542.00,268.58 542.25,268.58 542.50,268.96 542.75,272.08 543.00,272.18 543.25,271.22 543.50,268.58 543.75,268.58 544.00,269.78 544.25,271.89 544.50,274.63 544.75,274.54 545.00,274.70 545.25,274.57 545.50,274.39 545.75,273.36 546.00,272.85 546.25,273.38 546.50,274.04 546.75,274.26 547.00,274.13 547.25,272.09 547.50,274.25 547.75,273.06 548.00,271.92 548.25,272.06 548.50,272.86 548.75,274.33 549.00,274.24 549.25,273.41 549.50,272.63 549.75,274.25 550.00,277.40 550.25,276.62 550.50,275.75 550.75,275.82 551.00,276.16 551.25,276.25 551.50,276.20 551.75,276.47 552.00,276.97 552.25,277.28 552.50,277.38 552.75,277.40 553.00,277.40 553.25,277.40 553.50,277.40 553.75,277.40 554.00,277.40 554.25,277.40 554.50,277.40 554.75,277.40 555.00,277.40 555.25,277.40 555.50,277.40 555.75,277.40 556.00,277.39 556.25,277.32 556.50,277.11 556.75,276.78 557.00,276.60 557.25,276.78 557.50,277.11 557.75,277.32 558.00,277.39 558.25,277.40 558.50,277.40 558.75,277.40 559.00,277.39 559.25,277.32 559.50,277.11 559.75,276.78 560.00,276.60 560.25,276.78 560.50,277.11 560.75,277.32 561.00,277.39 561.25,277.40 561.50,277.40 561.75,277.40 562.00,277.40 562.25,277.40 562.50,277.40 562.75,277.40 563.00,277.40 563.25,277.40 563.50,277.40 563.75,277.40 564.00,277.40 564.25,277.40 564.50,277.40 564.75,277.40 565.00,277.40 565.25,277.40 565.50,277.40 565.75,277.40 566.00,277.40 566.25,277.40 566.50,277.38 566.75,277.30 567.00,277.04 567.25,276.63 567.50,276.40 567.75,276.63 568.00,277.04 568.25,277.30 568.50,277.38 568.75,277.40 569.00,277.40 569.25,277.40 569.50,277.40 569.75,277.40 570.00,276.91 570.25,274.58 570.50,272.02 570.75,271.59 571.00,271.65 571.25,272.18 571.50,272.69 571.75,271.68 572.00,273.38 572.25,272.62 572.50,272.86 572.75,273.92 573.00,274.65 573.25,275.71 573.50,274.23 573.75,273.16 574.00,270.37 574.25,269.42 574.50,268.26 574.75,269.68 575.00,272.68 575.25,273.88 575.50,274.18 575.75,274.99 576.00,273.10 576.25,272.07 576.50,271.99 576.75,272.29 577.00,273.22 577.25,272.13 577.50,271.12 577.75,270.49 578.00,270.60 578.25,270.90 578.50,271.33 578.75,272.06 579.00,271.31 579.25,270.43 579.50,272.17 579.75,272.48 580.00,272.90 580.25,272.88 580.50,273.57 580.75,273.54 581.00,271.85 581.25,270.71 581.50,269.42 581.75,269.42 582.00,269.42 582.25,269.88 582.50,272.38 582.75,271.04 583.00,271.24 583.25,272.01 583.50,269.67 583.75,274.07 584.00,274.28 584.25,274.55 584.50,274.28 584.75,272.37 585.00,271.31 585.25,269.72 585.50,271.73 585.75,272.23 586.00,269.67 586.25,269.42 586.50,271.34 586.75,273.22 587.00,275.29 587.25,275.27 587.50,274.56 587.75,273.98 588.00,273.98 588.25,272.24 588.50,272.01 588.75,274.50 589.00,275.22 589.25,275.66 589.50,275.50 589.75,275.22 590.00,274.44 590.25,273.40 590.50,272.39 590.75,272.51 591.00,273.38 591.25,274.50 591.50,275.36 591.75,275.82 592.00,275.62 592.25,275.31 592.50,274.96 592.75,274.57 593.00,274.32 593.25,273.89 593.50,273.98 593.75,274.33 594.00,274.13 594.25,272.97 594.50,270.64 594.75,271.43 595.00,271.81 595.25,272.99 595.50,273.90 595.75,273.90 596.00,273.18 596.25,272.75 596.50,272.28 596.75,272.05 597.00,272.08 597.25,271.18 597.50,270.87 597.75,271.29 598.00,271.62 598.25,272.66 598.50,272.79 598.75,272.25 599.00,271.79 599.25,272.24 599.50,273.55 599.75,275.27 600.00,276.35 600.25,275.85 600.50,274.70 600.75,273.83 601.00,271.14 601.25,273.40 601.50,274.08 601.75,273.33 602.00,274.87 602.25,275.95 602.50,277.40 602.75,275.22 603.00,270.34 603.25,266.78 603.50,265.45 603.75,264.86 604.00,266.45 604.25,266.64 604.50,263.56 604.75,267.42 605.00,264.05 605.25,265.43 605.50,265.37 605.75,258.77 606.00,256.30 606.25,260.16 606.50,262.70 606.75,263.14 607.00,267.47 607.25,270.41 607.50,274.36 607.75,269.46 608.00,265.11 608.25,263.46 608.50,264.13 608.75,268.89 609.00,269.50 609.25,268.74 609.50,269.79 609.75,266.27 610.00,265.76 610.25,265.42 610.50,267.27 610.75,270.03 611.00,273.02 611.25,272.60 611.50,270.74 611.75,268.42 612.00,267.28 612.25,268.81 612.50,267.96 612.75,267.16 613.00,266.92 613.25,267.95 613.50,266.11 613.75,256.99 614.00,252.37 614.25,257.07 614.50,266.25 614.75,272.04 615.00,271.71 615.25,271.09 615.50,268.03 615.75,265.54 616.00,266.93 616.25,271.80 616.50,277.40 616.75,273.29 617.00,269.17 617.25,268.24 617.50,271.56 617.75,273.05 618.00,273.06 618.25,271.87 618.50,271.19 618.75,268.64 619.00,267.77 619.25,269.17 619.50,270.09 619.75,269.70 620.00,266.81 620.25,265.82 620.50,267.56 620.75,270.90 621.00,272.14 621.25,272.11 621.50,270.93 621.75,269.59 622.00,269.57 622.25,270.87 622.50,272.41 622.75,273.08 623.00,273.00 623.25,272.94 623.50,273.44 623.75,273.64 624.00,274.50 624.25,274.72 624.50,273.90 624.75,273.28 625.00,273.20 625.25,274.20 625.50,275.33 625.75,274.53 626.00,274.37 626.25,274.48 626.50,276.14 626.75,277.40 627.00,277.40 627.25,277.40 627.50,277.40 627.75,277.40 628.00,277.40 628.25,277.40 628.50,277.40 628.75,277.40 629.00,277.40 629.25,277.40 629.50,277.40 629.75,277.40 630.00,277.40 630.25,277.38 630.50,277.29 630.75,276.96 631.00,276.36 631.25,275.92 631.50,276.13 631.75,276.74 632.00,277.20 632.25,277.36 632.50,277.40 632.75,277.40 633.00,277.40 633.25,277.40 633.50,277.40 633.75,277.40 634.00,277.40 634.25,277.40 634.50,277.40 634.75,277.40 635.00,277.40 635.25,277.40 635.50,277.40 635.75,277.40 636.00,277.12 636.25,275.37 636.50,272.51 636.75,271.65 637.00,272.27 637.25,270.78 637.50,271.15 637.75,272.28 638.00,271.59 638.25,272.39 638.50,271.10 638.75,271.12 639.00,272.16 639.25,272.54 639.50,273.50 639.75,274.19 640.00,274.46 640.25,274.37 640.50,274.27 640.75,274.41 641.00,273.22 641.25,274.79 641.50,276.38 641.75,277.40 642.00,277.40 642.25,277.40 642.50,277.40 642.75,277.40 643.00,277.40 643.25,277.40 643.50,277.40 643.75,277.40 644.00,277.40 644.25,277.40 644.50,277.02 644.75,275.92 645.00,275.06 645.25,273.95 645.50,275.55 645.75,274.68 646.00,274.01 646.25,273.42 646.50,272.77 646.75,272.99 647.00,273.81 647.25,274.50 647.50,275.36 647.75,275.72 648.00,275.51 648.25,274.57 648.50,273.30 648.75,273.08 649.00,272.86 649.25,273.70 649.50,273.99 649.75,273.60 650.00,274.17 650.25,273.36 650.50,273.20 650.75,271.08 651.00,273.02 651.25,271.08 651.50,268.77 651.75,267.95 652.00,267.95 652.25,267.95 652.50,267.95 652.75,269.25 653.00,270.27 653.25,269.89 653.50,269.95 653.75,270.28 654.00,271.02 654.25,272.28 654.50,273.13 654.75,273.00 655.00,272.01 655.25,270.97 655.50,270.43 655.75,271.40 656.00,272.24 656.25,272.36 656.50,271.96 656.75,272.57 657.00,270.81 657.25,273.19 657.50,273.11 657.75,271.39 658.00,269.93 658.25,269.68 658.50,268.28 658.75,269.33 659.00,272.20 659.25,272.92 659.50,273.76 659.75,272.87 660.00,271.60 660.25,270.03 660.50,268.28 660.75,268.00 661.00,268.87 661.25,267.99 661.50,274.11 661.75,274.40 662.00,271.01 662.25,272.10 662.50,271.58 662.75,272.24 663.00,272.05 663.25,271.76 663.50,270.81 663.75,270.91 664.00,272.50 664.25,273.20 664.50,272.19 664.75,271.53 665.00,272.02 665.25,273.67 665.50,274.69 665.75,274.69 666.00,273.90 666.25,271.40 666.50,273.03 666.75,271.47 667.00,271.67 667.25,271.20 667.50,269.97 667.75,271.41 668.00,269.19 668.25,267.95 668.50,267.95 668.75,267.95 669.00,270.86 669.25,275.18 669.25,277.40" fill="#2ba6dd" clip-path="url(#outBand)"/>
<polygon points="474.00,277.40 474.00,277.40 474.25,277.40 474.50,277.40 474.75,277.40 475.00,277.40 475.25,277.40 475.50,277.40 475.75,275.41 476.00,269.94 476.25,270.01 476.50,269.41 476.75,270.16 477.00,271.78 477.25,273.26 477.50,273.80 477.75,273.69 478.00,273.56 478.25,273.92 478.50,272.53 478.75,271.41 479.00,271.22 479.25,271.76 479.50,270.71 479.75,268.94 480.00,268.77 480.25,269.33 480.50,271.45 480.75,270.15 481.00,270.33 481.25,271.09 481.50,272.26 481.75,274.00 482.00,274.66 482.25,275.81 482.50,275.30 482.75,274.24 483.00,273.37 483.25,271.96 483.50,268.74 483.75,268.03 484.00,268.60 484.25,269.35 484.50,268.79 484.75,272.84 485.00,273.94 485.25,273.00 485.50,271.56 485.75,269.35 486.00,267.74 486.25,269.04 486.50,271.49 486.75,273.76 487.00,274.46 487.25,270.72 487.50,272.32 487.75,269.63 488.00,268.26 488.25,271.73 488.50,273.88 488.75,274.45 489.00,273.97 489.25,270.75 489.50,272.32 489.75,270.14 490.00,269.64 490.25,268.37 490.50,267.12 490.75,267.78 491.00,266.90 491.25,267.62 491.50,268.98 491.75,269.07 492.00,270.45 492.25,270.95 492.50,271.97 492.75,270.37 493.00,268.52 493.25,269.08 493.50,270.37 493.75,272.54 494.00,272.77 494.25,271.85 494.50,269.99 494.75,268.80 495.00,268.65 495.25,271.82 495.50,274.60 495.75,272.75 496.00,274.67 496.25,273.39 496.50,271.41 496.75,271.32 497.00,271.01 497.25,272.28 497.50,273.87 497.75,272.25 498.00,274.11 498.25,273.67 498.50,273.22 498.75,273.78 499.00,274.05 499.25,275.10 499.50,275.79 499.75,276.14 500.00,276.01 500.25,274.87 500.50,274.31 500.75,272.65 501.00,273.72 501.25,273.89 501.50,273.81 501.75,274.13 502.00,273.11 502.25,272.31 502.50,271.14 502.75,271.11 503.00,269.72 503.25,270.96 503.50,268.36 503.75,271.37 504.00,272.60 504.25,273.87 504.50,274.86 504.75,272.74 505.00,273.40 505.25,270.75 505.50,268.55 505.75,266.90 506.00,266.90 506.25,266.90 506.50,269.27 506.75,271.94 507.00,273.17 507.25,273.80 507.50,275.00 507.75,272.70 508.00,273.95 508.25,272.09 508.50,270.27 508.75,270.79 509.00,271.91 509.25,271.32 509.50,268.64 509.75,266.90 510.00,267.59 510.25,268.77 510.50,270.49 510.75,269.67 511.00,270.20 511.25,270.11 511.50,268.70 511.75,269.53 512.00,270.53 512.25,269.51 512.50,267.30 512.75,266.90 513.00,266.90 513.25,268.37 513.50,270.90 513.75,273.50 514.00,274.08 514.25,273.85 514.50,272.40 514.75,272.22 515.00,271.97 515.25,271.67 515.50,271.52 515.75,271.75 516.00,270.46 516.25,270.41 516.50,271.92 516.75,273.23 517.00,275.20 517.25,274.70 517.50,274.07 517.75,273.83 518.00,273.99 518.25,274.37 518.50,274.77 518.75,274.91 519.00,271.68 519.25,273.40 519.50,272.59 519.75,272.72 520.00,273.47 520.25,272.98 520.50,272.57 520.75,271.60 521.00,272.48 521.25,272.53 521.50,272.12 521.75,272.42 522.00,270.34 522.25,270.56 522.50,268.75 522.75,269.28 523.00,270.74 523.25,271.28 523.50,272.17 523.75,270.87 524.00,268.14 524.25,267.21 524.50,269.26 524.75,270.31 525.00,272.29 525.25,272.23 525.50,271.38 525.75,272.11 526.00,272.01 526.25,271.65 526.50,266.90 526.75,266.90 527.00,266.90 527.25,266.90 527.50,272.85 527.75,274.47 528.00,277.40 528.25,277.16 528.50,276.78 528.75,276.73 529.00,276.76 529.25,276.64 529.50,276.45 529.75,276.17 530.00,276.30 530.25,276.64 530.50,276.39 530.75,276.28 531.00,276.51 531.25,277.12 531.50,276.61 531.75,274.17 532.00,270.98 532.25,272.36 532.50,273.90 532.75,274.71 533.00,274.91 533.25,274.94 533.50,274.48 533.75,273.45 534.00,272.26 534.25,270.58 534.50,273.74 534.75,274.04 535.00,274.80 535.25,275.09 535.50,276.01 535.75,276.33 536.00,275.65 536.25,275.02 536.50,273.90 536.75,273.32 537.00,273.10 537.25,273.40 537.50,273.66 537.75,273.00 538.00,272.18 538.25,271.93 538.50,272.43 538.75,273.42 539.00,271.36 539.25,272.68 539.50,273.05 539.75,271.06 540.00,273.67 540.25,272.81 540.50,272.42 540.75,272.60 541.00,271.83 541.25,272.68 541.50,272.71 541.75,270.34 542.00,268.58 542.25,268.58 542.50,268.96 542.75,272.08 543.00,272.18 543.25,271.22 543.50,268.58 543.75,268.58 544.00,269.78 544.25,271.89 544.50,274.63 544.75,274.54 545.00,274.70 545.25,274.57 545.50,274.39 545.75,273.36 546.00,272.85 546.25,273.38 546.50,274.04 546.75,274.26 547.00,274.13 547.25,272.09 547.50,274.25 547.75,273.06 548.00,271.92 548.25,272.06 548.50,272.86 548.75,274.33 549.00,274.24 549.25,273.41 549.50,272.63 549.75,274.25 550.00,277.40 550.25,276.62 550.50,275.75 550.75,275.82 551.00,276.16 551.25,276.25 551.50,276.20 551.75,276.47 552.00,276.97 552.25,277.28 552.50,277.38 552.75,277.40 553.00,277.40 553.25,277.40 553.50,277.40 553.75,277.40 554.00,277.40 554.25,277.40 554.50,277.40 554.75,277.40 555.00,277.40 555.25,277.40 555.50,277.40 555.75,277.40 556.00,277.39 556.25,277.32 556.50,277.11 556.75,276.78 557.00,276.60 557.25,276.78 557.50,277.11 557.75,277.32 558.00,277.39 558.25,277.40 558.50,277.40 558.75,277.40 559.00,277.39 559.25,277.32 559.50,277.11 559.75,276.78 560.00,276.60 560.25,276.78 560.50,277.11 560.75,277.32 561.00,277.39 561.25,277.40 561.50,277.40 561.75,277.40 562.00,277.40 562.25,277.40 562.50,277.40 562.75,277.40 563.00,277.40 563.25,277.40 563.50,277.40 563.75,277.40 564.00,277.40 564.25,277.40 564.50,277.40 564.75,277.40 565.00,277.40 565.25,277.40 565.50,277.40 565.75,277.40 566.00,277.40 566.25,277.40 566.50,277.38 566.75,277.30 567.00,277.04 567.25,276.63 567.50,276.40 567.75,276.63 568.00,277.04 568.25,277.30 568.50,277.38 568.75,277.40 569.00,277.40 569.25,277.40 569.50,277.40 569.75,277.40 570.00,276.91 570.25,274.58 570.50,272.02 570.75,271.59 571.00,271.65 571.25,272.18 571.50,272.69 571.75,271.68 572.00,273.38 572.25,272.62 572.50,272.86 572.75,273.92 573.00,274.65 573.25,275.71 573.50,274.23 573.75,273.16 574.00,270.37 574.25,269.42 574.50,268.26 574.75,269.68 575.00,272.68 575.25,273.88 575.50,274.18 575.75,274.99 576.00,273.10 576.25,272.07 576.50,271.99 576.75,272.29 577.00,273.22 577.25,272.13 577.50,271.12 577.75,270.49 578.00,270.60 578.25,270.90 578.50,271.33 578.75,272.06 579.00,271.31 579.25,270.43 579.50,272.17 579.75,272.48 580.00,272.90 580.25,272.88 580.50,273.57 580.75,273.54 581.00,271.85 581.25,270.71 581.50,269.42 581.75,269.42 582.00,269.42 582.25,269.88 582.50,272.38 582.75,271.04 583.00,271.24 583.25,272.01 583.50,269.67 583.75,274.07 584.00,274.28 584.25,274.55 584.50,274.28 584.75,272.37 585.00,271.31 585.25,269.72 585.50,271.73 585.75,272.23 586.00,269.67 586.25,269.42 586.50,271.34 586.75,273.22 587.00,275.29 587.25,275.27 587.50,274.56 587.75,273.98 588.00,273.98 588.25,272.24 588.50,272.01 588.75,274.50 589.00,275.22 589.25,275.66 589.50,275.50 589.75,275.22 590.00,274.44 590.25,273.40 590.50,272.39 590.75,272.51 591.00,273.38 591.25,274.50 591.50,275.36 591.75,275.82 592.00,275.62 592.25,275.31 592.50,274.96 592.75,274.57 593.00,274.32 593.25,273.89 593.50,273.98 593.75,274.33 594.00,274.13 594.25,272.97 594.50,270.64 594.75,271.43 595.00,271.81 595.25,272.99 595.50,273.90 595.75,273.90 596.00,273.18 596.25,272.75 596.50,272.28 596.75,272.05 597.00,272.08 597.25,271.18 597.50,270.87 597.75,271.29 598.00,271.62 598.25,272.66 598.50,272.79 598.75,272.25 599.00,271.79 599.25,272.24 599.50,273.55 599.75,275.27 600.00,276.35 600.25,275.85 600.50,274.70 600.75,273.83 601.00,271.14 601.25,273.40 601.50,274.08 601.75,273.33 602.00,274.87 602.25,275.95 602.50,277.40 602.75,275.22 603.00,270.34 603.25,266.78 603.50,265.45 603.75,264.86 604.00,266.45 604.25,266.64 604.50,263.56 604.75,267.42 605.00,264.05 605.25,265.43 605.50,265.37 605.75,258.77 606.00,256.30 606.25,260.16 606.50,262.70 606.75,263.14 607.00,267.47 607.25,270.41 607.50,274.36 607.75,269.46 608.00,265.11 608.25,263.46 608.50,264.13 608.75,268.89 609.00,269.50 609.25,268.74 609.50,269.79 609.75,266.27 610.00,265.76 610.25,265.42 610.50,267.27 610.75,270.03 611.00,273.02 611.25,272.60 611.50,270.74 611.75,268.42 612.00,267.28 612.25,268.81 612.50,267.96 612.75,267.16 613.00,266.92 613.25,267.95 613.50,266.11 613.75,256.99 614.00,252.37 614.25,257.07 614.50,266.25 614.75,272.04 615.00,271.71 615.25,271.09 615.50,268.03 615.75,265.54 616.00,266.93 616.25,271.80 616.50,277.40 616.75,273.29 617.00,269.17 617.25,268.24 617.50,271.56 617.75,273.05 618.00,273.06 618.25,271.87 618.50,271.19 618.75,268.64 619.00,267.77 619.25,269.17 619.50,270.09 619.75,269.70 620.00,266.81 620.25,265.82 620.50,267.56 620.75,270.90 621.00,272.14 621.25,272.11 621.50,270.93 621.75,269.59 622.00,269.57 622.25,270.87 622.50,272.41 622.75,273.08 623.00,273.00 623.25,272.94 623.50,273.44 623.75,273.64 624.00,274.50 624.25,274.72 624.50,273.90 624.75,273.28 625.00,273.20 625.25,274.20 625.50,275.33 625.75,274.53 626.00,274.37 626.25,274.48 626.50,276.14 626.75,277.40 627.00,277.40 627.25,277.40 627.50,277.40 627.75,277.40 628.00,277.40 628.25,277.40 628.50,277.40 628.75,277.40 629.00,277.40 629.25,277.40 629.50,277.40 629.75,277.40 630.00,277.40 630.25,277.38 630.50,277.29 630.75,276.96 631.00,276.36 631.25,275.92 631.50,276.13 631.75,276.74 632.00,277.20 632.25,277.36 632.50,277.40 632.75,277.40 633.00,277.40 633.25,277.40 633.50,277.40 633.75,277.40 634.00,277.40 634.25,277.40 634.50,277.40 634.75,277.40 635.00,277.40 635.25,277.40 635.50,277.40 635.75,277.40 636.00,277.12 636.25,275.37 636.50,272.51 636.75,271.65 637.00,272.27 637.25,270.78 637.50,271.15 637.75,272.28 638.00,271.59 638.25,272.39 638.50,271.10 638.75,271.12 639.00,272.16 639.25,272.54 639.50,273.50 639.75,274.19 640.00,274.46 640.25,274.37 640.50,274.27 640.75,274.41 641.00,273.22 641.25,274.79 641.50,276.38 641.75,277.40 642.00,277.40 642.25,277.40 642.50,277.40 642.75,277.40 643.00,277.40 643.25,277.40 643.50,277.40 643.75,277.40 644.00,277.40 644.25,277.40 644.50,277.02 644.75,275.92 645.00,275.06 645.25,273.95 645.50,275.55 645.75,274.68 646.00,274.01 646.25,273.42 646.50,272.77 646.75,272.99 647.00,273.81 647.25,274.50 647.50,275.36 647.75,275.72 648.00,275.51 648.25,274.57 648.50,273.30 648.75,273.08 649.00,272.86 649.25,273.70 649.50,273.99 649.75,273.60 650.00,274.17 650.25,273.36 650.50,273.20 650.75,271.08 651.00,273.02 651.25,271.08 651.50,268.77 651.75,267.95 652.00,267.95 652.25,267.95 652.50,267.95 652.75,269.25 653.00,270.27 653.25,269.89 653.50,269.95 653.75,270.28 654.00,271.02 654.25,272.28 654.50,273.13 654.75,273.00 655.00,272.01 655.25,270.97 655.50,270.43 655.75,271.40 656.00,272.24 656.25,272.36 656.50,271.96 656.75,272.57 657.00,270.81 657.25,273.19 657.50,273.11 657.75,271.39 658.00,269.93 658.25,269.68 658.50,268.28 658.75,269.33 659.00,272.20 659.25,272.92 659.50,273.76 659.75,272.87 660.00,271.60 660.25,270.03 660.50,268.28 660.75,268.00 661.00,268.87 661.25,267.99 661.50,274.11 661.75,274.40 662.00,271.01 662.25,272.10 662.50,271.58 662.75,272.24 663.00,272.05 663.25,271.76 663.50,270.81 663.75,270.91 664.00,272.50 664.25,273.20 664.50,272.19 664.75,271.53 665.00,272.02 665.25,273.67 665.50,274.69 665.75,274.69 666.00,273.90 666.25,271.40 666.50,273.03 666.75,271.47 667.00,271.67 667.25,271.20 667.50,269.97 667.75,271.41 668.00,269.19 668.25,267.95 668.50,267.95 668.75,267.95 669.00,270.86 669.25,275.18 669.25,277.40" fill="#a8cce8" clip-path="url(#inBand)"/>
<line x1="474.00" y1="277.40" x2="602.50" y2="277.40" stroke="#2ba6dd" stroke-width="0.6"/>
<line x1="602.50" y1="277.40" x2="616.40" y2="277.40" stroke="#a8cce8" stroke-width="0.6"/>
<line x1="616.40" y1="277.40" x2="669.50" y2="277.40" stroke="#2ba6dd" stroke-width="0.6"/>
<polygon points="474.00,309.60 474.00,309.60 474.25,309.60 474.50,309.60 474.75,309.60 475.00,309.60 475.25,309.60 475.50,309.60 475.75,309.09 476.00,308.27 476.25,307.79 476.50,307.23 476.75,306.82 477.00,306.04 477.25,305.95 477.50,306.12 477.75,307.46 478.00,308.81 478.25,308.62 478.50,308.50 478.75,308.52 479.00,307.79 479.25,307.61 479.50,307.26 479.75,307.24 480.00,307.56 480.25,307.14 480.50,307.61 480.75,306.99 481.00,307.15 481.25,304.49 481.50,301.67 481.75,298.46 482.00,295.63 482.25,296.39 482.50,298.52 482.75,302.04 483.00,305.07 483.25,307.18 483.50,307.01 483.75,306.83 484.00,306.88 484.25,307.08 484.50,307.26 484.75,307.64 485.00,307.44 485.25,307.55 485.50,302.12 485.75,293.30 486.00,291.13 486.25,299.91 486.50,306.98 486.75,306.29 487.00,306.31 487.25,307.18 487.50,307.97 487.75,308.41 488.00,308.40 488.25,308.66 488.50,308.69 488.75,308.56 489.00,308.57 489.25,308.26 489.50,308.01 489.75,307.29 490.00,306.75 490.25,306.86 490.50,307.32 490.75,307.64 491.00,307.39 491.25,307.77 491.50,307.75 491.75,308.11 492.00,308.62 492.25,308.68 492.50,308.58 492.75,308.72 493.00,309.02 493.25,308.90 493.50,307.17 493.75,308.29 494.00,307.51 494.25,308.68 494.50,308.70 494.75,308.56 495.00,308.42 495.25,307.94 495.50,307.63 495.75,307.02 496.00,307.00 496.25,307.55 496.50,308.13 496.75,308.61 497.00,308.20 497.25,306.86 497.50,306.39 497.75,306.93 498.00,307.44 498.25,308.04 498.50,308.87 498.75,308.70 499.00,308.54 499.25,307.85 499.50,307.61 499.75,307.10 500.00,307.23 500.25,306.35 500.50,308.08 500.75,308.74 501.00,308.40 501.25,308.12 501.50,307.84 501.75,308.09 502.00,308.17 502.25,307.71 502.50,307.02 502.75,306.75 503.00,307.32 503.25,307.95 503.50,308.15 503.75,307.95 504.00,307.90 504.25,308.31 504.50,308.85 504.75,309.10 505.00,307.63 505.25,308.36 505.50,307.75 505.75,307.32 506.00,306.84 506.25,307.22 506.50,306.21 506.75,307.42 507.00,306.43 507.25,306.80 507.50,308.35 507.75,308.14 508.00,306.62 508.25,307.45 508.50,307.50 508.75,307.78 509.00,307.66 509.25,307.69 509.50,306.05 509.75,306.91 510.00,306.95 510.25,306.34 510.50,305.47 510.75,304.75 511.00,304.38 511.25,303.77 511.50,303.65 511.75,304.06 512.00,304.54 512.25,304.92 512.50,305.75 512.75,304.65 513.00,293.83 513.25,284.53 513.50,288.83 513.75,301.09 514.00,304.95 514.25,307.25 514.50,307.97 514.75,308.05 515.00,308.10 515.25,308.03 515.50,308.05 515.75,307.94 516.00,307.87 516.25,308.32 516.50,308.62 516.75,308.35 517.00,307.65 517.25,307.43 517.50,306.09 517.75,307.73 518.00,308.19 518.25,308.06 518.50,308.30 518.75,306.56 519.00,307.56 519.25,308.01 519.50,308.35 519.75,308.53 520.00,308.57 520.25,308.40 520.50,308.31 520.75,308.34 521.00,304.64 521.25,299.40 521.50,295.97 521.75,299.85 522.00,305.08 522.25,307.15 522.50,306.91 522.75,306.09 523.00,308.10 523.25,307.25 523.50,305.82 523.75,305.82 524.00,305.82 524.25,306.31 524.50,306.46 524.75,306.95 525.00,307.46 525.25,307.79 525.50,306.79 525.75,307.68 526.00,306.86 526.25,306.53 526.50,306.62 526.75,306.50 527.00,307.11 527.25,306.52 527.50,306.45 527.75,308.03 528.00,309.06 528.25,309.33 528.50,309.46 528.75,309.51 529.00,309.29 529.25,308.98 529.50,308.97 529.75,308.97 530.00,309.13 530.25,309.10 530.50,309.26 530.75,309.17 531.00,309.31 531.25,309.51 531.50,309.36 531.75,308.18 532.00,306.77 532.25,306.11 532.50,306.30 532.75,306.48 533.00,307.31 533.25,308.67 533.50,308.31 533.75,308.05 534.00,307.75 534.25,306.53 534.50,308.40 534.75,308.12 535.00,308.54 535.25,307.08 535.50,307.77 535.75,307.00 536.00,305.64 536.25,305.40 536.50,305.94 536.75,305.54 537.00,301.76 537.25,298.73 537.50,299.67 537.75,303.57 538.00,306.00 538.25,306.43 538.50,307.26 538.75,306.95 539.00,306.99 539.25,306.56 539.50,306.10 539.75,305.87 540.00,305.77 540.25,305.77 540.50,306.07 540.75,306.33 541.00,306.94 541.25,307.28 541.50,307.87 541.75,307.27 542.00,306.87 542.25,306.90 542.50,307.63 542.75,307.76 543.00,308.07 543.25,307.81 543.50,307.36 543.75,307.44 544.00,307.39 544.25,307.54 544.50,307.68 544.75,307.69 545.00,307.94 545.25,307.91 545.50,307.46 545.75,306.62 546.00,306.11 546.25,305.65 546.50,305.48 546.75,305.40 547.00,305.40 547.25,306.21 547.50,306.64 547.75,306.51 548.00,306.44 548.25,307.17 548.50,307.09 548.75,306.73 549.00,306.30 549.25,306.55 549.50,308.05 549.75,308.91 550.00,309.59 550.25,309.52 550.50,309.31 550.75,308.98 551.00,308.80 551.25,308.98 551.50,309.31 551.75,309.52 552.00,309.59 552.25,309.60 552.50,309.60 552.75,309.60 553.00,309.60 553.25,309.60 553.50,309.60 553.75,309.60 554.00,309.60 554.25,309.60 554.50,309.60 554.75,309.60 555.00,309.60 555.25,309.60 555.50,309.60 555.75,309.60 556.00,309.59 556.25,309.54 556.50,309.38 556.75,309.14 557.00,309.00 557.25,309.14 557.50,309.38 557.75,309.54 558.00,309.59 558.25,309.54 558.50,309.38 558.75,309.14 559.00,309.00 559.25,309.14 559.50,309.38 559.75,309.54 560.00,309.59 560.25,309.60 560.50,309.60 560.75,309.60 561.00,309.60 561.25,309.60 561.50,309.60 561.75,309.60 562.00,309.60 562.25,309.60 562.50,309.60 562.75,309.60 563.00,309.60 563.25,309.60 563.50,309.60 563.75,309.60 564.00,309.60 564.25,309.60 564.50,309.60 564.75,309.60 565.00,309.60 565.25,309.60 565.50,309.60 565.75,309.60 566.00,309.60 566.25,309.60 566.50,309.60 566.75,309.60 567.00,309.60 567.25,309.60 567.50,309.60 567.75,309.60 568.00,309.60 568.25,309.60 568.50,309.60 568.75,309.52 569.00,309.27 569.25,308.06 569.50,307.58 569.75,306.99 570.00,305.39 570.25,306.43 570.50,306.11 570.75,305.79 571.00,305.76 571.25,306.45 571.50,306.36 571.75,306.96 572.00,306.86 572.25,306.80 572.50,307.06 572.75,306.38 573.00,306.22 573.25,306.50 573.50,307.57 573.75,308.30 574.00,308.35 574.25,306.83 574.50,305.86 574.75,306.14 575.00,306.34 575.25,307.04 575.50,306.70 575.75,306.55 576.00,307.06 576.25,307.39 576.50,306.75 576.75,305.40 577.00,305.40 577.25,305.83 577.50,306.94 577.75,308.05 578.00,307.73 578.25,307.67 578.50,307.53 578.75,307.63 579.00,307.89 579.25,307.74 579.50,308.09 579.75,308.14 580.00,308.44 580.25,308.92 580.50,308.93 580.75,308.72 581.00,308.30 581.25,306.97 581.50,305.53 581.75,305.40 582.00,305.47 582.25,306.07 582.50,306.72 582.75,304.25 583.00,306.03 583.25,305.40 583.50,305.40 583.75,304.57 584.00,304.30 584.25,305.04 584.50,306.47 584.75,306.73 585.00,306.36 585.25,306.64 585.50,306.99 585.75,306.75 586.00,305.75 586.25,305.40 586.50,305.65 586.75,306.80 587.00,306.20 587.25,308.03 587.50,308.01 587.75,307.92 588.00,308.02 588.25,307.50 588.50,306.57 588.75,305.91 589.00,305.23 589.25,305.00 589.50,304.86 589.75,305.16 590.00,305.47 590.25,306.04 590.50,306.73 590.75,307.38 591.00,308.08 591.25,307.83 591.50,307.57 591.75,307.52 592.00,307.95 592.25,307.52 592.50,308.26 592.75,308.57 593.00,308.66 593.25,308.71 593.50,308.37 593.75,307.57 594.00,307.15 594.25,307.15 594.50,307.63 594.75,307.29 595.00,307.35 595.25,307.28 595.50,307.45 595.75,306.50 596.00,306.14 596.25,308.02 596.50,308.05 596.75,307.85 597.00,307.15 597.25,307.05 597.50,307.40 597.75,306.61 598.00,308.13 598.25,307.71 598.50,307.69 598.75,307.91 599.00,307.85 599.25,307.83 599.50,307.48 599.75,306.93 600.00,306.82 600.25,307.13 600.50,307.00 600.75,306.42 601.00,305.40 601.25,305.41 601.50,306.01 601.75,306.78 602.00,307.71 602.25,308.62 602.50,309.60 602.75,309.00 603.00,308.09 603.25,307.49 603.50,306.25 603.75,305.96 604.00,304.84 604.25,306.32 604.50,306.60 604.75,305.31 605.00,306.03 605.25,304.80 605.50,298.87 605.75,291.50 606.00,289.89 606.25,291.76 606.50,298.71 606.75,304.68 607.00,305.29 607.25,305.64 607.50,306.49 607.75,307.56 608.00,308.14 608.25,307.71 608.50,307.61 608.75,306.26 609.00,305.89 609.25,306.04 609.50,305.63 609.75,307.05 610.00,306.65 610.25,306.69 610.50,306.46 610.75,306.91 611.00,307.03 611.25,306.25 611.50,304.88 611.75,304.57 612.00,304.22 612.25,304.33 612.50,304.59 612.75,305.84 613.00,306.76 613.25,304.68 613.50,305.46 613.75,302.79 614.00,300.63 614.25,302.40 614.50,305.71 614.75,308.01 615.00,308.38 615.25,307.67 615.50,307.03 615.75,306.67 616.00,306.80 616.25,307.97 616.50,309.60 616.75,309.60 617.00,309.08 617.25,308.08 617.50,306.20 617.75,305.42 618.00,305.88 618.25,305.98 618.50,306.81 618.75,306.99 619.00,306.72 619.25,306.27 619.50,305.75 619.75,304.55 620.00,302.84 620.25,302.55 620.50,303.48 620.75,305.71 621.00,307.61 621.25,307.76 621.50,307.65 621.75,307.82 622.00,307.42 622.25,307.79 622.50,308.32 622.75,308.55 623.00,307.81 623.25,308.21 623.50,306.61 623.75,306.56 624.00,305.76 624.25,304.78 624.50,304.35 624.75,305.31 625.00,307.26 625.25,305.37 625.50,302.79 625.75,302.02 626.00,303.83 626.25,306.58 626.50,308.55 626.75,309.35 627.00,309.56 627.25,309.60 627.50,309.60 627.75,309.60 628.00,309.60 628.25,309.60 628.50,309.60 628.75,309.60 629.00,309.60 629.25,309.60 629.50,309.60 629.75,309.59 630.00,309.54 630.25,309.37 630.50,309.05 630.75,308.81 631.00,308.92 631.25,309.25 631.50,309.49 631.75,309.58 632.00,309.60 632.25,309.60 632.50,309.60 632.75,309.60 633.00,309.60 633.25,309.60 633.50,309.60 633.75,309.60 634.00,309.60 634.25,309.60 634.50,309.60 634.75,309.60 635.00,309.60 635.25,309.60 635.50,309.60 635.75,309.60 636.00,309.60 636.25,309.60 636.50,309.60 636.75,309.60 637.00,309.60 637.25,308.70 637.50,306.98 637.75,306.45 638.00,306.76 638.25,307.51 638.50,308.18 638.75,308.69 639.00,309.60 639.25,309.60 639.50,309.60 639.75,309.60 640.00,309.60 640.25,309.57 640.50,309.44 640.75,309.07 641.00,308.58 641.25,308.41 641.50,308.77 641.75,309.25 642.00,309.51 642.25,309.59 642.50,309.60 642.75,309.60 643.00,309.60 643.25,309.60 643.50,309.60 643.75,309.60 644.00,309.60 644.25,309.60 644.50,309.60 644.75,309.60 645.00,309.60 645.25,309.60 645.50,309.60 645.75,309.47 646.00,308.14 646.25,304.98 646.50,302.60 646.75,304.85 647.00,303.54 647.25,305.52 647.50,306.00 647.75,304.80 648.00,304.35 648.25,304.72 648.50,306.04 648.75,307.17 649.00,308.30 649.25,308.04 649.50,308.08 649.75,307.73 650.00,306.45 650.25,307.96 650.50,307.99 650.75,306.36 651.00,306.18 651.25,307.45 651.50,307.22 651.75,307.27 652.00,306.74 652.25,306.10 652.50,305.20 652.75,304.75 653.00,305.10 653.25,306.04 653.50,307.08 653.75,306.66 654.00,306.19 654.25,306.04 654.50,306.58 654.75,306.87 655.00,305.45 655.25,306.68 655.50,305.94 655.75,306.00 656.00,305.21 656.25,306.07 656.50,306.76 656.75,307.28 657.00,308.25 657.25,308.10 657.50,308.40 657.75,308.20 658.00,307.76 658.25,305.66 658.50,307.42 658.75,307.13 659.00,306.10 659.25,305.18 659.50,304.50 659.75,304.83 660.00,305.73 660.25,306.83 660.50,307.57 660.75,307.28 661.00,307.12 661.25,307.11 661.50,306.73 661.75,306.22 662.00,305.97 662.25,306.43 662.50,307.65 662.75,308.37 663.00,306.72 663.25,308.14 663.50,307.80 663.75,306.08 664.00,306.89 664.25,307.16 664.50,308.05 664.75,308.39 665.00,307.34 665.25,306.81 665.50,306.35 665.75,305.31 666.00,304.37 666.25,303.72 666.50,303.80 666.75,305.69 667.00,305.33 667.25,307.60 667.50,307.37 667.75,307.66 668.00,307.80 668.25,307.28 668.50,307.41 668.75,307.38 669.00,308.05 669.25,308.68 669.25,309.60" fill="#4ab6e6" clip-path="url(#outBand)"/>
<polygon points="474.00,309.60 474.00,309.60 474.25,309.60 474.50,309.60 474.75,309.60 475.00,309.60 475.25,309.60 475.50,309.60 475.75,309.09 476.00,308.27 476.25,307.79 476.50,307.23 476.75,306.82 477.00,306.04 477.25,305.95 477.50,306.12 477.75,307.46 478.00,308.81 478.25,308.62 478.50,308.50 478.75,308.52 479.00,307.79 479.25,307.61 479.50,307.26 479.75,307.24 480.00,307.56 480.25,307.14 480.50,307.61 480.75,306.99 481.00,307.15 481.25,304.49 481.50,301.67 481.75,298.46 482.00,295.63 482.25,296.39 482.50,298.52 482.75,302.04 483.00,305.07 483.25,307.18 483.50,307.01 483.75,306.83 484.00,306.88 484.25,307.08 484.50,307.26 484.75,307.64 485.00,307.44 485.25,307.55 485.50,302.12 485.75,293.30 486.00,291.13 486.25,299.91 486.50,306.98 486.75,306.29 487.00,306.31 487.25,307.18 487.50,307.97 487.75,308.41 488.00,308.40 488.25,308.66 488.50,308.69 488.75,308.56 489.00,308.57 489.25,308.26 489.50,308.01 489.75,307.29 490.00,306.75 490.25,306.86 490.50,307.32 490.75,307.64 491.00,307.39 491.25,307.77 491.50,307.75 491.75,308.11 492.00,308.62 492.25,308.68 492.50,308.58 492.75,308.72 493.00,309.02 493.25,308.90 493.50,307.17 493.75,308.29 494.00,307.51 494.25,308.68 494.50,308.70 494.75,308.56 495.00,308.42 495.25,307.94 495.50,307.63 495.75,307.02 496.00,307.00 496.25,307.55 496.50,308.13 496.75,308.61 497.00,308.20 497.25,306.86 497.50,306.39 497.75,306.93 498.00,307.44 498.25,308.04 498.50,308.87 498.75,308.70 499.00,308.54 499.25,307.85 499.50,307.61 499.75,307.10 500.00,307.23 500.25,306.35 500.50,308.08 500.75,308.74 501.00,308.40 501.25,308.12 501.50,307.84 501.75,308.09 502.00,308.17 502.25,307.71 502.50,307.02 502.75,306.75 503.00,307.32 503.25,307.95 503.50,308.15 503.75,307.95 504.00,307.90 504.25,308.31 504.50,308.85 504.75,309.10 505.00,307.63 505.25,308.36 505.50,307.75 505.75,307.32 506.00,306.84 506.25,307.22 506.50,306.21 506.75,307.42 507.00,306.43 507.25,306.80 507.50,308.35 507.75,308.14 508.00,306.62 508.25,307.45 508.50,307.50 508.75,307.78 509.00,307.66 509.25,307.69 509.50,306.05 509.75,306.91 510.00,306.95 510.25,306.34 510.50,305.47 510.75,304.75 511.00,304.38 511.25,303.77 511.50,303.65 511.75,304.06 512.00,304.54 512.25,304.92 512.50,305.75 512.75,304.65 513.00,293.83 513.25,284.53 513.50,288.83 513.75,301.09 514.00,304.95 514.25,307.25 514.50,307.97 514.75,308.05 515.00,308.10 515.25,308.03 515.50,308.05 515.75,307.94 516.00,307.87 516.25,308.32 516.50,308.62 516.75,308.35 517.00,307.65 517.25,307.43 517.50,306.09 517.75,307.73 518.00,308.19 518.25,308.06 518.50,308.30 518.75,306.56 519.00,307.56 519.25,308.01 519.50,308.35 519.75,308.53 520.00,308.57 520.25,308.40 520.50,308.31 520.75,308.34 521.00,304.64 521.25,299.40 521.50,295.97 521.75,299.85 522.00,305.08 522.25,307.15 522.50,306.91 522.75,306.09 523.00,308.10 523.25,307.25 523.50,305.82 523.75,305.82 524.00,305.82 524.25,306.31 524.50,306.46 524.75,306.95 525.00,307.46 525.25,307.79 525.50,306.79 525.75,307.68 526.00,306.86 526.25,306.53 526.50,306.62 526.75,306.50 527.00,307.11 527.25,306.52 527.50,306.45 527.75,308.03 528.00,309.06 528.25,309.33 528.50,309.46 528.75,309.51 529.00,309.29 529.25,308.98 529.50,308.97 529.75,308.97 530.00,309.13 530.25,309.10 530.50,309.26 530.75,309.17 531.00,309.31 531.25,309.51 531.50,309.36 531.75,308.18 532.00,306.77 532.25,306.11 532.50,306.30 532.75,306.48 533.00,307.31 533.25,308.67 533.50,308.31 533.75,308.05 534.00,307.75 534.25,306.53 534.50,308.40 534.75,308.12 535.00,308.54 535.25,307.08 535.50,307.77 535.75,307.00 536.00,305.64 536.25,305.40 536.50,305.94 536.75,305.54 537.00,301.76 537.25,298.73 537.50,299.67 537.75,303.57 538.00,306.00 538.25,306.43 538.50,307.26 538.75,306.95 539.00,306.99 539.25,306.56 539.50,306.10 539.75,305.87 540.00,305.77 540.25,305.77 540.50,306.07 540.75,306.33 541.00,306.94 541.25,307.28 541.50,307.87 541.75,307.27 542.00,306.87 542.25,306.90 542.50,307.63 542.75,307.76 543.00,308.07 543.25,307.81 543.50,307.36 543.75,307.44 544.00,307.39 544.25,307.54 544.50,307.68 544.75,307.69 545.00,307.94 545.25,307.91 545.50,307.46 545.75,306.62 546.00,306.11 546.25,305.65 546.50,305.48 546.75,305.40 547.00,305.40 547.25,306.21 547.50,306.64 547.75,306.51 548.00,306.44 548.25,307.17 548.50,307.09 548.75,306.73 549.00,306.30 549.25,306.55 549.50,308.05 549.75,308.91 550.00,309.59 550.25,309.52 550.50,309.31 550.75,308.98 551.00,308.80 551.25,308.98 551.50,309.31 551.75,309.52 552.00,309.59 552.25,309.60 552.50,309.60 552.75,309.60 553.00,309.60 553.25,309.60 553.50,309.60 553.75,309.60 554.00,309.60 554.25,309.60 554.50,309.60 554.75,309.60 555.00,309.60 555.25,309.60 555.50,309.60 555.75,309.60 556.00,309.59 556.25,309.54 556.50,309.38 556.75,309.14 557.00,309.00 557.25,309.14 557.50,309.38 557.75,309.54 558.00,309.59 558.25,309.54 558.50,309.38 558.75,309.14 559.00,309.00 559.25,309.14 559.50,309.38 559.75,309.54 560.00,309.59 560.25,309.60 560.50,309.60 560.75,309.60 561.00,309.60 561.25,309.60 561.50,309.60 561.75,309.60 562.00,309.60 562.25,309.60 562.50,309.60 562.75,309.60 563.00,309.60 563.25,309.60 563.50,309.60 563.75,309.60 564.00,309.60 564.25,309.60 564.50,309.60 564.75,309.60 565.00,309.60 565.25,309.60 565.50,309.60 565.75,309.60 566.00,309.60 566.25,309.60 566.50,309.60 566.75,309.60 567.00,309.60 567.25,309.60 567.50,309.60 567.75,309.60 568.00,309.60 568.25,309.60 568.50,309.60 568.75,309.52 569.00,309.27 569.25,308.06 569.50,307.58 569.75,306.99 570.00,305.39 570.25,306.43 570.50,306.11 570.75,305.79 571.00,305.76 571.25,306.45 571.50,306.36 571.75,306.96 572.00,306.86 572.25,306.80 572.50,307.06 572.75,306.38 573.00,306.22 573.25,306.50 573.50,307.57 573.75,308.30 574.00,308.35 574.25,306.83 574.50,305.86 574.75,306.14 575.00,306.34 575.25,307.04 575.50,306.70 575.75,306.55 576.00,307.06 576.25,307.39 576.50,306.75 576.75,305.40 577.00,305.40 577.25,305.83 577.50,306.94 577.75,308.05 578.00,307.73 578.25,307.67 578.50,307.53 578.75,307.63 579.00,307.89 579.25,307.74 579.50,308.09 579.75,308.14 580.00,308.44 580.25,308.92 580.50,308.93 580.75,308.72 581.00,308.30 581.25,306.97 581.50,305.53 581.75,305.40 582.00,305.47 582.25,306.07 582.50,306.72 582.75,304.25 583.00,306.03 583.25,305.40 583.50,305.40 583.75,304.57 584.00,304.30 584.25,305.04 584.50,306.47 584.75,306.73 585.00,306.36 585.25,306.64 585.50,306.99 585.75,306.75 586.00,305.75 586.25,305.40 586.50,305.65 586.75,306.80 587.00,306.20 587.25,308.03 587.50,308.01 587.75,307.92 588.00,308.02 588.25,307.50 588.50,306.57 588.75,305.91 589.00,305.23 589.25,305.00 589.50,304.86 589.75,305.16 590.00,305.47 590.25,306.04 590.50,306.73 590.75,307.38 591.00,308.08 591.25,307.83 591.50,307.57 591.75,307.52 592.00,307.95 592.25,307.52 592.50,308.26 592.75,308.57 593.00,308.66 593.25,308.71 593.50,308.37 593.75,307.57 594.00,307.15 594.25,307.15 594.50,307.63 594.75,307.29 595.00,307.35 595.25,307.28 595.50,307.45 595.75,306.50 596.00,306.14 596.25,308.02 596.50,308.05 596.75,307.85 597.00,307.15 597.25,307.05 597.50,307.40 597.75,306.61 598.00,308.13 598.25,307.71 598.50,307.69 598.75,307.91 599.00,307.85 599.25,307.83 599.50,307.48 599.75,306.93 600.00,306.82 600.25,307.13 600.50,307.00 600.75,306.42 601.00,305.40 601.25,305.41 601.50,306.01 601.75,306.78 602.00,307.71 602.25,308.62 602.50,309.60 602.75,309.00 603.00,308.09 603.25,307.49 603.50,306.25 603.75,305.96 604.00,304.84 604.25,306.32 604.50,306.60 604.75,305.31 605.00,306.03 605.25,304.80 605.50,298.87 605.75,291.50 606.00,289.89 606.25,291.76 606.50,298.71 606.75,304.68 607.00,305.29 607.25,305.64 607.50,306.49 607.75,307.56 608.00,308.14 608.25,307.71 608.50,307.61 608.75,306.26 609.00,305.89 609.25,306.04 609.50,305.63 609.75,307.05 610.00,306.65 610.25,306.69 610.50,306.46 610.75,306.91 611.00,307.03 611.25,306.25 611.50,304.88 611.75,304.57 612.00,304.22 612.25,304.33 612.50,304.59 612.75,305.84 613.00,306.76 613.25,304.68 613.50,305.46 613.75,302.79 614.00,300.63 614.25,302.40 614.50,305.71 614.75,308.01 615.00,308.38 615.25,307.67 615.50,307.03 615.75,306.67 616.00,306.80 616.25,307.97 616.50,309.60 616.75,309.60 617.00,309.08 617.25,308.08 617.50,306.20 617.75,305.42 618.00,305.88 618.25,305.98 618.50,306.81 618.75,306.99 619.00,306.72 619.25,306.27 619.50,305.75 619.75,304.55 620.00,302.84 620.25,302.55 620.50,303.48 620.75,305.71 621.00,307.61 621.25,307.76 621.50,307.65 621.75,307.82 622.00,307.42 622.25,307.79 622.50,308.32 622.75,308.55 623.00,307.81 623.25,308.21 623.50,306.61 623.75,306.56 624.00,305.76 624.25,304.78 624.50,304.35 624.75,305.31 625.00,307.26 625.25,305.37 625.50,302.79 625.75,302.02 626.00,303.83 626.25,306.58 626.50,308.55 626.75,309.35 627.00,309.56 627.25,309.60 627.50,309.60 627.75,309.60 628.00,309.60 628.25,309.60 628.50,309.60 628.75,309.60 629.00,309.60 629.25,309.60 629.50,309.60 629.75,309.59 630.00,309.54 630.25,309.37 630.50,309.05 630.75,308.81 631.00,308.92 631.25,309.25 631.50,309.49 631.75,309.58 632.00,309.60 632.25,309.60 632.50,309.60 632.75,309.60 633.00,309.60 633.25,309.60 633.50,309.60 633.75,309.60 634.00,309.60 634.25,309.60 634.50,309.60 634.75,309.60 635.00,309.60 635.25,309.60 635.50,309.60 635.75,309.60 636.00,309.60 636.25,309.60 636.50,309.60 636.75,309.60 637.00,309.60 637.25,308.70 637.50,306.98 637.75,306.45 638.00,306.76 638.25,307.51 638.50,308.18 638.75,308.69 639.00,309.60 639.25,309.60 639.50,309.60 639.75,309.60 640.00,309.60 640.25,309.57 640.50,309.44 640.75,309.07 641.00,308.58 641.25,308.41 641.50,308.77 641.75,309.25 642.00,309.51 642.25,309.59 642.50,309.60 642.75,309.60 643.00,309.60 643.25,309.60 643.50,309.60 643.75,309.60 644.00,309.60 644.25,309.60 644.50,309.60 644.75,309.60 645.00,309.60 645.25,309.60 645.50,309.60 645.75,309.47 646.00,308.14 646.25,304.98 646.50,302.60 646.75,304.85 647.00,303.54 647.25,305.52 647.50,306.00 647.75,304.80 648.00,304.35 648.25,304.72 648.50,306.04 648.75,307.17 649.00,308.30 649.25,308.04 649.50,308.08 649.75,307.73 650.00,306.45 650.25,307.96 650.50,307.99 650.75,306.36 651.00,306.18 651.25,307.45 651.50,307.22 651.75,307.27 652.00,306.74 652.25,306.10 652.50,305.20 652.75,304.75 653.00,305.10 653.25,306.04 653.50,307.08 653.75,306.66 654.00,306.19 654.25,306.04 654.50,306.58 654.75,306.87 655.00,305.45 655.25,306.68 655.50,305.94 655.75,306.00 656.00,305.21 656.25,306.07 656.50,306.76 656.75,307.28 657.00,308.25 657.25,308.10 657.50,308.40 657.75,308.20 658.00,307.76 658.25,305.66 658.50,307.42 658.75,307.13 659.00,306.10 659.25,305.18 659.50,304.50 659.75,304.83 660.00,305.73 660.25,306.83 660.50,307.57 660.75,307.28 661.00,307.12 661.25,307.11 661.50,306.73 661.75,306.22 662.00,305.97 662.25,306.43 662.50,307.65 662.75,308.37 663.00,306.72 663.25,308.14 663.50,307.80 663.75,306.08 664.00,306.89 664.25,307.16 664.50,308.05 664.75,308.39 665.00,307.34 665.25,306.81 665.50,306.35 665.75,305.31 666.00,304.37 666.25,303.72 666.50,303.80 666.75,305.69 667.00,305.33 667.25,307.60 667.50,307.37 667.75,307.66 668.00,307.80 668.25,307.28 668.50,307.41 668.75,307.38 669.00,308.05 669.25,308.68 669.25,309.60" fill="#b0d4ee" clip-path="url(#inBand)"/>
<line x1="474.00" y1="309.60" x2="602.50" y2="309.60" stroke="#4ab6e6" stroke-width="0.6"/>
<line x1="602.50" y1="309.60" x2="616.40" y2="309.60" stroke="#b0d4ee" stroke-width="0.6"/>
<line x1="616.40" y1="309.60" x2="669.50" y2="309.60" stroke="#4ab6e6" stroke-width="0.6"/>
<polygon points="474.0,340.90 474.0,340.64 474.2,339.93 474.5,339.23 474.8,339.78 475.0,340.34 475.2,340.33 475.5,340.32 475.8,340.37 476.0,340.42 476.2,340.41 476.5,340.40 476.8,339.88 477.0,339.36 477.2,339.66 477.5,339.96 477.8,339.72 478.0,339.47 478.2,339.40 478.5,339.32 478.8,339.74 479.0,340.15 479.2,338.89 479.5,337.63 479.8,338.85 480.0,340.06 480.2,340.15 480.5,340.23 480.8,340.30 481.0,339.40 481.2,337.02 481.5,334.80 481.8,334.81 482.0,337.48 482.2,339.79 482.5,340.11 482.8,340.16 483.0,340.20 483.2,339.42 483.5,338.65 483.8,339.62 484.0,340.59 484.2,340.46 484.5,340.33 484.8,339.70 485.0,339.08 485.2,339.81 485.5,338.49 485.8,335.55 486.0,333.93 486.2,336.25 486.5,338.54 486.8,340.22 487.0,340.35 487.2,339.49 487.5,338.63 487.8,339.36 488.0,340.09 488.2,340.15 488.5,340.20 488.8,340.24 489.0,340.27 489.2,340.31 489.5,340.35 489.8,340.41 490.0,340.47 490.2,340.55 490.5,340.63 490.8,340.63 491.0,340.64 491.2,340.20 491.5,339.76 491.8,339.57 492.0,339.37 492.2,339.86 492.5,340.35 492.8,340.39 493.0,340.43 493.2,340.45 493.5,340.46 493.8,340.42 494.0,340.39 494.2,340.28 494.5,340.18 494.8,340.15 495.0,340.12 495.2,340.13 495.5,340.14 495.8,338.10 496.0,336.05 496.2,338.21 496.5,340.01 496.8,339.44 497.0,339.14 497.2,339.42 497.5,338.81 497.8,339.53 498.0,340.26 498.2,340.33 498.5,340.39 498.8,340.39 499.0,340.40 499.2,340.44 499.5,340.47 499.8,340.28 500.0,340.09 500.2,340.19 500.5,340.29 500.8,340.33 501.0,340.38 501.2,339.33 501.5,338.29 501.8,339.42 502.0,340.55 502.2,340.58 502.5,340.61 502.8,340.59 503.0,340.57 503.2,340.53 503.5,340.50 503.8,339.83 504.0,339.16 504.2,339.70 504.5,340.11 504.8,339.43 505.0,339.11 505.2,338.86 505.5,337.43 505.8,338.98 506.0,340.52 506.2,340.50 506.5,340.47 506.8,339.88 507.0,339.29 507.2,339.87 507.5,340.44 507.8,339.80 508.0,339.17 508.2,339.85 508.5,340.53 508.8,340.53 509.0,340.53 509.2,340.24 509.5,339.94 509.8,339.90 510.0,339.86 510.2,340.23 510.5,340.60 510.8,340.55 511.0,340.49 511.2,340.43 511.5,340.36 511.8,340.34 512.0,340.31 512.2,340.01 512.5,339.70 512.8,337.17 513.0,327.29 513.2,319.41 513.5,323.16 513.8,334.42 514.0,339.31 514.2,339.37 514.5,339.44 514.8,339.94 515.0,340.44 515.2,340.44 515.5,340.44 515.8,339.75 516.0,339.06 516.2,339.75 516.5,340.44 516.8,340.49 517.0,340.54 517.2,340.45 517.5,340.36 517.8,339.90 518.0,339.44 518.2,339.84 518.5,340.24 518.8,340.21 519.0,340.19 519.2,339.33 519.5,338.48 519.8,338.63 520.0,338.77 520.2,339.62 520.5,340.47 520.8,339.66 521.0,338.85 521.2,339.72 521.5,340.58 521.8,339.92 522.0,339.26 522.2,339.95 522.5,340.65 522.8,339.96 523.0,339.27 523.2,339.73 523.5,340.20 523.8,340.20 524.0,340.21 524.2,339.78 524.5,339.36 524.8,338.83 525.0,338.31 525.2,339.21 525.5,340.10 525.8,339.28 526.0,338.46 526.2,339.28 526.5,340.10 526.8,340.07 527.0,340.04 527.2,339.97 527.5,339.90 527.8,339.73 528.0,339.57 528.2,339.77 528.5,339.97 528.8,339.99 529.0,340.01 529.2,339.59 529.5,339.17 529.8,339.61 530.0,339.46 530.2,339.66 530.5,340.09 530.8,339.71 531.0,339.22 531.2,339.60 531.5,339.97 531.8,339.91 532.0,339.84 532.2,339.76 532.5,339.68 532.8,339.19 533.0,338.71 533.2,339.46 533.5,340.22 533.8,338.96 534.0,337.70 534.2,339.03 534.5,340.36 534.8,340.12 535.0,339.87 535.2,340.14 535.5,340.41 535.8,340.42 536.0,340.44 536.2,340.47 536.5,340.51 536.8,339.68 537.0,338.85 537.2,339.70 537.5,340.55 537.8,340.04 538.0,339.52 538.2,339.90 538.5,340.28 538.8,340.31 539.0,340.33 539.2,340.35 539.5,340.37 539.8,340.36 540.0,340.36 540.2,340.27 540.5,340.19 540.8,340.07 541.0,339.95 541.2,339.93 541.5,339.91 541.8,338.73 542.0,337.55 542.2,338.90 542.5,340.26 542.8,340.29 543.0,340.33 543.2,340.27 543.5,340.22 543.8,340.16 544.0,340.10 544.2,340.15 544.5,340.19 544.8,340.26 545.0,340.32 545.2,340.10 545.5,339.89 545.8,340.21 546.0,340.54 546.2,340.43 546.5,340.31 546.8,339.03 547.0,337.74 547.2,338.89 547.5,340.04 547.8,340.05 548.0,340.05 548.2,340.03 548.5,340.00 548.8,340.16 549.0,340.32 549.2,340.37 549.5,340.42 549.8,340.40 550.0,340.39 550.2,340.39 550.5,340.40 550.8,340.38 551.0,340.37 551.2,340.36 551.5,340.35 551.8,340.28 552.0,340.22 552.2,340.13 552.5,340.05 552.8,339.99 553.0,339.93 553.2,339.99 553.5,340.04 553.8,339.53 554.0,339.03 554.2,339.75 554.5,340.47 554.8,340.51 555.0,340.55 555.2,340.47 555.5,340.38 555.8,340.37 556.0,340.35 556.2,339.11 556.5,337.88 556.8,339.15 557.0,340.41 557.2,340.48 557.5,340.55 557.8,340.60 558.0,340.65 558.2,340.36 558.5,340.07 558.8,340.37 559.0,340.68 559.2,340.13 559.5,339.59 559.8,339.84 560.0,340.10 560.2,340.26 560.5,340.42 560.8,340.07 561.0,339.72 561.2,340.06 561.5,340.41 561.8,340.39 562.0,340.36 562.2,340.30 562.5,340.24 562.8,340.20 563.0,340.15 563.2,339.47 563.5,338.80 563.8,339.47 564.0,340.15 564.2,340.11 564.5,340.07 564.8,339.41 565.0,338.74 565.2,339.46 565.5,340.17 565.8,340.23 566.0,340.30 566.2,340.24 566.5,340.18 566.8,340.10 567.0,340.02 567.2,340.01 567.5,340.01 567.8,340.03 568.0,340.06 568.2,340.14 568.5,340.21 568.8,340.21 569.0,340.21 569.2,340.06 569.5,339.91 569.8,340.01 570.0,340.11 570.2,340.14 570.5,340.16 570.8,340.17 571.0,340.17 571.2,340.12 571.5,340.06 571.8,340.21 572.0,340.35 572.2,339.88 572.5,339.40 572.8,339.89 573.0,340.37 573.2,339.94 573.5,339.51 573.8,339.94 574.0,340.37 574.2,340.44 574.5,340.51 574.8,340.31 575.0,340.11 575.2,340.32 575.5,340.54 575.8,340.51 576.0,340.49 576.2,340.41 576.5,340.34 576.8,340.39 577.0,340.44 577.2,339.83 577.5,339.22 577.8,339.85 578.0,340.49 578.2,340.49 578.5,340.49 578.8,340.50 579.0,340.51 579.2,340.55 579.5,340.59 579.8,340.59 580.0,340.60 580.2,339.76 580.5,338.93 580.8,339.68 581.0,340.43 581.2,340.38 581.5,340.32 581.8,340.29 582.0,340.27 582.2,340.22 582.5,340.17 582.8,338.83 583.0,337.48 583.2,338.82 583.5,340.16 583.8,340.17 584.0,340.18 584.2,340.26 584.5,340.35 584.8,340.28 585.0,340.22 585.2,340.37 585.5,340.51 585.8,340.53 586.0,340.56 586.2,340.49 586.5,340.41 586.8,340.33 587.0,340.26 587.2,339.28 587.5,338.30 587.8,338.34 588.0,338.38 588.2,339.11 588.5,339.84 588.8,339.09 589.0,338.34 589.2,338.37 589.5,338.40 589.8,339.43 590.0,340.46 590.2,340.44 590.5,340.42 590.8,340.41 591.0,340.41 591.2,340.33 591.5,340.26 591.8,340.23 592.0,340.20 592.2,340.25 592.5,340.30 592.8,340.36 593.0,340.43 593.2,339.86 593.5,339.30 593.8,339.91 594.0,340.52 594.2,340.48 594.5,340.44 594.8,340.43 595.0,340.42 595.2,340.40 595.5,340.37 595.8,340.32 596.0,340.28 596.2,340.31 596.5,340.34 596.8,340.37 597.0,340.40 597.2,340.47 597.5,340.54 597.8,340.58 598.0,340.62 598.2,340.53 598.5,340.45 598.8,340.39 599.0,340.33 599.2,340.34 599.5,340.18 599.8,339.94 600.0,339.76 600.2,339.88 600.5,340.27 600.8,340.55 601.0,340.56 601.2,340.46 601.5,340.37 601.8,340.26 602.0,340.16 602.2,339.96 602.5,339.75 602.8,339.90 603.0,340.04 603.2,340.11 603.5,340.18 603.8,340.29 604.0,340.40 604.2,340.41 604.5,340.41 604.8,340.42 605.0,340.42 605.2,340.42 605.5,340.41 605.8,340.41 606.0,340.41 606.2,339.99 606.5,339.56 606.8,339.92 607.0,340.28 607.2,340.27 607.5,340.26 607.8,340.03 608.0,339.80 608.2,339.94 608.5,340.07 608.8,340.01 609.0,339.95 609.2,339.94 609.5,339.93 609.8,339.41 610.0,338.89 610.2,339.54 610.5,340.18 610.8,340.17 611.0,340.15 611.2,340.16 611.5,340.17 611.8,340.03 612.0,339.90 612.2,339.60 612.5,339.30 612.8,339.60 613.0,339.89 613.2,339.33 613.5,338.78 613.8,339.48 614.0,340.18 614.2,340.25 614.5,340.33 614.8,340.31 615.0,340.29 615.2,340.20 615.5,340.11 615.8,340.13 616.0,340.16 616.2,340.06 616.5,339.97 616.8,339.94 617.0,339.91 617.2,339.96 617.5,340.01 617.8,340.05 618.0,340.08 618.2,340.16 618.5,340.24 618.8,339.76 619.0,339.29 619.2,339.82 619.5,340.36 619.8,340.32 620.0,340.29 620.2,340.18 620.5,340.07 620.8,339.66 621.0,339.24 621.2,339.55 621.5,339.86 621.8,339.86 622.0,339.86 622.2,339.95 622.5,340.04 622.8,340.01 623.0,339.99 623.2,340.06 623.5,340.14 623.8,339.45 624.0,338.76 624.2,339.43 624.5,340.10 624.8,340.02 625.0,339.93 625.2,339.92 625.5,339.91 625.8,340.01 626.0,340.12 626.2,340.13 626.5,340.14 626.8,339.20 627.0,338.27 627.2,339.26 627.5,340.26 627.8,339.86 628.0,339.45 628.2,339.80 628.5,340.16 628.8,339.39 629.0,338.62 629.2,339.43 629.5,340.23 629.8,340.27 630.0,340.31 630.2,340.25 630.5,340.20 630.8,340.20 631.0,340.19 631.2,340.02 631.5,339.85 631.8,339.47 632.0,339.09 632.2,339.67 632.5,340.25 632.8,340.15 633.0,340.05 633.2,339.99 633.5,339.94 633.8,340.01 634.0,340.07 634.2,339.93 634.5,339.79 634.8,340.08 635.0,340.37 635.2,340.39 635.5,340.41 635.8,340.24 636.0,340.07 636.2,340.24 636.5,340.40 636.8,340.42 637.0,340.44 637.2,340.46 637.5,340.48 637.8,340.44 638.0,340.41 638.2,340.41 638.5,340.41 638.8,340.37 639.0,340.33 639.2,340.31 639.5,340.27 639.8,339.98 640.0,339.80 640.2,339.96 640.5,340.18 640.8,340.24 641.0,340.06 641.2,339.27 641.5,338.48 641.8,339.46 642.0,340.45 642.2,340.33 642.5,340.21 642.8,340.24 643.0,340.28 643.2,340.25 643.5,340.23 643.8,340.21 644.0,340.20 644.2,340.24 644.5,340.28 644.8,340.33 645.0,340.39 645.2,340.44 645.5,340.48 645.8,340.45 646.0,340.42 646.2,339.61 646.5,338.79 646.8,339.54 647.0,340.28 647.2,340.29 647.5,340.30 647.8,340.33 648.0,340.37 648.2,340.37 648.5,340.37 648.8,340.38 649.0,340.39 649.2,340.29 649.5,340.20 649.8,340.32 650.0,340.43 650.2,340.48 650.5,340.53 650.8,340.52 651.0,340.51 651.2,339.90 651.5,339.29 651.8,339.69 652.0,340.09 652.2,340.01 652.5,339.93 652.8,339.67 653.0,339.41 653.2,339.89 653.5,340.37 653.8,340.46 654.0,340.55 654.2,340.58 654.5,340.60 654.8,340.58 655.0,340.56 655.2,340.56 655.5,340.57 655.8,340.61 656.0,340.66 656.2,340.67 656.5,340.68 656.8,340.63 657.0,340.58 657.2,340.53 657.5,340.48 657.8,340.28 658.0,340.08 658.2,340.16 658.5,340.24 658.8,340.27 659.0,340.29 659.2,340.29 659.5,340.29 659.8,340.19 660.0,340.09 660.2,340.23 660.5,340.37 660.8,340.40 661.0,340.42 661.2,340.35 661.5,340.28 661.8,339.61 662.0,338.94 662.2,339.58 662.5,340.23 662.8,340.03 663.0,339.83 663.2,340.11 663.5,340.38 663.8,340.14 664.0,339.89 664.2,340.14 664.5,340.38 664.8,339.48 665.0,338.57 665.2,339.54 665.5,340.50 665.8,340.50 666.0,340.50 666.2,339.69 666.5,338.89 666.8,339.65 667.0,340.41 667.2,340.31 667.5,340.20 667.8,340.35 668.0,340.50 668.2,340.49 668.5,340.48 668.8,340.52 669.0,340.56 669.2,340.56 669.2,340.90" fill="#8d8d8d" clip-path="url(#outBand)"/>
<polygon points="474.0,340.90 474.0,340.64 474.2,339.93 474.5,339.23 474.8,339.78 475.0,340.34 475.2,340.33 475.5,340.32 475.8,340.37 476.0,340.42 476.2,340.41 476.5,340.40 476.8,339.88 477.0,339.36 477.2,339.66 477.5,339.96 477.8,339.72 478.0,339.47 478.2,339.40 478.5,339.32 478.8,339.74 479.0,340.15 479.2,338.89 479.5,337.63 479.8,338.85 480.0,340.06 480.2,340.15 480.5,340.23 480.8,340.30 481.0,339.40 481.2,337.02 481.5,334.80 481.8,334.81 482.0,337.48 482.2,339.79 482.5,340.11 482.8,340.16 483.0,340.20 483.2,339.42 483.5,338.65 483.8,339.62 484.0,340.59 484.2,340.46 484.5,340.33 484.8,339.70 485.0,339.08 485.2,339.81 485.5,338.49 485.8,335.55 486.0,333.93 486.2,336.25 486.5,338.54 486.8,340.22 487.0,340.35 487.2,339.49 487.5,338.63 487.8,339.36 488.0,340.09 488.2,340.15 488.5,340.20 488.8,340.24 489.0,340.27 489.2,340.31 489.5,340.35 489.8,340.41 490.0,340.47 490.2,340.55 490.5,340.63 490.8,340.63 491.0,340.64 491.2,340.20 491.5,339.76 491.8,339.57 492.0,339.37 492.2,339.86 492.5,340.35 492.8,340.39 493.0,340.43 493.2,340.45 493.5,340.46 493.8,340.42 494.0,340.39 494.2,340.28 494.5,340.18 494.8,340.15 495.0,340.12 495.2,340.13 495.5,340.14 495.8,338.10 496.0,336.05 496.2,338.21 496.5,340.01 496.8,339.44 497.0,339.14 497.2,339.42 497.5,338.81 497.8,339.53 498.0,340.26 498.2,340.33 498.5,340.39 498.8,340.39 499.0,340.40 499.2,340.44 499.5,340.47 499.8,340.28 500.0,340.09 500.2,340.19 500.5,340.29 500.8,340.33 501.0,340.38 501.2,339.33 501.5,338.29 501.8,339.42 502.0,340.55 502.2,340.58 502.5,340.61 502.8,340.59 503.0,340.57 503.2,340.53 503.5,340.50 503.8,339.83 504.0,339.16 504.2,339.70 504.5,340.11 504.8,339.43 505.0,339.11 505.2,338.86 505.5,337.43 505.8,338.98 506.0,340.52 506.2,340.50 506.5,340.47 506.8,339.88 507.0,339.29 507.2,339.87 507.5,340.44 507.8,339.80 508.0,339.17 508.2,339.85 508.5,340.53 508.8,340.53 509.0,340.53 509.2,340.24 509.5,339.94 509.8,339.90 510.0,339.86 510.2,340.23 510.5,340.60 510.8,340.55 511.0,340.49 511.2,340.43 511.5,340.36 511.8,340.34 512.0,340.31 512.2,340.01 512.5,339.70 512.8,337.17 513.0,327.29 513.2,319.41 513.5,323.16 513.8,334.42 514.0,339.31 514.2,339.37 514.5,339.44 514.8,339.94 515.0,340.44 515.2,340.44 515.5,340.44 515.8,339.75 516.0,339.06 516.2,339.75 516.5,340.44 516.8,340.49 517.0,340.54 517.2,340.45 517.5,340.36 517.8,339.90 518.0,339.44 518.2,339.84 518.5,340.24 518.8,340.21 519.0,340.19 519.2,339.33 519.5,338.48 519.8,338.63 520.0,338.77 520.2,339.62 520.5,340.47 520.8,339.66 521.0,338.85 521.2,339.72 521.5,340.58 521.8,339.92 522.0,339.26 522.2,339.95 522.5,340.65 522.8,339.96 523.0,339.27 523.2,339.73 523.5,340.20 523.8,340.20 524.0,340.21 524.2,339.78 524.5,339.36 524.8,338.83 525.0,338.31 525.2,339.21 525.5,340.10 525.8,339.28 526.0,338.46 526.2,339.28 526.5,340.10 526.8,340.07 527.0,340.04 527.2,339.97 527.5,339.90 527.8,339.73 528.0,339.57 528.2,339.77 528.5,339.97 528.8,339.99 529.0,340.01 529.2,339.59 529.5,339.17 529.8,339.61 530.0,339.46 530.2,339.66 530.5,340.09 530.8,339.71 531.0,339.22 531.2,339.60 531.5,339.97 531.8,339.91 532.0,339.84 532.2,339.76 532.5,339.68 532.8,339.19 533.0,338.71 533.2,339.46 533.5,340.22 533.8,338.96 534.0,337.70 534.2,339.03 534.5,340.36 534.8,340.12 535.0,339.87 535.2,340.14 535.5,340.41 535.8,340.42 536.0,340.44 536.2,340.47 536.5,340.51 536.8,339.68 537.0,338.85 537.2,339.70 537.5,340.55 537.8,340.04 538.0,339.52 538.2,339.90 538.5,340.28 538.8,340.31 539.0,340.33 539.2,340.35 539.5,340.37 539.8,340.36 540.0,340.36 540.2,340.27 540.5,340.19 540.8,340.07 541.0,339.95 541.2,339.93 541.5,339.91 541.8,338.73 542.0,337.55 542.2,338.90 542.5,340.26 542.8,340.29 543.0,340.33 543.2,340.27 543.5,340.22 543.8,340.16 544.0,340.10 544.2,340.15 544.5,340.19 544.8,340.26 545.0,340.32 545.2,340.10 545.5,339.89 545.8,340.21 546.0,340.54 546.2,340.43 546.5,340.31 546.8,339.03 547.0,337.74 547.2,338.89 547.5,340.04 547.8,340.05 548.0,340.05 548.2,340.03 548.5,340.00 548.8,340.16 549.0,340.32 549.2,340.37 549.5,340.42 549.8,340.40 550.0,340.39 550.2,340.39 550.5,340.40 550.8,340.38 551.0,340.37 551.2,340.36 551.5,340.35 551.8,340.28 552.0,340.22 552.2,340.13 552.5,340.05 552.8,339.99 553.0,339.93 553.2,339.99 553.5,340.04 553.8,339.53 554.0,339.03 554.2,339.75 554.5,340.47 554.8,340.51 555.0,340.55 555.2,340.47 555.5,340.38 555.8,340.37 556.0,340.35 556.2,339.11 556.5,337.88 556.8,339.15 557.0,340.41 557.2,340.48 557.5,340.55 557.8,340.60 558.0,340.65 558.2,340.36 558.5,340.07 558.8,340.37 559.0,340.68 559.2,340.13 559.5,339.59 559.8,339.84 560.0,340.10 560.2,340.26 560.5,340.42 560.8,340.07 561.0,339.72 561.2,340.06 561.5,340.41 561.8,340.39 562.0,340.36 562.2,340.30 562.5,340.24 562.8,340.20 563.0,340.15 563.2,339.47 563.5,338.80 563.8,339.47 564.0,340.15 564.2,340.11 564.5,340.07 564.8,339.41 565.0,338.74 565.2,339.46 565.5,340.17 565.8,340.23 566.0,340.30 566.2,340.24 566.5,340.18 566.8,340.10 567.0,340.02 567.2,340.01 567.5,340.01 567.8,340.03 568.0,340.06 568.2,340.14 568.5,340.21 568.8,340.21 569.0,340.21 569.2,340.06 569.5,339.91 569.8,340.01 570.0,340.11 570.2,340.14 570.5,340.16 570.8,340.17 571.0,340.17 571.2,340.12 571.5,340.06 571.8,340.21 572.0,340.35 572.2,339.88 572.5,339.40 572.8,339.89 573.0,340.37 573.2,339.94 573.5,339.51 573.8,339.94 574.0,340.37 574.2,340.44 574.5,340.51 574.8,340.31 575.0,340.11 575.2,340.32 575.5,340.54 575.8,340.51 576.0,340.49 576.2,340.41 576.5,340.34 576.8,340.39 577.0,340.44 577.2,339.83 577.5,339.22 577.8,339.85 578.0,340.49 578.2,340.49 578.5,340.49 578.8,340.50 579.0,340.51 579.2,340.55 579.5,340.59 579.8,340.59 580.0,340.60 580.2,339.76 580.5,338.93 580.8,339.68 581.0,340.43 581.2,340.38 581.5,340.32 581.8,340.29 582.0,340.27 582.2,340.22 582.5,340.17 582.8,338.83 583.0,337.48 583.2,338.82 583.5,340.16 583.8,340.17 584.0,340.18 584.2,340.26 584.5,340.35 584.8,340.28 585.0,340.22 585.2,340.37 585.5,340.51 585.8,340.53 586.0,340.56 586.2,340.49 586.5,340.41 586.8,340.33 587.0,340.26 587.2,339.28 587.5,338.30 587.8,338.34 588.0,338.38 588.2,339.11 588.5,339.84 588.8,339.09 589.0,338.34 589.2,338.37 589.5,338.40 589.8,339.43 590.0,340.46 590.2,340.44 590.5,340.42 590.8,340.41 591.0,340.41 591.2,340.33 591.5,340.26 591.8,340.23 592.0,340.20 592.2,340.25 592.5,340.30 592.8,340.36 593.0,340.43 593.2,339.86 593.5,339.30 593.8,339.91 594.0,340.52 594.2,340.48 594.5,340.44 594.8,340.43 595.0,340.42 595.2,340.40 595.5,340.37 595.8,340.32 596.0,340.28 596.2,340.31 596.5,340.34 596.8,340.37 597.0,340.40 597.2,340.47 597.5,340.54 597.8,340.58 598.0,340.62 598.2,340.53 598.5,340.45 598.8,340.39 599.0,340.33 599.2,340.34 599.5,340.18 599.8,339.94 600.0,339.76 600.2,339.88 600.5,340.27 600.8,340.55 601.0,340.56 601.2,340.46 601.5,340.37 601.8,340.26 602.0,340.16 602.2,339.96 602.5,339.75 602.8,339.90 603.0,340.04 603.2,340.11 603.5,340.18 603.8,340.29 604.0,340.40 604.2,340.41 604.5,340.41 604.8,340.42 605.0,340.42 605.2,340.42 605.5,340.41 605.8,340.41 606.0,340.41 606.2,339.99 606.5,339.56 606.8,339.92 607.0,340.28 607.2,340.27 607.5,340.26 607.8,340.03 608.0,339.80 608.2,339.94 608.5,340.07 608.8,340.01 609.0,339.95 609.2,339.94 609.5,339.93 609.8,339.41 610.0,338.89 610.2,339.54 610.5,340.18 610.8,340.17 611.0,340.15 611.2,340.16 611.5,340.17 611.8,340.03 612.0,339.90 612.2,339.60 612.5,339.30 612.8,339.60 613.0,339.89 613.2,339.33 613.5,338.78 613.8,339.48 614.0,340.18 614.2,340.25 614.5,340.33 614.8,340.31 615.0,340.29 615.2,340.20 615.5,340.11 615.8,340.13 616.0,340.16 616.2,340.06 616.5,339.97 616.8,339.94 617.0,339.91 617.2,339.96 617.5,340.01 617.8,340.05 618.0,340.08 618.2,340.16 618.5,340.24 618.8,339.76 619.0,339.29 619.2,339.82 619.5,340.36 619.8,340.32 620.0,340.29 620.2,340.18 620.5,340.07 620.8,339.66 621.0,339.24 621.2,339.55 621.5,339.86 621.8,339.86 622.0,339.86 622.2,339.95 622.5,340.04 622.8,340.01 623.0,339.99 623.2,340.06 623.5,340.14 623.8,339.45 624.0,338.76 624.2,339.43 624.5,340.10 624.8,340.02 625.0,339.93 625.2,339.92 625.5,339.91 625.8,340.01 626.0,340.12 626.2,340.13 626.5,340.14 626.8,339.20 627.0,338.27 627.2,339.26 627.5,340.26 627.8,339.86 628.0,339.45 628.2,339.80 628.5,340.16 628.8,339.39 629.0,338.62 629.2,339.43 629.5,340.23 629.8,340.27 630.0,340.31 630.2,340.25 630.5,340.20 630.8,340.20 631.0,340.19 631.2,340.02 631.5,339.85 631.8,339.47 632.0,339.09 632.2,339.67 632.5,340.25 632.8,340.15 633.0,340.05 633.2,339.99 633.5,339.94 633.8,340.01 634.0,340.07 634.2,339.93 634.5,339.79 634.8,340.08 635.0,340.37 635.2,340.39 635.5,340.41 635.8,340.24 636.0,340.07 636.2,340.24 636.5,340.40 636.8,340.42 637.0,340.44 637.2,340.46 637.5,340.48 637.8,340.44 638.0,340.41 638.2,340.41 638.5,340.41 638.8,340.37 639.0,340.33 639.2,340.31 639.5,340.27 639.8,339.98 640.0,339.80 640.2,339.96 640.5,340.18 640.8,340.24 641.0,340.06 641.2,339.27 641.5,338.48 641.8,339.46 642.0,340.45 642.2,340.33 642.5,340.21 642.8,340.24 643.0,340.28 643.2,340.25 643.5,340.23 643.8,340.21 644.0,340.20 644.2,340.24 644.5,340.28 644.8,340.33 645.0,340.39 645.2,340.44 645.5,340.48 645.8,340.45 646.0,340.42 646.2,339.61 646.5,338.79 646.8,339.54 647.0,340.28 647.2,340.29 647.5,340.30 647.8,340.33 648.0,340.37 648.2,340.37 648.5,340.37 648.8,340.38 649.0,340.39 649.2,340.29 649.5,340.20 649.8,340.32 650.0,340.43 650.2,340.48 650.5,340.53 650.8,340.52 651.0,340.51 651.2,339.90 651.5,339.29 651.8,339.69 652.0,340.09 652.2,340.01 652.5,339.93 652.8,339.67 653.0,339.41 653.2,339.89 653.5,340.37 653.8,340.46 654.0,340.55 654.2,340.58 654.5,340.60 654.8,340.58 655.0,340.56 655.2,340.56 655.5,340.57 655.8,340.61 656.0,340.66 656.2,340.67 656.5,340.68 656.8,340.63 657.0,340.58 657.2,340.53 657.5,340.48 657.8,340.28 658.0,340.08 658.2,340.16 658.5,340.24 658.8,340.27 659.0,340.29 659.2,340.29 659.5,340.29 659.8,340.19 660.0,340.09 660.2,340.23 660.5,340.37 660.8,340.40 661.0,340.42 661.2,340.35 661.5,340.28 661.8,339.61 662.0,338.94 662.2,339.58 662.5,340.23 662.8,340.03 663.0,339.83 663.2,340.11 663.5,340.38 663.8,340.14 664.0,339.89 664.2,340.14 664.5,340.38 664.8,339.48 665.0,338.57 665.2,339.54 665.5,340.50 665.8,340.50 666.0,340.50 666.2,339.69 666.5,338.89 666.8,339.65 667.0,340.41 667.2,340.31 667.5,340.20 667.8,340.35 668.0,340.50 668.2,340.49 668.5,340.48 668.8,340.52 669.0,340.56 669.2,340.56 669.2,340.90" fill="#b8b8c4" clip-path="url(#inBand)"/>
<line x1="474.00" y1="340.90" x2="602.50" y2="340.90" stroke="#8d8d8d" stroke-width="0.6"/>
<line x1="602.50" y1="340.90" x2="616.40" y2="340.90" stroke="#b8b8c4" stroke-width="0.6"/>
<line x1="616.40" y1="340.90" x2="669.50" y2="340.90" stroke="#8d8d8d" stroke-width="0.6"/>
<line x1="602.40" y1="169.00" x2="602.40" y2="341.00" stroke="#666" stroke-width="0.75" stroke-dasharray="2.2,1.6"/>
<line x1="616.40" y1="169.00" x2="616.40" y2="341.00" stroke="#666" stroke-width="0.75" stroke-dasharray="2.2,1.6"/>
<text x="487.40" y="197.70" font-size="6.9" fill="#333">SEM-4.L2</text>
<text x="487.40" y="226.10" font-size="6.9" fill="#333">C34F6.9-1.L2</text>
<text x="487.40" y="257.90" font-size="6.9" fill="#333">CES-1.L1</text>
<text x="487.40" y="289.80" font-size="6.9" fill="#333">MEP-1.L1</text>
<text x="487.40" y="321.90" font-size="6.9" fill="#333">DPL-1.L1</text>
<text x="674.00" y="256.50" font-size="6.7" text-anchor="middle" fill="#333" transform="rotate(90 674.00 256.50)">Signal tracks</text>
</svg>
</body></html>
